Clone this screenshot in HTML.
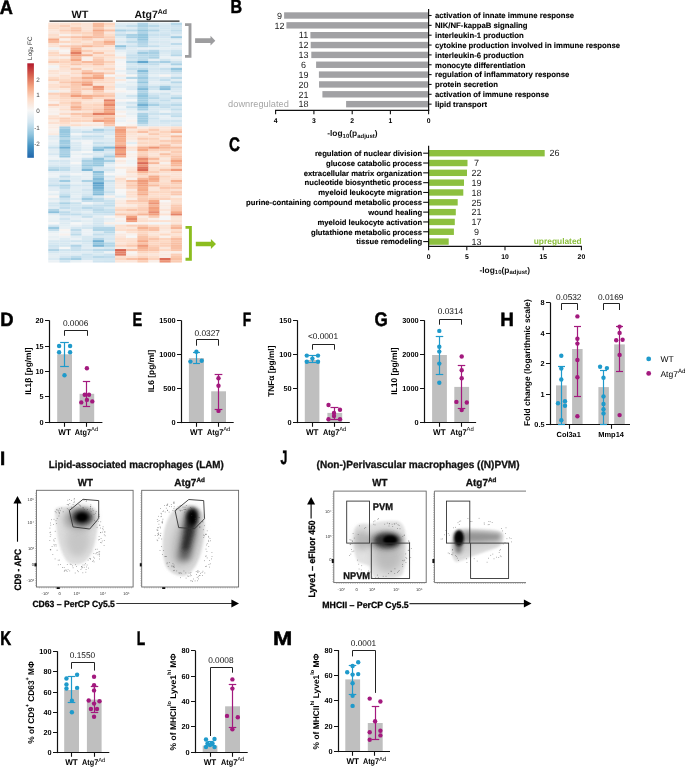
<!DOCTYPE html>
<html><head><meta charset="utf-8"><style>
html,body{margin:0;padding:0;background:#fff;width:685px;height:767px;overflow:hidden}
svg{display:block;will-change:transform}
text{font-family:"Liberation Sans", sans-serif;text-rendering:geometricPrecision}
</style></head><body>
<svg width="685" height="767" viewBox="0 0 685 767">
<text transform="translate(-0.15,13.60) scale(0.934,1)" font-size="19.48" font-weight="bold" fill="#000" stroke="#000" stroke-width="0.5">A</text>
<defs><filter id="hb" x="-2%" y="-2%" width="104%" height="104%"><feGaussianBlur stdDeviation="0.45"/></filter><linearGradient id="cbar" x1="0" y1="0" x2="0" y2="1"><stop offset="0.000" stop-color="#b2182b"/><stop offset="0.125" stop-color="#d6604d"/><stop offset="0.250" stop-color="#f4a582"/><stop offset="0.375" stop-color="#fddbc7"/><stop offset="0.500" stop-color="#f7f7f7"/><stop offset="0.625" stop-color="#d1e5f0"/><stop offset="0.750" stop-color="#92c5de"/><stop offset="0.875" stop-color="#4393c3"/><stop offset="1.000" stop-color="#2166ac"/></linearGradient></defs>
<g filter="url(#hb)">
<rect x="48.25" y="22.65" width="11.23" height="2.36" fill="#fbe3d5" />
<rect x="59.38" y="22.65" width="11.23" height="2.36" fill="#fce1d1" />
<rect x="70.52" y="22.65" width="11.23" height="2.36" fill="#fddbc7" />
<rect x="81.65" y="22.65" width="11.23" height="2.36" fill="#fbe3d5" />
<rect x="92.78" y="22.65" width="11.23" height="2.36" fill="#f8bb9e" />
<rect x="103.92" y="22.65" width="11.23" height="2.36" fill="#fcd5bf" />
<rect x="115.05" y="22.65" width="11.23" height="2.36" fill="#dfecf3" />
<rect x="126.18" y="22.65" width="11.23" height="2.36" fill="#ddebf2" />
<rect x="137.32" y="22.65" width="11.23" height="2.36" fill="#b0d4e7" />
<rect x="148.45" y="22.65" width="11.23" height="2.36" fill="#d6e8f1" />
<rect x="159.58" y="22.65" width="11.23" height="2.36" fill="#dbeaf2" />
<rect x="170.72" y="22.65" width="11.23" height="2.36" fill="#b5d7e8" />
<rect x="48.25" y="24.91" width="11.23" height="2.36" fill="#fdddca" />
<rect x="59.38" y="24.91" width="11.23" height="2.36" fill="#fbcfb8" />
<rect x="70.52" y="24.91" width="11.23" height="2.36" fill="#fce0cf" />
<rect x="81.65" y="24.91" width="11.23" height="2.36" fill="#fbe3d6" />
<rect x="92.78" y="24.91" width="11.23" height="2.36" fill="#f7ba9c" />
<rect x="103.92" y="24.91" width="11.23" height="2.36" fill="#fcdecc" />
<rect x="115.05" y="24.91" width="11.23" height="2.36" fill="#d6e7f1" />
<rect x="126.18" y="24.91" width="11.23" height="2.36" fill="#c4deec" />
<rect x="137.32" y="24.91" width="11.23" height="2.36" fill="#a7d0e4" />
<rect x="148.45" y="24.91" width="11.23" height="2.36" fill="#bad9e9" />
<rect x="159.58" y="24.91" width="11.23" height="2.36" fill="#d4e6f0" />
<rect x="170.72" y="24.91" width="11.23" height="2.36" fill="#cce2ef" />
<rect x="48.25" y="27.16" width="11.23" height="2.36" fill="#fddcc8" />
<rect x="59.38" y="27.16" width="11.23" height="2.36" fill="#fdddca" />
<rect x="70.52" y="27.16" width="11.23" height="2.36" fill="#fac9af" />
<rect x="81.65" y="27.16" width="11.23" height="2.36" fill="#fbe3d5" />
<rect x="92.78" y="27.16" width="11.23" height="2.36" fill="#fac8ae" />
<rect x="103.92" y="27.16" width="11.23" height="2.36" fill="#fbe6d9" />
<rect x="115.05" y="27.16" width="11.23" height="2.36" fill="#ddebf2" />
<rect x="126.18" y="27.16" width="11.23" height="2.36" fill="#dceaf2" />
<rect x="137.32" y="27.16" width="11.23" height="2.36" fill="#b5d7e8" />
<rect x="148.45" y="27.16" width="11.23" height="2.36" fill="#d0e5f0" />
<rect x="159.58" y="27.16" width="11.23" height="2.36" fill="#d1e5f0" />
<rect x="170.72" y="27.16" width="11.23" height="2.36" fill="#cfe4ef" />
<rect x="48.25" y="29.42" width="11.23" height="2.36" fill="#fbe5d8" />
<rect x="59.38" y="29.42" width="11.23" height="2.36" fill="#fbcfb8" />
<rect x="70.52" y="29.42" width="11.23" height="2.36" fill="#f9c0a5" />
<rect x="81.65" y="29.42" width="11.23" height="2.36" fill="#fcdfcf" />
<rect x="92.78" y="29.42" width="11.23" height="2.36" fill="#f4a785" />
<rect x="103.92" y="29.42" width="11.23" height="2.36" fill="#f9c2a7" />
<rect x="115.05" y="29.42" width="11.23" height="2.36" fill="#abd2e5" />
<rect x="126.18" y="29.42" width="11.23" height="2.36" fill="#bbdaea" />
<rect x="137.32" y="29.42" width="11.23" height="2.36" fill="#97c8df" />
<rect x="148.45" y="29.42" width="11.23" height="2.36" fill="#b2d5e7" />
<rect x="159.58" y="29.42" width="11.23" height="2.36" fill="#d3e6f0" />
<rect x="170.72" y="29.42" width="11.23" height="2.36" fill="#bfdceb" />
<rect x="48.25" y="31.68" width="11.23" height="2.36" fill="#fae7dc" />
<rect x="59.38" y="31.68" width="11.23" height="2.36" fill="#fce0d0" />
<rect x="70.52" y="31.68" width="11.23" height="2.36" fill="#fcd5bf" />
<rect x="81.65" y="31.68" width="11.23" height="2.36" fill="#fcd4be" />
<rect x="92.78" y="31.68" width="11.23" height="2.36" fill="#f8bfa4" />
<rect x="103.92" y="31.68" width="11.23" height="2.36" fill="#fbe6db" />
<rect x="115.05" y="31.68" width="11.23" height="2.36" fill="#d6e7f1" />
<rect x="126.18" y="31.68" width="11.23" height="2.36" fill="#e2edf3" />
<rect x="137.32" y="31.68" width="11.23" height="2.36" fill="#b0d4e7" />
<rect x="148.45" y="31.68" width="11.23" height="2.36" fill="#d6e8f1" />
<rect x="159.58" y="31.68" width="11.23" height="2.36" fill="#d4e7f1" />
<rect x="170.72" y="31.68" width="11.23" height="2.36" fill="#d1e5f0" />
<rect x="48.25" y="33.93" width="11.23" height="2.36" fill="#fcdecd" />
<rect x="59.38" y="33.93" width="11.23" height="2.36" fill="#f8f1ec" />
<rect x="70.52" y="33.93" width="11.23" height="2.36" fill="#fbe6da" />
<rect x="81.65" y="33.93" width="11.23" height="2.36" fill="#fddcc8" />
<rect x="92.78" y="33.93" width="11.23" height="2.36" fill="#f9c3a9" />
<rect x="103.92" y="33.93" width="11.23" height="2.36" fill="#fcdecb" />
<rect x="115.05" y="33.93" width="11.23" height="2.36" fill="#c3deec" />
<rect x="126.18" y="33.93" width="11.23" height="2.36" fill="#a9d1e5" />
<rect x="137.32" y="33.93" width="11.23" height="2.36" fill="#95c7df" />
<rect x="148.45" y="33.93" width="11.23" height="2.36" fill="#c9e1ee" />
<rect x="159.58" y="33.93" width="11.23" height="2.36" fill="#cde3ef" />
<rect x="170.72" y="33.93" width="11.23" height="2.36" fill="#dfecf3" />
<rect x="48.25" y="36.19" width="11.23" height="2.36" fill="#fcdecc" />
<rect x="59.38" y="36.19" width="11.23" height="2.36" fill="#fbd0b9" />
<rect x="70.52" y="36.19" width="11.23" height="2.36" fill="#f9c1a6" />
<rect x="81.65" y="36.19" width="11.23" height="2.36" fill="#f7b697" />
<rect x="92.78" y="36.19" width="11.23" height="2.36" fill="#f8bea3" />
<rect x="103.92" y="36.19" width="11.23" height="2.36" fill="#fbcfb8" />
<rect x="115.05" y="36.19" width="11.23" height="2.36" fill="#d6e8f1" />
<rect x="126.18" y="36.19" width="11.23" height="2.36" fill="#a6cfe4" />
<rect x="137.32" y="36.19" width="11.23" height="2.36" fill="#91c5de" />
<rect x="148.45" y="36.19" width="11.23" height="2.36" fill="#d2e6f0" />
<rect x="159.58" y="36.19" width="11.23" height="2.36" fill="#d4e6f1" />
<rect x="170.72" y="36.19" width="11.23" height="2.36" fill="#9fcbe2" />
<rect x="48.25" y="38.45" width="11.23" height="2.36" fill="#f5a987" />
<rect x="59.38" y="38.45" width="11.23" height="2.36" fill="#f9f0ea" />
<rect x="70.52" y="38.45" width="11.23" height="2.36" fill="#fddcc9" />
<rect x="81.65" y="38.45" width="11.23" height="2.36" fill="#fbd1ba" />
<rect x="92.78" y="38.45" width="11.23" height="2.36" fill="#fbe5d8" />
<rect x="103.92" y="38.45" width="11.23" height="2.36" fill="#fbd1bb" />
<rect x="115.05" y="38.45" width="11.23" height="2.36" fill="#e4eef3" />
<rect x="126.18" y="38.45" width="11.23" height="2.36" fill="#d3e6f0" />
<rect x="137.32" y="38.45" width="11.23" height="2.36" fill="#96c7df" />
<rect x="148.45" y="38.45" width="11.23" height="2.36" fill="#dceaf2" />
<rect x="159.58" y="38.45" width="11.23" height="2.36" fill="#ddebf2" />
<rect x="170.72" y="38.45" width="11.23" height="2.36" fill="#e1edf3" />
<rect x="48.25" y="40.70" width="11.23" height="2.36" fill="#f8bda0" />
<rect x="59.38" y="40.70" width="11.23" height="2.36" fill="#fcd7c2" />
<rect x="70.52" y="40.70" width="11.23" height="2.36" fill="#fddbc6" />
<rect x="81.65" y="40.70" width="11.23" height="2.36" fill="#fbe5d8" />
<rect x="92.78" y="40.70" width="11.23" height="2.36" fill="#fbccb4" />
<rect x="103.92" y="40.70" width="11.23" height="2.36" fill="#f5ac8b" />
<rect x="115.05" y="40.70" width="11.23" height="2.36" fill="#d9e9f1" />
<rect x="126.18" y="40.70" width="11.23" height="2.36" fill="#bfdceb" />
<rect x="137.32" y="40.70" width="11.23" height="2.36" fill="#aed3e6" />
<rect x="148.45" y="40.70" width="11.23" height="2.36" fill="#d4e6f0" />
<rect x="159.58" y="40.70" width="11.23" height="2.36" fill="#d9e9f1" />
<rect x="170.72" y="40.70" width="11.23" height="2.36" fill="#e4eef4" />
<rect x="48.25" y="42.96" width="11.23" height="2.36" fill="#fce1d2" />
<rect x="59.38" y="42.96" width="11.23" height="2.36" fill="#f9ede7" />
<rect x="70.52" y="42.96" width="11.23" height="2.36" fill="#fbe3d5" />
<rect x="81.65" y="42.96" width="11.23" height="2.36" fill="#fddbc7" />
<rect x="92.78" y="42.96" width="11.23" height="2.36" fill="#fbceb6" />
<rect x="103.92" y="42.96" width="11.23" height="2.36" fill="#f7b99c" />
<rect x="115.05" y="42.96" width="11.23" height="2.36" fill="#e4eef4" />
<rect x="126.18" y="42.96" width="11.23" height="2.36" fill="#dae9f2" />
<rect x="137.32" y="42.96" width="11.23" height="2.36" fill="#b8d8e9" />
<rect x="148.45" y="42.96" width="11.23" height="2.36" fill="#deebf2" />
<rect x="159.58" y="42.96" width="11.23" height="2.36" fill="#ddeaf2" />
<rect x="170.72" y="42.96" width="11.23" height="2.36" fill="#bedbeb" />
<rect x="48.25" y="45.22" width="11.23" height="2.36" fill="#fbe2d4" />
<rect x="59.38" y="45.22" width="11.23" height="2.36" fill="#fbceb7" />
<rect x="70.52" y="45.22" width="11.23" height="2.36" fill="#f9c5ab" />
<rect x="81.65" y="45.22" width="11.23" height="2.36" fill="#f7b596" />
<rect x="92.78" y="45.22" width="11.23" height="2.36" fill="#fac9b0" />
<rect x="103.92" y="45.22" width="11.23" height="2.36" fill="#fcdfcf" />
<rect x="115.05" y="45.22" width="11.23" height="2.36" fill="#8fc3dd" />
<rect x="126.18" y="45.22" width="11.23" height="2.36" fill="#c8e1ee" />
<rect x="137.32" y="45.22" width="11.23" height="2.36" fill="#b2d5e7" />
<rect x="148.45" y="45.22" width="11.23" height="2.36" fill="#c3deec" />
<rect x="159.58" y="45.22" width="11.23" height="2.36" fill="#d7e8f1" />
<rect x="170.72" y="45.22" width="11.23" height="2.36" fill="#e0ecf3" />
<rect x="48.25" y="47.47" width="11.23" height="2.36" fill="#eff3f6" />
<rect x="59.38" y="47.47" width="11.23" height="2.36" fill="#faeae1" />
<rect x="70.52" y="47.47" width="11.23" height="2.36" fill="#f6b293" />
<rect x="81.65" y="47.47" width="11.23" height="2.36" fill="#fae7db" />
<rect x="92.78" y="47.47" width="11.23" height="2.36" fill="#fae9df" />
<rect x="103.92" y="47.47" width="11.23" height="2.36" fill="#fae8de" />
<rect x="115.05" y="47.47" width="11.23" height="2.36" fill="#c3deec" />
<rect x="126.18" y="47.47" width="11.23" height="2.36" fill="#deebf2" />
<rect x="137.32" y="47.47" width="11.23" height="2.36" fill="#e6eff4" />
<rect x="148.45" y="47.47" width="11.23" height="2.36" fill="#e8f0f4" />
<rect x="159.58" y="47.47" width="11.23" height="2.36" fill="#e4eef4" />
<rect x="170.72" y="47.47" width="11.23" height="2.36" fill="#e3edf3" />
<rect x="48.25" y="49.73" width="11.23" height="2.36" fill="#fae7dc" />
<rect x="59.38" y="49.73" width="11.23" height="2.36" fill="#f8f5f3" />
<rect x="70.52" y="49.73" width="11.23" height="2.36" fill="#f4a784" />
<rect x="81.65" y="49.73" width="11.23" height="2.36" fill="#fbcdb5" />
<rect x="92.78" y="49.73" width="11.23" height="2.36" fill="#fce2d3" />
<rect x="103.92" y="49.73" width="11.23" height="2.36" fill="#fce1d1" />
<rect x="115.05" y="49.73" width="11.23" height="2.36" fill="#e5eef4" />
<rect x="126.18" y="49.73" width="11.23" height="2.36" fill="#dbeaf2" />
<rect x="137.32" y="49.73" width="11.23" height="2.36" fill="#c6dfed" />
<rect x="148.45" y="49.73" width="11.23" height="2.36" fill="#b4d6e8" />
<rect x="159.58" y="49.73" width="11.23" height="2.36" fill="#d5e7f1" />
<rect x="170.72" y="49.73" width="11.23" height="2.36" fill="#cce3ef" />
<rect x="48.25" y="51.98" width="11.23" height="2.36" fill="#fcd8c3" />
<rect x="59.38" y="51.98" width="11.23" height="2.36" fill="#f9efea" />
<rect x="70.52" y="51.98" width="11.23" height="2.36" fill="#e27d63" />
<rect x="81.65" y="51.98" width="11.23" height="2.36" fill="#fbe2d4" />
<rect x="92.78" y="51.98" width="11.23" height="2.36" fill="#f9c3a8" />
<rect x="103.92" y="51.98" width="11.23" height="2.36" fill="#fae8dd" />
<rect x="115.05" y="51.98" width="11.23" height="2.36" fill="#eef3f5" />
<rect x="126.18" y="51.98" width="11.23" height="2.36" fill="#d8e8f1" />
<rect x="137.32" y="51.98" width="11.23" height="2.36" fill="#9ecbe1" />
<rect x="148.45" y="51.98" width="11.23" height="2.36" fill="#a8d0e4" />
<rect x="159.58" y="51.98" width="11.23" height="2.36" fill="#dbeaf2" />
<rect x="170.72" y="51.98" width="11.23" height="2.36" fill="#cae2ee" />
<rect x="48.25" y="54.24" width="11.23" height="2.36" fill="#fdd9c4" />
<rect x="59.38" y="54.24" width="11.23" height="2.36" fill="#fbd1ba" />
<rect x="70.52" y="54.24" width="11.23" height="2.36" fill="#f2a17f" />
<rect x="81.65" y="54.24" width="11.23" height="2.36" fill="#f6b191" />
<rect x="92.78" y="54.24" width="11.23" height="2.36" fill="#fce1d1" />
<rect x="103.92" y="54.24" width="11.23" height="2.36" fill="#fcd6c1" />
<rect x="115.05" y="54.24" width="11.23" height="2.36" fill="#eef3f5" />
<rect x="126.18" y="54.24" width="11.23" height="2.36" fill="#c5dfed" />
<rect x="137.32" y="54.24" width="11.23" height="2.36" fill="#b6d7e8" />
<rect x="148.45" y="54.24" width="11.23" height="2.36" fill="#b1d5e7" />
<rect x="159.58" y="54.24" width="11.23" height="2.36" fill="#deebf2" />
<rect x="170.72" y="54.24" width="11.23" height="2.36" fill="#b6d7e8" />
<rect x="48.25" y="56.50" width="11.23" height="2.36" fill="#fae9df" />
<rect x="59.38" y="56.50" width="11.23" height="2.36" fill="#f9eee7" />
<rect x="70.52" y="56.50" width="11.23" height="2.36" fill="#f8bda0" />
<rect x="81.65" y="56.50" width="11.23" height="2.36" fill="#f9efe8" />
<rect x="92.78" y="56.50" width="11.23" height="2.36" fill="#fbd1ba" />
<rect x="103.92" y="56.50" width="11.23" height="2.36" fill="#fce2d2" />
<rect x="115.05" y="56.50" width="11.23" height="2.36" fill="#fae8dd" />
<rect x="126.18" y="56.50" width="11.23" height="2.36" fill="#c4deec" />
<rect x="137.32" y="56.50" width="11.23" height="2.36" fill="#bbdaea" />
<rect x="148.45" y="56.50" width="11.23" height="2.36" fill="#abd2e5" />
<rect x="159.58" y="56.50" width="11.23" height="2.36" fill="#eaf1f5" />
<rect x="170.72" y="56.50" width="11.23" height="2.36" fill="#edf2f5" />
<rect x="48.25" y="58.75" width="11.23" height="2.36" fill="#fcdecc" />
<rect x="59.38" y="58.75" width="11.23" height="2.36" fill="#fddbc6" />
<rect x="70.52" y="58.75" width="11.23" height="2.36" fill="#f5a987" />
<rect x="81.65" y="58.75" width="11.23" height="2.36" fill="#f9efe9" />
<rect x="92.78" y="58.75" width="11.23" height="2.36" fill="#fac8af" />
<rect x="103.92" y="58.75" width="11.23" height="2.36" fill="#fbe5d8" />
<rect x="115.05" y="58.75" width="11.23" height="2.36" fill="#f1f4f6" />
<rect x="126.18" y="58.75" width="11.23" height="2.36" fill="#d3e6f0" />
<rect x="137.32" y="58.75" width="11.23" height="2.36" fill="#bbdaea" />
<rect x="148.45" y="58.75" width="11.23" height="2.36" fill="#e7eff4" />
<rect x="159.58" y="58.75" width="11.23" height="2.36" fill="#d2e6f0" />
<rect x="170.72" y="58.75" width="11.23" height="2.36" fill="#e3eef3" />
<rect x="48.25" y="61.01" width="11.23" height="2.36" fill="#fac9b0" />
<rect x="59.38" y="61.01" width="11.23" height="2.36" fill="#fcd3bd" />
<rect x="70.52" y="61.01" width="11.23" height="2.36" fill="#fbcfb8" />
<rect x="81.65" y="61.01" width="11.23" height="2.36" fill="#f8ba9d" />
<rect x="92.78" y="61.01" width="11.23" height="2.36" fill="#f9c2a7" />
<rect x="103.92" y="61.01" width="11.23" height="2.36" fill="#fbd1ba" />
<rect x="115.05" y="61.01" width="11.23" height="2.36" fill="#f5f6f7" />
<rect x="126.18" y="61.01" width="11.23" height="2.36" fill="#aad1e5" />
<rect x="137.32" y="61.01" width="11.23" height="2.36" fill="#63a7ce" />
<rect x="148.45" y="61.01" width="11.23" height="2.36" fill="#b6d7e8" />
<rect x="159.58" y="61.01" width="11.23" height="2.36" fill="#a7cfe4" />
<rect x="170.72" y="61.01" width="11.23" height="2.36" fill="#cce2ee" />
<rect x="48.25" y="63.27" width="11.23" height="2.36" fill="#fae9de" />
<rect x="59.38" y="63.27" width="11.23" height="2.36" fill="#fddcc9" />
<rect x="70.52" y="63.27" width="11.23" height="2.36" fill="#f9c4a9" />
<rect x="81.65" y="63.27" width="11.23" height="2.36" fill="#fcd5c0" />
<rect x="92.78" y="63.27" width="11.23" height="2.36" fill="#f8bca0" />
<rect x="103.92" y="63.27" width="11.23" height="2.36" fill="#fcdecc" />
<rect x="115.05" y="63.27" width="11.23" height="2.36" fill="#f7f5f4" />
<rect x="126.18" y="63.27" width="11.23" height="2.36" fill="#d5e7f1" />
<rect x="137.32" y="63.27" width="11.23" height="2.36" fill="#c1ddeb" />
<rect x="148.45" y="63.27" width="11.23" height="2.36" fill="#c0dceb" />
<rect x="159.58" y="63.27" width="11.23" height="2.36" fill="#deebf2" />
<rect x="170.72" y="63.27" width="11.23" height="2.36" fill="#aad1e5" />
<rect x="48.25" y="65.52" width="11.23" height="2.36" fill="#f1f4f6" />
<rect x="59.38" y="65.52" width="11.23" height="2.36" fill="#fddbc7" />
<rect x="70.52" y="65.52" width="11.23" height="2.36" fill="#fae7dc" />
<rect x="81.65" y="65.52" width="11.23" height="2.36" fill="#fce1d1" />
<rect x="92.78" y="65.52" width="11.23" height="2.36" fill="#fcdfce" />
<rect x="103.92" y="65.52" width="11.23" height="2.36" fill="#fbe5d9" />
<rect x="115.05" y="65.52" width="11.23" height="2.36" fill="#f2f5f6" />
<rect x="126.18" y="65.52" width="11.23" height="2.36" fill="#d2e6f0" />
<rect x="137.32" y="65.52" width="11.23" height="2.36" fill="#d4e6f1" />
<rect x="148.45" y="65.52" width="11.23" height="2.36" fill="#d9e9f1" />
<rect x="159.58" y="65.52" width="11.23" height="2.36" fill="#e5eef4" />
<rect x="170.72" y="65.52" width="11.23" height="2.36" fill="#e3eef3" />
<rect x="48.25" y="67.78" width="11.23" height="2.36" fill="#f8f1ec" />
<rect x="59.38" y="67.78" width="11.23" height="2.36" fill="#fbe3d5" />
<rect x="70.52" y="67.78" width="11.23" height="2.36" fill="#f9c6ac" />
<rect x="81.65" y="67.78" width="11.23" height="2.36" fill="#fae9de" />
<rect x="92.78" y="67.78" width="11.23" height="2.36" fill="#fdddcb" />
<rect x="103.92" y="67.78" width="11.23" height="2.36" fill="#fcd6c0" />
<rect x="115.05" y="67.78" width="11.23" height="2.36" fill="#f8f4f2" />
<rect x="126.18" y="67.78" width="11.23" height="2.36" fill="#c4deec" />
<rect x="137.32" y="67.78" width="11.23" height="2.36" fill="#b9d9e9" />
<rect x="148.45" y="67.78" width="11.23" height="2.36" fill="#d4e6f0" />
<rect x="159.58" y="67.78" width="11.23" height="2.36" fill="#c8e0ed" />
<rect x="170.72" y="67.78" width="11.23" height="2.36" fill="#93c5de" />
<rect x="48.25" y="70.04" width="11.23" height="2.36" fill="#fce2d3" />
<rect x="59.38" y="70.04" width="11.23" height="2.36" fill="#fbe6d9" />
<rect x="70.52" y="70.04" width="11.23" height="2.36" fill="#fce2d3" />
<rect x="81.65" y="70.04" width="11.23" height="2.36" fill="#fac8af" />
<rect x="92.78" y="70.04" width="11.23" height="2.36" fill="#fae7dc" />
<rect x="103.92" y="70.04" width="11.23" height="2.36" fill="#fbe4d6" />
<rect x="115.05" y="70.04" width="11.23" height="2.36" fill="#e9f0f4" />
<rect x="126.18" y="70.04" width="11.23" height="2.36" fill="#d9e9f1" />
<rect x="137.32" y="70.04" width="11.23" height="2.36" fill="#83bcd9" />
<rect x="148.45" y="70.04" width="11.23" height="2.36" fill="#d9e9f1" />
<rect x="159.58" y="70.04" width="11.23" height="2.36" fill="#d5e7f1" />
<rect x="170.72" y="70.04" width="11.23" height="2.36" fill="#b5d7e8" />
<rect x="48.25" y="72.29" width="11.23" height="2.36" fill="#fbe4d6" />
<rect x="59.38" y="72.29" width="11.23" height="2.36" fill="#faebe3" />
<rect x="70.52" y="72.29" width="11.23" height="2.36" fill="#fdd9c5" />
<rect x="81.65" y="72.29" width="11.23" height="2.36" fill="#f5a987" />
<rect x="92.78" y="72.29" width="11.23" height="2.36" fill="#f7b496" />
<rect x="103.92" y="72.29" width="11.23" height="2.36" fill="#fbcfb8" />
<rect x="115.05" y="72.29" width="11.23" height="2.36" fill="#f3f5f6" />
<rect x="126.18" y="72.29" width="11.23" height="2.36" fill="#d2e5f0" />
<rect x="137.32" y="72.29" width="11.23" height="2.36" fill="#a5cfe3" />
<rect x="148.45" y="72.29" width="11.23" height="2.36" fill="#d9e9f1" />
<rect x="159.58" y="72.29" width="11.23" height="2.36" fill="#d8e8f1" />
<rect x="170.72" y="72.29" width="11.23" height="2.36" fill="#cfe4ef" />
<rect x="48.25" y="74.55" width="11.23" height="2.36" fill="#faeae1" />
<rect x="59.38" y="74.55" width="11.23" height="2.36" fill="#fcdfce" />
<rect x="70.52" y="74.55" width="11.23" height="2.36" fill="#fbe5d9" />
<rect x="81.65" y="74.55" width="11.23" height="2.36" fill="#fcd3bd" />
<rect x="92.78" y="74.55" width="11.23" height="2.36" fill="#f5ae8d" />
<rect x="103.92" y="74.55" width="11.23" height="2.36" fill="#f5f6f7" />
<rect x="115.05" y="74.55" width="11.23" height="2.36" fill="#f9ece5" />
<rect x="126.18" y="74.55" width="11.23" height="2.36" fill="#f7f5f3" />
<rect x="137.32" y="74.55" width="11.23" height="2.36" fill="#b2d5e7" />
<rect x="148.45" y="74.55" width="11.23" height="2.36" fill="#e7f0f4" />
<rect x="159.58" y="74.55" width="11.23" height="2.36" fill="#f8f4f2" />
<rect x="170.72" y="74.55" width="11.23" height="2.36" fill="#dfecf3" />
<rect x="48.25" y="76.81" width="11.23" height="2.36" fill="#fddbc7" />
<rect x="59.38" y="76.81" width="11.23" height="2.36" fill="#fce2d2" />
<rect x="70.52" y="76.81" width="11.23" height="2.36" fill="#fbcfb8" />
<rect x="81.65" y="76.81" width="11.23" height="2.36" fill="#f5ab89" />
<rect x="92.78" y="76.81" width="11.23" height="2.36" fill="#f3a280" />
<rect x="103.92" y="76.81" width="11.23" height="2.36" fill="#fddcc9" />
<rect x="115.05" y="76.81" width="11.23" height="2.36" fill="#eaf1f5" />
<rect x="126.18" y="76.81" width="11.23" height="2.36" fill="#b7d8e8" />
<rect x="137.32" y="76.81" width="11.23" height="2.36" fill="#9bcae1" />
<rect x="148.45" y="76.81" width="11.23" height="2.36" fill="#d6e7f1" />
<rect x="159.58" y="76.81" width="11.23" height="2.36" fill="#d4e6f0" />
<rect x="170.72" y="76.81" width="11.23" height="2.36" fill="#b9d9e9" />
<rect x="48.25" y="79.06" width="11.23" height="2.36" fill="#fbd0b8" />
<rect x="59.38" y="79.06" width="11.23" height="2.36" fill="#fcd8c3" />
<rect x="70.52" y="79.06" width="11.23" height="2.36" fill="#fcd3bd" />
<rect x="81.65" y="79.06" width="11.23" height="2.36" fill="#fac7ae" />
<rect x="92.78" y="79.06" width="11.23" height="2.36" fill="#fcd3bd" />
<rect x="103.92" y="79.06" width="11.23" height="2.36" fill="#fce0d0" />
<rect x="115.05" y="79.06" width="11.23" height="2.36" fill="#faeae0" />
<rect x="126.18" y="79.06" width="11.23" height="2.36" fill="#f1f4f6" />
<rect x="137.32" y="79.06" width="11.23" height="2.36" fill="#b2d5e7" />
<rect x="148.45" y="79.06" width="11.23" height="2.36" fill="#dceaf2" />
<rect x="159.58" y="79.06" width="11.23" height="2.36" fill="#c2deec" />
<rect x="170.72" y="79.06" width="11.23" height="2.36" fill="#e2edf3" />
<rect x="48.25" y="81.32" width="11.23" height="2.36" fill="#fae9e0" />
<rect x="59.38" y="81.32" width="11.23" height="2.36" fill="#fac8af" />
<rect x="70.52" y="81.32" width="11.23" height="2.36" fill="#f7b596" />
<rect x="81.65" y="81.32" width="11.23" height="2.36" fill="#f5a987" />
<rect x="92.78" y="81.32" width="11.23" height="2.36" fill="#fddac6" />
<rect x="103.92" y="81.32" width="11.23" height="2.36" fill="#fddbc7" />
<rect x="115.05" y="81.32" width="11.23" height="2.36" fill="#f0f4f6" />
<rect x="126.18" y="81.32" width="11.23" height="2.36" fill="#dfecf3" />
<rect x="137.32" y="81.32" width="11.23" height="2.36" fill="#93c6de" />
<rect x="148.45" y="81.32" width="11.23" height="2.36" fill="#e5eef4" />
<rect x="159.58" y="81.32" width="11.23" height="2.36" fill="#dfecf3" />
<rect x="170.72" y="81.32" width="11.23" height="2.36" fill="#b6d7e8" />
<rect x="48.25" y="83.58" width="11.23" height="2.36" fill="#fce0cf" />
<rect x="59.38" y="83.58" width="11.23" height="2.36" fill="#fdddcb" />
<rect x="70.52" y="83.58" width="11.23" height="2.36" fill="#fac6ad" />
<rect x="81.65" y="83.58" width="11.23" height="2.36" fill="#ed9576" />
<rect x="92.78" y="83.58" width="11.23" height="2.36" fill="#fbe6d9" />
<rect x="103.92" y="83.58" width="11.23" height="2.36" fill="#fbe5d8" />
<rect x="115.05" y="83.58" width="11.23" height="2.36" fill="#e3eef3" />
<rect x="126.18" y="83.58" width="11.23" height="2.36" fill="#e8f0f4" />
<rect x="137.32" y="83.58" width="11.23" height="2.36" fill="#b8d8e9" />
<rect x="148.45" y="83.58" width="11.23" height="2.36" fill="#e0ecf3" />
<rect x="159.58" y="83.58" width="11.23" height="2.36" fill="#d9e9f1" />
<rect x="170.72" y="83.58" width="11.23" height="2.36" fill="#d9e9f1" />
<rect x="48.25" y="85.83" width="11.23" height="2.36" fill="#fce0d0" />
<rect x="59.38" y="85.83" width="11.23" height="2.36" fill="#fbd1bb" />
<rect x="70.52" y="85.83" width="11.23" height="2.36" fill="#faccb3" />
<rect x="81.65" y="85.83" width="11.23" height="2.36" fill="#fddac6" />
<rect x="92.78" y="85.83" width="11.23" height="2.36" fill="#ed9475" />
<rect x="103.92" y="85.83" width="11.23" height="2.36" fill="#fddcc9" />
<rect x="115.05" y="85.83" width="11.23" height="2.36" fill="#e4eef4" />
<rect x="126.18" y="85.83" width="11.23" height="2.36" fill="#dceaf2" />
<rect x="137.32" y="85.83" width="11.23" height="2.36" fill="#a3cde3" />
<rect x="148.45" y="85.83" width="11.23" height="2.36" fill="#c8e0ed" />
<rect x="159.58" y="85.83" width="11.23" height="2.36" fill="#9bc9e1" />
<rect x="170.72" y="85.83" width="11.23" height="2.36" fill="#cae1ee" />
<rect x="48.25" y="88.09" width="11.23" height="2.36" fill="#fbe6d9" />
<rect x="59.38" y="88.09" width="11.23" height="2.36" fill="#fbe7db" />
<rect x="70.52" y="88.09" width="11.23" height="2.36" fill="#facbb3" />
<rect x="81.65" y="88.09" width="11.23" height="2.36" fill="#fac8af" />
<rect x="92.78" y="88.09" width="11.23" height="2.36" fill="#f19f7e" />
<rect x="103.92" y="88.09" width="11.23" height="2.36" fill="#fce0cf" />
<rect x="115.05" y="88.09" width="11.23" height="2.36" fill="#f4f6f6" />
<rect x="126.18" y="88.09" width="11.23" height="2.36" fill="#dae9f2" />
<rect x="137.32" y="88.09" width="11.23" height="2.36" fill="#81bad8" />
<rect x="148.45" y="88.09" width="11.23" height="2.36" fill="#cfe4ef" />
<rect x="159.58" y="88.09" width="11.23" height="2.36" fill="#89bfdb" />
<rect x="170.72" y="88.09" width="11.23" height="2.36" fill="#d7e8f1" />
<rect x="48.25" y="90.35" width="11.23" height="2.36" fill="#eaf1f5" />
<rect x="59.38" y="90.35" width="11.23" height="2.36" fill="#f9ece4" />
<rect x="70.52" y="90.35" width="11.23" height="2.36" fill="#fac7ae" />
<rect x="81.65" y="90.35" width="11.23" height="2.36" fill="#fbe4d6" />
<rect x="92.78" y="90.35" width="11.23" height="2.36" fill="#facab1" />
<rect x="103.92" y="90.35" width="11.23" height="2.36" fill="#faebe3" />
<rect x="115.05" y="90.35" width="11.23" height="2.36" fill="#f8f2ee" />
<rect x="126.18" y="90.35" width="11.23" height="2.36" fill="#f3f5f6" />
<rect x="137.32" y="90.35" width="11.23" height="2.36" fill="#afd3e6" />
<rect x="148.45" y="90.35" width="11.23" height="2.36" fill="#e8f0f4" />
<rect x="159.58" y="90.35" width="11.23" height="2.36" fill="#e7eff4" />
<rect x="170.72" y="90.35" width="11.23" height="2.36" fill="#d8e8f1" />
<rect x="48.25" y="92.60" width="11.23" height="2.36" fill="#fbd0b8" />
<rect x="59.38" y="92.60" width="11.23" height="2.36" fill="#facbb2" />
<rect x="70.52" y="92.60" width="11.23" height="2.36" fill="#f8bea2" />
<rect x="81.65" y="92.60" width="11.23" height="2.36" fill="#fce0cf" />
<rect x="92.78" y="92.60" width="11.23" height="2.36" fill="#fbd0b8" />
<rect x="103.92" y="92.60" width="11.23" height="2.36" fill="#fbd2bb" />
<rect x="115.05" y="92.60" width="11.23" height="2.36" fill="#e9f0f4" />
<rect x="126.18" y="92.60" width="11.23" height="2.36" fill="#edf2f5" />
<rect x="137.32" y="92.60" width="11.23" height="2.36" fill="#a1cde2" />
<rect x="148.45" y="92.60" width="11.23" height="2.36" fill="#d5e7f1" />
<rect x="159.58" y="92.60" width="11.23" height="2.36" fill="#cfe4ef" />
<rect x="170.72" y="92.60" width="11.23" height="2.36" fill="#e7eff4" />
<rect x="48.25" y="94.86" width="11.23" height="2.36" fill="#fce0d0" />
<rect x="59.38" y="94.86" width="11.23" height="2.36" fill="#fbd1bb" />
<rect x="70.52" y="94.86" width="11.23" height="2.36" fill="#f19d7c" />
<rect x="81.65" y="94.86" width="11.23" height="2.36" fill="#f5ad8c" />
<rect x="92.78" y="94.86" width="11.23" height="2.36" fill="#f7b99c" />
<rect x="103.92" y="94.86" width="11.23" height="2.36" fill="#fac7ad" />
<rect x="115.05" y="94.86" width="11.23" height="2.36" fill="#e7f0f4" />
<rect x="126.18" y="94.86" width="11.23" height="2.36" fill="#cfe4ef" />
<rect x="137.32" y="94.86" width="11.23" height="2.36" fill="#91c5de" />
<rect x="148.45" y="94.86" width="11.23" height="2.36" fill="#c7e0ed" />
<rect x="159.58" y="94.86" width="11.23" height="2.36" fill="#d9e9f2" />
<rect x="170.72" y="94.86" width="11.23" height="2.36" fill="#cee4ef" />
<rect x="48.25" y="97.12" width="11.23" height="2.36" fill="#fcdfcd" />
<rect x="59.38" y="97.12" width="11.23" height="2.36" fill="#fcd8c3" />
<rect x="70.52" y="97.12" width="11.23" height="2.36" fill="#fbd0b9" />
<rect x="81.65" y="97.12" width="11.23" height="2.36" fill="#f7b495" />
<rect x="92.78" y="97.12" width="11.23" height="2.36" fill="#fcd7c2" />
<rect x="103.92" y="97.12" width="11.23" height="2.36" fill="#fdd8c4" />
<rect x="115.05" y="97.12" width="11.23" height="2.36" fill="#e5eef4" />
<rect x="126.18" y="97.12" width="11.23" height="2.36" fill="#dfecf3" />
<rect x="137.32" y="97.12" width="11.23" height="2.36" fill="#9ecbe1" />
<rect x="148.45" y="97.12" width="11.23" height="2.36" fill="#b5d7e8" />
<rect x="159.58" y="97.12" width="11.23" height="2.36" fill="#d2e5f0" />
<rect x="170.72" y="97.12" width="11.23" height="2.36" fill="#acd2e5" />
<rect x="48.25" y="99.37" width="11.23" height="2.36" fill="#fbe5d8" />
<rect x="59.38" y="99.37" width="11.23" height="2.36" fill="#fdddca" />
<rect x="70.52" y="99.37" width="11.23" height="2.36" fill="#fddcc8" />
<rect x="81.65" y="99.37" width="11.23" height="2.36" fill="#fce0d0" />
<rect x="92.78" y="99.37" width="11.23" height="2.36" fill="#fbe6da" />
<rect x="103.92" y="99.37" width="11.23" height="2.36" fill="#e48066" />
<rect x="115.05" y="99.37" width="11.23" height="2.36" fill="#f8f4f2" />
<rect x="126.18" y="99.37" width="11.23" height="2.36" fill="#f7f7f7" />
<rect x="137.32" y="99.37" width="11.23" height="2.36" fill="#a1cde2" />
<rect x="148.45" y="99.37" width="11.23" height="2.36" fill="#d3e6f0" />
<rect x="159.58" y="99.37" width="11.23" height="2.36" fill="#c3deec" />
<rect x="170.72" y="99.37" width="11.23" height="2.36" fill="#deebf2" />
<rect x="48.25" y="101.63" width="11.23" height="2.36" fill="#f9efea" />
<rect x="59.38" y="101.63" width="11.23" height="2.36" fill="#fcd7c2" />
<rect x="70.52" y="101.63" width="11.23" height="2.36" fill="#f9c0a5" />
<rect x="81.65" y="101.63" width="11.23" height="2.36" fill="#fbe3d5" />
<rect x="92.78" y="101.63" width="11.23" height="2.36" fill="#fce1d0" />
<rect x="103.92" y="101.63" width="11.23" height="2.36" fill="#f3a280" />
<rect x="115.05" y="101.63" width="11.23" height="2.36" fill="#e3edf3" />
<rect x="126.18" y="101.63" width="11.23" height="2.36" fill="#cfe4ef" />
<rect x="137.32" y="101.63" width="11.23" height="2.36" fill="#9dcbe1" />
<rect x="148.45" y="101.63" width="11.23" height="2.36" fill="#c8e1ee" />
<rect x="159.58" y="101.63" width="11.23" height="2.36" fill="#d6e8f1" />
<rect x="170.72" y="101.63" width="11.23" height="2.36" fill="#d1e5f0" />
<rect x="48.25" y="103.88" width="11.23" height="2.36" fill="#fbcdb6" />
<rect x="59.38" y="103.88" width="11.23" height="2.36" fill="#fce0cf" />
<rect x="70.52" y="103.88" width="11.23" height="2.36" fill="#facbb3" />
<rect x="81.65" y="103.88" width="11.23" height="2.36" fill="#fddac6" />
<rect x="92.78" y="103.88" width="11.23" height="2.36" fill="#fcd4be" />
<rect x="103.92" y="103.88" width="11.23" height="2.36" fill="#e7876b" />
<rect x="115.05" y="103.88" width="11.23" height="2.36" fill="#e5eff4" />
<rect x="126.18" y="103.88" width="11.23" height="2.36" fill="#e0ecf3" />
<rect x="137.32" y="103.88" width="11.23" height="2.36" fill="#73b1d3" />
<rect x="148.45" y="103.88" width="11.23" height="2.36" fill="#a7d0e4" />
<rect x="159.58" y="103.88" width="11.23" height="2.36" fill="#c7e0ed" />
<rect x="170.72" y="103.88" width="11.23" height="2.36" fill="#b9d9e9" />
<rect x="48.25" y="106.14" width="11.23" height="2.36" fill="#fae8dd" />
<rect x="59.38" y="106.14" width="11.23" height="2.36" fill="#fbe5d9" />
<rect x="70.52" y="106.14" width="11.23" height="2.36" fill="#f5ae8d" />
<rect x="81.65" y="106.14" width="11.23" height="2.36" fill="#fcd8c3" />
<rect x="92.78" y="106.14" width="11.23" height="2.36" fill="#fdd8c4" />
<rect x="103.92" y="106.14" width="11.23" height="2.36" fill="#f5aa89" />
<rect x="115.05" y="106.14" width="11.23" height="2.36" fill="#f1f4f6" />
<rect x="126.18" y="106.14" width="11.23" height="2.36" fill="#c7e0ed" />
<rect x="137.32" y="106.14" width="11.23" height="2.36" fill="#9bcae1" />
<rect x="148.45" y="106.14" width="11.23" height="2.36" fill="#d3e6f0" />
<rect x="159.58" y="106.14" width="11.23" height="2.36" fill="#c4deec" />
<rect x="170.72" y="106.14" width="11.23" height="2.36" fill="#d5e7f1" />
<rect x="48.25" y="108.40" width="11.23" height="2.36" fill="#f9f0ea" />
<rect x="59.38" y="108.40" width="11.23" height="2.36" fill="#fcdfcd" />
<rect x="70.52" y="108.40" width="11.23" height="2.36" fill="#f7b89b" />
<rect x="81.65" y="108.40" width="11.23" height="2.36" fill="#fbd1bb" />
<rect x="92.78" y="108.40" width="11.23" height="2.36" fill="#fac9b0" />
<rect x="103.92" y="108.40" width="11.23" height="2.36" fill="#ef9979" />
<rect x="115.05" y="108.40" width="11.23" height="2.36" fill="#e6eff4" />
<rect x="126.18" y="108.40" width="11.23" height="2.36" fill="#e3eef3" />
<rect x="137.32" y="108.40" width="11.23" height="2.36" fill="#a5cfe4" />
<rect x="148.45" y="108.40" width="11.23" height="2.36" fill="#d7e8f1" />
<rect x="159.58" y="108.40" width="11.23" height="2.36" fill="#d9e9f1" />
<rect x="170.72" y="108.40" width="11.23" height="2.36" fill="#c1ddeb" />
<rect x="48.25" y="110.65" width="11.23" height="2.36" fill="#f8f0eb" />
<rect x="59.38" y="110.65" width="11.23" height="2.36" fill="#faebe3" />
<rect x="70.52" y="110.65" width="11.23" height="2.36" fill="#fae8dd" />
<rect x="81.65" y="110.65" width="11.23" height="2.36" fill="#fbe3d5" />
<rect x="92.78" y="110.65" width="11.23" height="2.36" fill="#facbb3" />
<rect x="103.92" y="110.65" width="11.23" height="2.36" fill="#f5aa88" />
<rect x="115.05" y="110.65" width="11.23" height="2.36" fill="#f8f0eb" />
<rect x="126.18" y="110.65" width="11.23" height="2.36" fill="#ecf2f5" />
<rect x="137.32" y="110.65" width="11.23" height="2.36" fill="#dceaf2" />
<rect x="148.45" y="110.65" width="11.23" height="2.36" fill="#d7e8f1" />
<rect x="159.58" y="110.65" width="11.23" height="2.36" fill="#edf2f5" />
<rect x="170.72" y="110.65" width="11.23" height="2.36" fill="#dceaf2" />
<rect x="48.25" y="112.91" width="11.23" height="2.36" fill="#f8f2ef" />
<rect x="59.38" y="112.91" width="11.23" height="2.36" fill="#fcddcb" />
<rect x="70.52" y="112.91" width="11.23" height="2.36" fill="#f9c4aa" />
<rect x="81.65" y="112.91" width="11.23" height="2.36" fill="#f9c5aa" />
<rect x="92.78" y="112.91" width="11.23" height="2.36" fill="#e27d63" />
<rect x="103.92" y="112.91" width="11.23" height="2.36" fill="#e68569" />
<rect x="115.05" y="112.91" width="11.23" height="2.36" fill="#f6f6f7" />
<rect x="126.18" y="112.91" width="11.23" height="2.36" fill="#e6eff4" />
<rect x="137.32" y="112.91" width="11.23" height="2.36" fill="#abd2e5" />
<rect x="148.45" y="112.91" width="11.23" height="2.36" fill="#cbe2ee" />
<rect x="159.58" y="112.91" width="11.23" height="2.36" fill="#cae1ee" />
<rect x="170.72" y="112.91" width="11.23" height="2.36" fill="#cbe2ee" />
<rect x="48.25" y="115.17" width="11.23" height="2.36" fill="#fbe2d3" />
<rect x="59.38" y="115.17" width="11.23" height="2.36" fill="#f9ece4" />
<rect x="70.52" y="115.17" width="11.23" height="2.36" fill="#fddbc8" />
<rect x="81.65" y="115.17" width="11.23" height="2.36" fill="#f9c5ab" />
<rect x="92.78" y="115.17" width="11.23" height="2.36" fill="#f9c4aa" />
<rect x="103.92" y="115.17" width="11.23" height="2.36" fill="#fac7ad" />
<rect x="115.05" y="115.17" width="11.23" height="2.36" fill="#f9ede5" />
<rect x="126.18" y="115.17" width="11.23" height="2.36" fill="#eef3f5" />
<rect x="137.32" y="115.17" width="11.23" height="2.36" fill="#9dcbe1" />
<rect x="148.45" y="115.17" width="11.23" height="2.36" fill="#dbeaf2" />
<rect x="159.58" y="115.17" width="11.23" height="2.36" fill="#e5eff4" />
<rect x="170.72" y="115.17" width="11.23" height="2.36" fill="#bfdceb" />
<rect x="48.25" y="117.42" width="11.23" height="2.36" fill="#fddcc9" />
<rect x="59.38" y="117.42" width="11.23" height="2.36" fill="#fbcfb7" />
<rect x="70.52" y="117.42" width="11.23" height="2.36" fill="#fddbc8" />
<rect x="81.65" y="117.42" width="11.23" height="2.36" fill="#fdddca" />
<rect x="92.78" y="117.42" width="11.23" height="2.36" fill="#f9c4aa" />
<rect x="103.92" y="117.42" width="11.23" height="2.36" fill="#f6ae8e" />
<rect x="115.05" y="117.42" width="11.23" height="2.36" fill="#eff3f5" />
<rect x="126.18" y="117.42" width="11.23" height="2.36" fill="#f3f5f6" />
<rect x="137.32" y="117.42" width="11.23" height="2.36" fill="#9fcce2" />
<rect x="148.45" y="117.42" width="11.23" height="2.36" fill="#cde3ef" />
<rect x="159.58" y="117.42" width="11.23" height="2.36" fill="#e4eef4" />
<rect x="170.72" y="117.42" width="11.23" height="2.36" fill="#e4eef4" />
<rect x="48.25" y="119.68" width="11.23" height="2.36" fill="#faebe2" />
<rect x="59.38" y="119.68" width="11.23" height="2.36" fill="#fcd4be" />
<rect x="70.52" y="119.68" width="11.23" height="2.36" fill="#fcd5bf" />
<rect x="81.65" y="119.68" width="11.23" height="2.36" fill="#fcd5c0" />
<rect x="92.78" y="119.68" width="11.23" height="2.36" fill="#f09c7b" />
<rect x="103.92" y="119.68" width="11.23" height="2.36" fill="#f5aa89" />
<rect x="115.05" y="119.68" width="11.23" height="2.36" fill="#ebf1f5" />
<rect x="126.18" y="119.68" width="11.23" height="2.36" fill="#f8f2ee" />
<rect x="137.32" y="119.68" width="11.23" height="2.36" fill="#9ecbe1" />
<rect x="148.45" y="119.68" width="11.23" height="2.36" fill="#d9e9f1" />
<rect x="159.58" y="119.68" width="11.23" height="2.36" fill="#cfe4ef" />
<rect x="170.72" y="119.68" width="11.23" height="2.36" fill="#cfe4ef" />
<rect x="48.25" y="121.94" width="11.23" height="2.36" fill="#fce1d2" />
<rect x="59.38" y="121.94" width="11.23" height="2.36" fill="#fdddca" />
<rect x="70.52" y="121.94" width="11.23" height="2.36" fill="#faebe2" />
<rect x="81.65" y="121.94" width="11.23" height="2.36" fill="#f8f0eb" />
<rect x="92.78" y="121.94" width="11.23" height="2.36" fill="#f9eee7" />
<rect x="103.92" y="121.94" width="11.23" height="2.36" fill="#f8bca0" />
<rect x="115.05" y="121.94" width="11.23" height="2.36" fill="#f7f6f5" />
<rect x="126.18" y="121.94" width="11.23" height="2.36" fill="#f2f5f6" />
<rect x="137.32" y="121.94" width="11.23" height="2.36" fill="#aed3e6" />
<rect x="148.45" y="121.94" width="11.23" height="2.36" fill="#dceaf2" />
<rect x="159.58" y="121.94" width="11.23" height="2.36" fill="#d8e8f1" />
<rect x="170.72" y="121.94" width="11.23" height="2.36" fill="#deebf2" />
<rect x="48.25" y="124.19" width="11.23" height="2.36" fill="#f9eee8" />
<rect x="59.38" y="124.19" width="11.23" height="2.36" fill="#fbe3d5" />
<rect x="70.52" y="124.19" width="11.23" height="2.36" fill="#fddcc8" />
<rect x="81.65" y="124.19" width="11.23" height="2.36" fill="#fbe4d7" />
<rect x="92.78" y="124.19" width="11.23" height="2.36" fill="#fbe6db" />
<rect x="103.92" y="124.19" width="11.23" height="2.36" fill="#fac8af" />
<rect x="115.05" y="124.19" width="11.23" height="2.36" fill="#f6f7f7" />
<rect x="126.18" y="124.19" width="11.23" height="2.36" fill="#f9efea" />
<rect x="137.32" y="124.19" width="11.23" height="2.36" fill="#c8e1ed" />
<rect x="148.45" y="124.19" width="11.23" height="2.36" fill="#dae9f2" />
<rect x="159.58" y="124.19" width="11.23" height="2.36" fill="#ddeaf2" />
<rect x="170.72" y="124.19" width="11.23" height="2.36" fill="#d4e6f0" />
<rect x="48.25" y="126.45" width="11.23" height="2.33" fill="#faebe3" />
<rect x="59.38" y="126.45" width="11.23" height="2.33" fill="#a8d0e4" />
<rect x="70.52" y="126.45" width="11.23" height="2.33" fill="#eaf1f5" />
<rect x="81.65" y="126.45" width="11.23" height="2.33" fill="#eaf1f5" />
<rect x="92.78" y="126.45" width="11.23" height="2.33" fill="#eef3f5" />
<rect x="103.92" y="126.45" width="11.23" height="2.33" fill="#d8e8f1" />
<rect x="115.05" y="126.45" width="11.23" height="2.33" fill="#f5ad8c" />
<rect x="126.18" y="126.45" width="11.23" height="2.33" fill="#f9c5ac" />
<rect x="137.32" y="126.45" width="11.23" height="2.33" fill="#faebe3" />
<rect x="148.45" y="126.45" width="11.23" height="2.33" fill="#fbe4d6" />
<rect x="159.58" y="126.45" width="11.23" height="2.33" fill="#fbe5d8" />
<rect x="170.72" y="126.45" width="11.23" height="2.33" fill="#fcdecd" />
<rect x="48.25" y="128.68" width="11.23" height="2.33" fill="#f8f2ee" />
<rect x="59.38" y="128.68" width="11.23" height="2.33" fill="#98c8e0" />
<rect x="70.52" y="128.68" width="11.23" height="2.33" fill="#dbeaf2" />
<rect x="81.65" y="128.68" width="11.23" height="2.33" fill="#e2edf3" />
<rect x="92.78" y="128.68" width="11.23" height="2.33" fill="#a9d1e5" />
<rect x="103.92" y="128.68" width="11.23" height="2.33" fill="#c9e1ee" />
<rect x="115.05" y="128.68" width="11.23" height="2.33" fill="#f09d7c" />
<rect x="126.18" y="128.68" width="11.23" height="2.33" fill="#fae7db" />
<rect x="137.32" y="128.68" width="11.23" height="2.33" fill="#fdddcb" />
<rect x="148.45" y="128.68" width="11.23" height="2.33" fill="#faccb4" />
<rect x="159.58" y="128.68" width="11.23" height="2.33" fill="#fbe4d6" />
<rect x="170.72" y="128.68" width="11.23" height="2.33" fill="#faccb4" />
<rect x="48.25" y="130.91" width="11.23" height="2.33" fill="#f9efea" />
<rect x="59.38" y="130.91" width="11.23" height="2.33" fill="#96c7df" />
<rect x="70.52" y="130.91" width="11.23" height="2.33" fill="#d6e8f1" />
<rect x="81.65" y="130.91" width="11.23" height="2.33" fill="#c3deec" />
<rect x="92.78" y="130.91" width="11.23" height="2.33" fill="#c6dfed" />
<rect x="103.92" y="130.91" width="11.23" height="2.33" fill="#d8e8f1" />
<rect x="115.05" y="130.91" width="11.23" height="2.33" fill="#f3a280" />
<rect x="126.18" y="130.91" width="11.23" height="2.33" fill="#fcddcb" />
<rect x="137.32" y="130.91" width="11.23" height="2.33" fill="#f9c0a5" />
<rect x="148.45" y="130.91" width="11.23" height="2.33" fill="#fdddcb" />
<rect x="159.58" y="130.91" width="11.23" height="2.33" fill="#fcd4be" />
<rect x="170.72" y="130.91" width="11.23" height="2.33" fill="#f7b597" />
<rect x="48.25" y="133.14" width="11.23" height="2.33" fill="#fae9df" />
<rect x="59.38" y="133.14" width="11.23" height="2.33" fill="#9bcae1" />
<rect x="70.52" y="133.14" width="11.23" height="2.33" fill="#f2f5f6" />
<rect x="81.65" y="133.14" width="11.23" height="2.33" fill="#e5eef4" />
<rect x="92.78" y="133.14" width="11.23" height="2.33" fill="#deebf2" />
<rect x="103.92" y="133.14" width="11.23" height="2.33" fill="#d6e7f1" />
<rect x="115.05" y="133.14" width="11.23" height="2.33" fill="#f5a987" />
<rect x="126.18" y="133.14" width="11.23" height="2.33" fill="#fbe4d6" />
<rect x="137.32" y="133.14" width="11.23" height="2.33" fill="#fae8de" />
<rect x="148.45" y="133.14" width="11.23" height="2.33" fill="#facab1" />
<rect x="159.58" y="133.14" width="11.23" height="2.33" fill="#fdddca" />
<rect x="170.72" y="133.14" width="11.23" height="2.33" fill="#f9ebe3" />
<rect x="48.25" y="135.37" width="11.23" height="2.33" fill="#ddeaf2" />
<rect x="59.38" y="135.37" width="11.23" height="2.33" fill="#95c7df" />
<rect x="70.52" y="135.37" width="11.23" height="2.33" fill="#dbeaf2" />
<rect x="81.65" y="135.37" width="11.23" height="2.33" fill="#c1ddeb" />
<rect x="92.78" y="135.37" width="11.23" height="2.33" fill="#c3deec" />
<rect x="103.92" y="135.37" width="11.23" height="2.33" fill="#e3eef3" />
<rect x="115.05" y="135.37" width="11.23" height="2.33" fill="#f3a381" />
<rect x="126.18" y="135.37" width="11.23" height="2.33" fill="#fbe5d8" />
<rect x="137.32" y="135.37" width="11.23" height="2.33" fill="#fcdecc" />
<rect x="148.45" y="135.37" width="11.23" height="2.33" fill="#fce0d0" />
<rect x="159.58" y="135.37" width="11.23" height="2.33" fill="#fdd9c4" />
<rect x="170.72" y="135.37" width="11.23" height="2.33" fill="#f7b89a" />
<rect x="48.25" y="137.60" width="11.23" height="2.33" fill="#e3eef3" />
<rect x="59.38" y="137.60" width="11.23" height="2.33" fill="#b9d9e9" />
<rect x="70.52" y="137.60" width="11.23" height="2.33" fill="#d4e7f1" />
<rect x="81.65" y="137.60" width="11.23" height="2.33" fill="#d3e6f0" />
<rect x="92.78" y="137.60" width="11.23" height="2.33" fill="#d3e6f0" />
<rect x="103.92" y="137.60" width="11.23" height="2.33" fill="#dceaf2" />
<rect x="115.05" y="137.60" width="11.23" height="2.33" fill="#f5ae8d" />
<rect x="126.18" y="137.60" width="11.23" height="2.33" fill="#fae8dd" />
<rect x="137.32" y="137.60" width="11.23" height="2.33" fill="#facbb2" />
<rect x="148.45" y="137.60" width="11.23" height="2.33" fill="#fbd2bb" />
<rect x="159.58" y="137.60" width="11.23" height="2.33" fill="#fae9df" />
<rect x="170.72" y="137.60" width="11.23" height="2.33" fill="#fdd8c4" />
<rect x="48.25" y="139.83" width="11.23" height="2.33" fill="#edf2f5" />
<rect x="59.38" y="139.83" width="11.23" height="2.33" fill="#9bcae1" />
<rect x="70.52" y="139.83" width="11.23" height="2.33" fill="#ebf1f5" />
<rect x="81.65" y="139.83" width="11.23" height="2.33" fill="#f1f4f6" />
<rect x="92.78" y="139.83" width="11.23" height="2.33" fill="#e0ecf3" />
<rect x="103.92" y="139.83" width="11.23" height="2.33" fill="#dfecf3" />
<rect x="115.05" y="139.83" width="11.23" height="2.33" fill="#f6ae8e" />
<rect x="126.18" y="139.83" width="11.23" height="2.33" fill="#f8f0eb" />
<rect x="137.32" y="139.83" width="11.23" height="2.33" fill="#fce0d0" />
<rect x="148.45" y="139.83" width="11.23" height="2.33" fill="#fdddca" />
<rect x="159.58" y="139.83" width="11.23" height="2.33" fill="#fbceb7" />
<rect x="170.72" y="139.83" width="11.23" height="2.33" fill="#fac9af" />
<rect x="48.25" y="142.06" width="11.23" height="2.33" fill="#e6eff4" />
<rect x="59.38" y="142.06" width="11.23" height="2.33" fill="#9fcce2" />
<rect x="70.52" y="142.06" width="11.23" height="2.33" fill="#dbeaf2" />
<rect x="81.65" y="142.06" width="11.23" height="2.33" fill="#f4f5f6" />
<rect x="92.78" y="142.06" width="11.23" height="2.33" fill="#c8e1ee" />
<rect x="103.92" y="142.06" width="11.23" height="2.33" fill="#d3e6f0" />
<rect x="115.05" y="142.06" width="11.23" height="2.33" fill="#f7b89b" />
<rect x="126.18" y="142.06" width="11.23" height="2.33" fill="#e3eef3" />
<rect x="137.32" y="142.06" width="11.23" height="2.33" fill="#fcd7c2" />
<rect x="148.45" y="142.06" width="11.23" height="2.33" fill="#fddac6" />
<rect x="159.58" y="142.06" width="11.23" height="2.33" fill="#fcdecc" />
<rect x="170.72" y="142.06" width="11.23" height="2.33" fill="#fbd0ba" />
<rect x="48.25" y="144.29" width="11.23" height="2.33" fill="#dfecf3" />
<rect x="59.38" y="144.29" width="11.23" height="2.33" fill="#a3cde3" />
<rect x="70.52" y="144.29" width="11.23" height="2.33" fill="#d9e9f1" />
<rect x="81.65" y="144.29" width="11.23" height="2.33" fill="#ebf1f5" />
<rect x="92.78" y="144.29" width="11.23" height="2.33" fill="#d2e6f0" />
<rect x="103.92" y="144.29" width="11.23" height="2.33" fill="#d7e8f1" />
<rect x="115.05" y="144.29" width="11.23" height="2.33" fill="#f5a886" />
<rect x="126.18" y="144.29" width="11.23" height="2.33" fill="#f8f3f0" />
<rect x="137.32" y="144.29" width="11.23" height="2.33" fill="#fcdecc" />
<rect x="148.45" y="144.29" width="11.23" height="2.33" fill="#fdd8c3" />
<rect x="159.58" y="144.29" width="11.23" height="2.33" fill="#f8bda1" />
<rect x="170.72" y="144.29" width="11.23" height="2.33" fill="#fce1d2" />
<rect x="48.25" y="146.52" width="11.23" height="2.33" fill="#c7e0ed" />
<rect x="59.38" y="146.52" width="11.23" height="2.33" fill="#73b1d3" />
<rect x="70.52" y="146.52" width="11.23" height="2.33" fill="#d8e8f1" />
<rect x="81.65" y="146.52" width="11.23" height="2.33" fill="#eaf1f5" />
<rect x="92.78" y="146.52" width="11.23" height="2.33" fill="#9ccae1" />
<rect x="103.92" y="146.52" width="11.23" height="2.33" fill="#82bbd9" />
<rect x="115.05" y="146.52" width="11.23" height="2.33" fill="#df765e" />
<rect x="126.18" y="146.52" width="11.23" height="2.33" fill="#fce0d0" />
<rect x="137.32" y="146.52" width="11.23" height="2.33" fill="#f6b191" />
<rect x="148.45" y="146.52" width="11.23" height="2.33" fill="#ed9575" />
<rect x="159.58" y="146.52" width="11.23" height="2.33" fill="#f7b799" />
<rect x="170.72" y="146.52" width="11.23" height="2.33" fill="#f8bda0" />
<rect x="48.25" y="148.75" width="11.23" height="2.33" fill="#e1ecf3" />
<rect x="59.38" y="148.75" width="11.23" height="2.33" fill="#a9d0e4" />
<rect x="70.52" y="148.75" width="11.23" height="2.33" fill="#d4e6f0" />
<rect x="81.65" y="148.75" width="11.23" height="2.33" fill="#e5eff4" />
<rect x="92.78" y="148.75" width="11.23" height="2.33" fill="#84bcd9" />
<rect x="103.92" y="148.75" width="11.23" height="2.33" fill="#cbe2ee" />
<rect x="115.05" y="148.75" width="11.23" height="2.33" fill="#f09d7c" />
<rect x="126.18" y="148.75" width="11.23" height="2.33" fill="#fae7dc" />
<rect x="137.32" y="148.75" width="11.23" height="2.33" fill="#f5a987" />
<rect x="148.45" y="148.75" width="11.23" height="2.33" fill="#fbd0b9" />
<rect x="159.58" y="148.75" width="11.23" height="2.33" fill="#fbceb6" />
<rect x="170.72" y="148.75" width="11.23" height="2.33" fill="#fcd8c3" />
<rect x="48.25" y="150.97" width="11.23" height="2.33" fill="#e3eef3" />
<rect x="59.38" y="150.97" width="11.23" height="2.33" fill="#add2e6" />
<rect x="70.52" y="150.97" width="11.23" height="2.33" fill="#eff3f5" />
<rect x="81.65" y="150.97" width="11.23" height="2.33" fill="#f7f7f6" />
<rect x="92.78" y="150.97" width="11.23" height="2.33" fill="#d5e7f1" />
<rect x="103.92" y="150.97" width="11.23" height="2.33" fill="#dceaf2" />
<rect x="115.05" y="150.97" width="11.23" height="2.33" fill="#f4a481" />
<rect x="126.18" y="150.97" width="11.23" height="2.33" fill="#f3f5f6" />
<rect x="137.32" y="150.97" width="11.23" height="2.33" fill="#fcd3bc" />
<rect x="148.45" y="150.97" width="11.23" height="2.33" fill="#fce0d0" />
<rect x="159.58" y="150.97" width="11.23" height="2.33" fill="#fbe5d8" />
<rect x="170.72" y="150.97" width="11.23" height="2.33" fill="#fbcdb5" />
<rect x="48.25" y="153.20" width="11.23" height="2.33" fill="#d6e7f1" />
<rect x="59.38" y="153.20" width="11.23" height="2.33" fill="#a4cee3" />
<rect x="70.52" y="153.20" width="11.23" height="2.33" fill="#e8f0f4" />
<rect x="81.65" y="153.20" width="11.23" height="2.33" fill="#dceaf2" />
<rect x="92.78" y="153.20" width="11.23" height="2.33" fill="#deebf2" />
<rect x="103.92" y="153.20" width="11.23" height="2.33" fill="#c9e1ee" />
<rect x="115.05" y="153.20" width="11.23" height="2.33" fill="#e88a6e" />
<rect x="126.18" y="153.20" width="11.23" height="2.33" fill="#f9f0ea" />
<rect x="137.32" y="153.20" width="11.23" height="2.33" fill="#fbd1ba" />
<rect x="148.45" y="153.20" width="11.23" height="2.33" fill="#fbe4d7" />
<rect x="159.58" y="153.20" width="11.23" height="2.33" fill="#f8c0a4" />
<rect x="170.72" y="153.20" width="11.23" height="2.33" fill="#fcd4bf" />
<rect x="48.25" y="155.43" width="11.23" height="2.33" fill="#eaf1f5" />
<rect x="59.38" y="155.43" width="11.23" height="2.33" fill="#9ccae1" />
<rect x="70.52" y="155.43" width="11.23" height="2.33" fill="#f1f4f6" />
<rect x="81.65" y="155.43" width="11.23" height="2.33" fill="#eff3f5" />
<rect x="92.78" y="155.43" width="11.23" height="2.33" fill="#d2e5f0" />
<rect x="103.92" y="155.43" width="11.23" height="2.33" fill="#a6cfe4" />
<rect x="115.05" y="155.43" width="11.23" height="2.33" fill="#f5ac8b" />
<rect x="126.18" y="155.43" width="11.23" height="2.33" fill="#f8f0eb" />
<rect x="137.32" y="155.43" width="11.23" height="2.33" fill="#f9c2a8" />
<rect x="148.45" y="155.43" width="11.23" height="2.33" fill="#fcdfce" />
<rect x="159.58" y="155.43" width="11.23" height="2.33" fill="#fdd9c4" />
<rect x="170.72" y="155.43" width="11.23" height="2.33" fill="#f9c5ab" />
<rect x="48.25" y="157.66" width="11.23" height="2.33" fill="#eef3f5" />
<rect x="59.38" y="157.66" width="11.23" height="2.33" fill="#e9f0f4" />
<rect x="70.52" y="157.66" width="11.23" height="2.33" fill="#ebf1f5" />
<rect x="81.65" y="157.66" width="11.23" height="2.33" fill="#cde3ef" />
<rect x="92.78" y="157.66" width="11.23" height="2.33" fill="#8dc2dc" />
<rect x="103.92" y="157.66" width="11.23" height="2.33" fill="#d0e5f0" />
<rect x="115.05" y="157.66" width="11.23" height="2.33" fill="#f7f5f3" />
<rect x="126.18" y="157.66" width="11.23" height="2.33" fill="#f7f5f3" />
<rect x="137.32" y="157.66" width="11.23" height="2.33" fill="#e8896c" />
<rect x="148.45" y="157.66" width="11.23" height="2.33" fill="#f7b99b" />
<rect x="159.58" y="157.66" width="11.23" height="2.33" fill="#fae8dd" />
<rect x="170.72" y="157.66" width="11.23" height="2.33" fill="#f9c2a6" />
<rect x="48.25" y="159.89" width="11.23" height="2.33" fill="#d4e7f1" />
<rect x="59.38" y="159.89" width="11.23" height="2.33" fill="#d6e7f1" />
<rect x="70.52" y="159.89" width="11.23" height="2.33" fill="#eaf1f5" />
<rect x="81.65" y="159.89" width="11.23" height="2.33" fill="#a8d0e4" />
<rect x="92.78" y="159.89" width="11.23" height="2.33" fill="#9ac9e0" />
<rect x="103.92" y="159.89" width="11.23" height="2.33" fill="#a7d0e4" />
<rect x="115.05" y="159.89" width="11.23" height="2.33" fill="#fae9e0" />
<rect x="126.18" y="159.89" width="11.23" height="2.33" fill="#eef3f5" />
<rect x="137.32" y="159.89" width="11.23" height="2.33" fill="#f2a17f" />
<rect x="148.45" y="159.89" width="11.23" height="2.33" fill="#fddcc9" />
<rect x="159.58" y="159.89" width="11.23" height="2.33" fill="#fce1d2" />
<rect x="170.72" y="159.89" width="11.23" height="2.33" fill="#f3a280" />
<rect x="48.25" y="162.12" width="11.23" height="2.33" fill="#dfebf3" />
<rect x="59.38" y="162.12" width="11.23" height="2.33" fill="#dae9f2" />
<rect x="70.52" y="162.12" width="11.23" height="2.33" fill="#f7f6f5" />
<rect x="81.65" y="162.12" width="11.23" height="2.33" fill="#b2d5e7" />
<rect x="92.78" y="162.12" width="11.23" height="2.33" fill="#9ccae1" />
<rect x="103.92" y="162.12" width="11.23" height="2.33" fill="#d9e9f1" />
<rect x="115.05" y="162.12" width="11.23" height="2.33" fill="#f9f0ea" />
<rect x="126.18" y="162.12" width="11.23" height="2.33" fill="#eef3f5" />
<rect x="137.32" y="162.12" width="11.23" height="2.33" fill="#da6954" />
<rect x="148.45" y="162.12" width="11.23" height="2.33" fill="#f7b799" />
<rect x="159.58" y="162.12" width="11.23" height="2.33" fill="#f8f0eb" />
<rect x="170.72" y="162.12" width="11.23" height="2.33" fill="#f7b596" />
<rect x="48.25" y="164.35" width="11.23" height="2.33" fill="#d7e8f1" />
<rect x="59.38" y="164.35" width="11.23" height="2.33" fill="#d9e9f1" />
<rect x="70.52" y="164.35" width="11.23" height="2.33" fill="#e2edf3" />
<rect x="81.65" y="164.35" width="11.23" height="2.33" fill="#9bcae1" />
<rect x="92.78" y="164.35" width="11.23" height="2.33" fill="#93c6de" />
<rect x="103.92" y="164.35" width="11.23" height="2.33" fill="#e9f1f5" />
<rect x="115.05" y="164.35" width="11.23" height="2.33" fill="#f5f6f7" />
<rect x="126.18" y="164.35" width="11.23" height="2.33" fill="#f3f5f6" />
<rect x="137.32" y="164.35" width="11.23" height="2.33" fill="#ed9576" />
<rect x="148.45" y="164.35" width="11.23" height="2.33" fill="#fae7dc" />
<rect x="159.58" y="164.35" width="11.23" height="2.33" fill="#fce1d0" />
<rect x="170.72" y="164.35" width="11.23" height="2.33" fill="#f7b799" />
<rect x="48.25" y="166.58" width="11.23" height="2.33" fill="#bedbea" />
<rect x="59.38" y="166.58" width="11.23" height="2.33" fill="#c1ddec" />
<rect x="70.52" y="166.58" width="11.23" height="2.33" fill="#e0ecf3" />
<rect x="81.65" y="166.58" width="11.23" height="2.33" fill="#add3e6" />
<rect x="92.78" y="166.58" width="11.23" height="2.33" fill="#d3e6f0" />
<rect x="103.92" y="166.58" width="11.23" height="2.33" fill="#deebf2" />
<rect x="115.05" y="166.58" width="11.23" height="2.33" fill="#faeae0" />
<rect x="126.18" y="166.58" width="11.23" height="2.33" fill="#fae8dd" />
<rect x="137.32" y="166.58" width="11.23" height="2.33" fill="#de735c" />
<rect x="148.45" y="166.58" width="11.23" height="2.33" fill="#fcdecc" />
<rect x="159.58" y="166.58" width="11.23" height="2.33" fill="#fce2d2" />
<rect x="170.72" y="166.58" width="11.23" height="2.33" fill="#fcd6c1" />
<rect x="48.25" y="168.81" width="11.23" height="2.33" fill="#abd2e5" />
<rect x="59.38" y="168.81" width="11.23" height="2.33" fill="#bedceb" />
<rect x="70.52" y="168.81" width="11.23" height="2.33" fill="#dfecf3" />
<rect x="81.65" y="168.81" width="11.23" height="2.33" fill="#7fb9d8" />
<rect x="92.78" y="168.81" width="11.23" height="2.33" fill="#d4e6f1" />
<rect x="103.92" y="168.81" width="11.23" height="2.33" fill="#d3e6f0" />
<rect x="115.05" y="168.81" width="11.23" height="2.33" fill="#f7f6f5" />
<rect x="126.18" y="168.81" width="11.23" height="2.33" fill="#fae7db" />
<rect x="137.32" y="168.81" width="11.23" height="2.33" fill="#da6954" />
<rect x="148.45" y="168.81" width="11.23" height="2.33" fill="#fcdfcd" />
<rect x="159.58" y="168.81" width="11.23" height="2.33" fill="#f9c5ab" />
<rect x="170.72" y="168.81" width="11.23" height="2.33" fill="#f09b7b" />
<rect x="48.25" y="171.04" width="11.23" height="2.33" fill="#e5eef4" />
<rect x="59.38" y="171.04" width="11.23" height="2.33" fill="#dfecf3" />
<rect x="70.52" y="171.04" width="11.23" height="2.33" fill="#e2edf3" />
<rect x="81.65" y="171.04" width="11.23" height="2.33" fill="#e3eef3" />
<rect x="92.78" y="171.04" width="11.23" height="2.33" fill="#87beda" />
<rect x="103.92" y="171.04" width="11.23" height="2.33" fill="#e6eff4" />
<rect x="115.05" y="171.04" width="11.23" height="2.33" fill="#f7f6f5" />
<rect x="126.18" y="171.04" width="11.23" height="2.33" fill="#fcdfce" />
<rect x="137.32" y="171.04" width="11.23" height="2.33" fill="#f7b495" />
<rect x="148.45" y="171.04" width="11.23" height="2.33" fill="#fbceb6" />
<rect x="159.58" y="171.04" width="11.23" height="2.33" fill="#fcdfcf" />
<rect x="170.72" y="171.04" width="11.23" height="2.33" fill="#fce1d1" />
<rect x="48.25" y="173.27" width="11.23" height="2.33" fill="#ecf2f5" />
<rect x="59.38" y="173.27" width="11.23" height="2.33" fill="#e5eef4" />
<rect x="70.52" y="173.27" width="11.23" height="2.33" fill="#f3f5f6" />
<rect x="81.65" y="173.27" width="11.23" height="2.33" fill="#e9f0f4" />
<rect x="92.78" y="173.27" width="11.23" height="2.33" fill="#a0cce2" />
<rect x="103.92" y="173.27" width="11.23" height="2.33" fill="#f6f7f7" />
<rect x="115.05" y="173.27" width="11.23" height="2.33" fill="#f3f5f6" />
<rect x="126.18" y="173.27" width="11.23" height="2.33" fill="#faeae0" />
<rect x="137.32" y="173.27" width="11.23" height="2.33" fill="#fbcfb7" />
<rect x="148.45" y="173.27" width="11.23" height="2.33" fill="#fcdecd" />
<rect x="159.58" y="173.27" width="11.23" height="2.33" fill="#fae7dc" />
<rect x="170.72" y="173.27" width="11.23" height="2.33" fill="#fbe3d5" />
<rect x="48.25" y="175.50" width="11.23" height="2.33" fill="#ecf2f5" />
<rect x="59.38" y="175.50" width="11.23" height="2.33" fill="#c4deec" />
<rect x="70.52" y="175.50" width="11.23" height="2.33" fill="#ddebf2" />
<rect x="81.65" y="175.50" width="11.23" height="2.33" fill="#e4eef3" />
<rect x="92.78" y="175.50" width="11.23" height="2.33" fill="#9dcbe1" />
<rect x="103.92" y="175.50" width="11.23" height="2.33" fill="#d9e9f1" />
<rect x="115.05" y="175.50" width="11.23" height="2.33" fill="#f9eee7" />
<rect x="126.18" y="175.50" width="11.23" height="2.33" fill="#fbe4d7" />
<rect x="137.32" y="175.50" width="11.23" height="2.33" fill="#fddbc8" />
<rect x="148.45" y="175.50" width="11.23" height="2.33" fill="#f5ac8b" />
<rect x="159.58" y="175.50" width="11.23" height="2.33" fill="#fcd5bf" />
<rect x="170.72" y="175.50" width="11.23" height="2.33" fill="#fce1d2" />
<rect x="48.25" y="177.73" width="11.23" height="2.33" fill="#d7e8f1" />
<rect x="59.38" y="177.73" width="11.23" height="2.33" fill="#d9e9f1" />
<rect x="70.52" y="177.73" width="11.23" height="2.33" fill="#dfecf3" />
<rect x="81.65" y="177.73" width="11.23" height="2.33" fill="#e7eff4" />
<rect x="92.78" y="177.73" width="11.23" height="2.33" fill="#82bbd9" />
<rect x="103.92" y="177.73" width="11.23" height="2.33" fill="#e7eff4" />
<rect x="115.05" y="177.73" width="11.23" height="2.33" fill="#fcdecc" />
<rect x="126.18" y="177.73" width="11.23" height="2.33" fill="#f8f2ef" />
<rect x="137.32" y="177.73" width="11.23" height="2.33" fill="#f7b799" />
<rect x="148.45" y="177.73" width="11.23" height="2.33" fill="#f5a987" />
<rect x="159.58" y="177.73" width="11.23" height="2.33" fill="#fcdfce" />
<rect x="170.72" y="177.73" width="11.23" height="2.33" fill="#fdddcb" />
<rect x="48.25" y="179.96" width="11.23" height="2.33" fill="#d4e6f1" />
<rect x="59.38" y="179.96" width="11.23" height="2.33" fill="#9ecbe2" />
<rect x="70.52" y="179.96" width="11.23" height="2.33" fill="#e1ecf3" />
<rect x="81.65" y="179.96" width="11.23" height="2.33" fill="#abd2e5" />
<rect x="92.78" y="179.96" width="11.23" height="2.33" fill="#90c4dd" />
<rect x="103.92" y="179.96" width="11.23" height="2.33" fill="#c7e0ed" />
<rect x="115.05" y="179.96" width="11.23" height="2.33" fill="#fbe5d8" />
<rect x="126.18" y="179.96" width="11.23" height="2.33" fill="#f8bc9f" />
<rect x="137.32" y="179.96" width="11.23" height="2.33" fill="#ef9a79" />
<rect x="148.45" y="179.96" width="11.23" height="2.33" fill="#f6b394" />
<rect x="159.58" y="179.96" width="11.23" height="2.33" fill="#fbe2d3" />
<rect x="170.72" y="179.96" width="11.23" height="2.33" fill="#f6b191" />
<rect x="48.25" y="182.19" width="11.23" height="2.33" fill="#d5e7f1" />
<rect x="59.38" y="182.19" width="11.23" height="2.33" fill="#d8e8f1" />
<rect x="70.52" y="182.19" width="11.23" height="2.33" fill="#e8f0f4" />
<rect x="81.65" y="182.19" width="11.23" height="2.33" fill="#dfebf2" />
<rect x="92.78" y="182.19" width="11.23" height="2.33" fill="#5aa1cb" />
<rect x="103.92" y="182.19" width="11.23" height="2.33" fill="#d9e9f1" />
<rect x="115.05" y="182.19" width="11.23" height="2.33" fill="#fae7dc" />
<rect x="126.18" y="182.19" width="11.23" height="2.33" fill="#fcd3bd" />
<rect x="137.32" y="182.19" width="11.23" height="2.33" fill="#f19e7d" />
<rect x="148.45" y="182.19" width="11.23" height="2.33" fill="#fcd3bd" />
<rect x="159.58" y="182.19" width="11.23" height="2.33" fill="#fddbc8" />
<rect x="170.72" y="182.19" width="11.23" height="2.33" fill="#facab2" />
<rect x="48.25" y="184.42" width="11.23" height="2.33" fill="#bfdceb" />
<rect x="59.38" y="184.42" width="11.23" height="2.33" fill="#b1d5e7" />
<rect x="70.52" y="184.42" width="11.23" height="2.33" fill="#d5e7f1" />
<rect x="81.65" y="184.42" width="11.23" height="2.33" fill="#d3e6f0" />
<rect x="92.78" y="184.42" width="11.23" height="2.33" fill="#66a9cf" />
<rect x="103.92" y="184.42" width="11.23" height="2.33" fill="#dae9f2" />
<rect x="115.05" y="184.42" width="11.23" height="2.33" fill="#faeae1" />
<rect x="126.18" y="184.42" width="11.23" height="2.33" fill="#fac7ad" />
<rect x="137.32" y="184.42" width="11.23" height="2.33" fill="#f2a17f" />
<rect x="148.45" y="184.42" width="11.23" height="2.33" fill="#f8bc9f" />
<rect x="159.58" y="184.42" width="11.23" height="2.33" fill="#fcd5c0" />
<rect x="170.72" y="184.42" width="11.23" height="2.33" fill="#fcd7c2" />
<rect x="48.25" y="186.65" width="11.23" height="2.33" fill="#dfebf3" />
<rect x="59.38" y="186.65" width="11.23" height="2.33" fill="#bfdceb" />
<rect x="70.52" y="186.65" width="11.23" height="2.33" fill="#e2edf3" />
<rect x="81.65" y="186.65" width="11.23" height="2.33" fill="#e0ecf3" />
<rect x="92.78" y="186.65" width="11.23" height="2.33" fill="#71b0d3" />
<rect x="103.92" y="186.65" width="11.23" height="2.33" fill="#d8e8f1" />
<rect x="115.05" y="186.65" width="11.23" height="2.33" fill="#fae8dd" />
<rect x="126.18" y="186.65" width="11.23" height="2.33" fill="#fcd2bc" />
<rect x="137.32" y="186.65" width="11.23" height="2.33" fill="#f6af8e" />
<rect x="148.45" y="186.65" width="11.23" height="2.33" fill="#fbe5d8" />
<rect x="159.58" y="186.65" width="11.23" height="2.33" fill="#fac7ae" />
<rect x="170.72" y="186.65" width="11.23" height="2.33" fill="#fac9b0" />
<rect x="48.25" y="188.88" width="11.23" height="2.33" fill="#e1ecf3" />
<rect x="59.38" y="188.88" width="11.23" height="2.33" fill="#d7e8f1" />
<rect x="70.52" y="188.88" width="11.23" height="2.33" fill="#e3eef3" />
<rect x="81.65" y="188.88" width="11.23" height="2.33" fill="#d2e5f0" />
<rect x="92.78" y="188.88" width="11.23" height="2.33" fill="#87beda" />
<rect x="103.92" y="188.88" width="11.23" height="2.33" fill="#dbeaf2" />
<rect x="115.05" y="188.88" width="11.23" height="2.33" fill="#f7f7f7" />
<rect x="126.18" y="188.88" width="11.23" height="2.33" fill="#faeae1" />
<rect x="137.32" y="188.88" width="11.23" height="2.33" fill="#f5ab8a" />
<rect x="148.45" y="188.88" width="11.23" height="2.33" fill="#fbe5d8" />
<rect x="159.58" y="188.88" width="11.23" height="2.33" fill="#fddbc8" />
<rect x="170.72" y="188.88" width="11.23" height="2.33" fill="#fbe2d4" />
<rect x="48.25" y="191.11" width="11.23" height="2.33" fill="#f0f4f6" />
<rect x="59.38" y="191.11" width="11.23" height="2.33" fill="#d4e6f1" />
<rect x="70.52" y="191.11" width="11.23" height="2.33" fill="#ddebf2" />
<rect x="81.65" y="191.11" width="11.23" height="2.33" fill="#dbeaf2" />
<rect x="92.78" y="191.11" width="11.23" height="2.33" fill="#95c6df" />
<rect x="103.92" y="191.11" width="11.23" height="2.33" fill="#c9e1ee" />
<rect x="115.05" y="191.11" width="11.23" height="2.33" fill="#f7f5f4" />
<rect x="126.18" y="191.11" width="11.23" height="2.33" fill="#fcdecb" />
<rect x="137.32" y="191.11" width="11.23" height="2.33" fill="#f7b99b" />
<rect x="148.45" y="191.11" width="11.23" height="2.33" fill="#fcd5bf" />
<rect x="159.58" y="191.11" width="11.23" height="2.33" fill="#fcd7c2" />
<rect x="170.72" y="191.11" width="11.23" height="2.33" fill="#facab2" />
<rect x="48.25" y="193.34" width="11.23" height="2.33" fill="#e3eef3" />
<rect x="59.38" y="193.34" width="11.23" height="2.33" fill="#c6e0ed" />
<rect x="70.52" y="193.34" width="11.23" height="2.33" fill="#e1edf3" />
<rect x="81.65" y="193.34" width="11.23" height="2.33" fill="#d3e6f0" />
<rect x="92.78" y="193.34" width="11.23" height="2.33" fill="#83bbd9" />
<rect x="103.92" y="193.34" width="11.23" height="2.33" fill="#d9e9f1" />
<rect x="115.05" y="193.34" width="11.23" height="2.33" fill="#f2f5f6" />
<rect x="126.18" y="193.34" width="11.23" height="2.33" fill="#fcdecd" />
<rect x="137.32" y="193.34" width="11.23" height="2.33" fill="#f5ac8b" />
<rect x="148.45" y="193.34" width="11.23" height="2.33" fill="#fdddcb" />
<rect x="159.58" y="193.34" width="11.23" height="2.33" fill="#fddcc9" />
<rect x="170.72" y="193.34" width="11.23" height="2.33" fill="#fac8af" />
<rect x="48.25" y="195.56" width="11.23" height="2.33" fill="#f8f4f2" />
<rect x="59.38" y="195.56" width="11.23" height="2.33" fill="#aad1e5" />
<rect x="70.52" y="195.56" width="11.23" height="2.33" fill="#e7eff4" />
<rect x="81.65" y="195.56" width="11.23" height="2.33" fill="#c7e0ed" />
<rect x="92.78" y="195.56" width="11.23" height="2.33" fill="#dceaf2" />
<rect x="103.92" y="195.56" width="11.23" height="2.33" fill="#f8f1ed" />
<rect x="115.05" y="195.56" width="11.23" height="2.33" fill="#e1edf3" />
<rect x="126.18" y="195.56" width="11.23" height="2.33" fill="#fce1d1" />
<rect x="137.32" y="195.56" width="11.23" height="2.33" fill="#fbceb6" />
<rect x="148.45" y="195.56" width="11.23" height="2.33" fill="#fcdecc" />
<rect x="159.58" y="195.56" width="11.23" height="2.33" fill="#fdddcb" />
<rect x="170.72" y="195.56" width="11.23" height="2.33" fill="#f9ede6" />
<rect x="48.25" y="197.79" width="11.23" height="2.33" fill="#e1edf3" />
<rect x="59.38" y="197.79" width="11.23" height="2.33" fill="#cde3ef" />
<rect x="70.52" y="197.79" width="11.23" height="2.33" fill="#dbeaf2" />
<rect x="81.65" y="197.79" width="11.23" height="2.33" fill="#9ecbe2" />
<rect x="92.78" y="197.79" width="11.23" height="2.33" fill="#bcdbea" />
<rect x="103.92" y="197.79" width="11.23" height="2.33" fill="#ddebf2" />
<rect x="115.05" y="197.79" width="11.23" height="2.33" fill="#f8f2ee" />
<rect x="126.18" y="197.79" width="11.23" height="2.33" fill="#f9eee7" />
<rect x="137.32" y="197.79" width="11.23" height="2.33" fill="#facbb3" />
<rect x="148.45" y="197.79" width="11.23" height="2.33" fill="#fbceb6" />
<rect x="159.58" y="197.79" width="11.23" height="2.33" fill="#fbd1bb" />
<rect x="170.72" y="197.79" width="11.23" height="2.33" fill="#fdddca" />
<rect x="48.25" y="200.02" width="11.23" height="2.33" fill="#ebf1f5" />
<rect x="59.38" y="200.02" width="11.23" height="2.33" fill="#d6e8f1" />
<rect x="70.52" y="200.02" width="11.23" height="2.33" fill="#ebf1f5" />
<rect x="81.65" y="200.02" width="11.23" height="2.33" fill="#c2ddec" />
<rect x="92.78" y="200.02" width="11.23" height="2.33" fill="#c0dceb" />
<rect x="103.92" y="200.02" width="11.23" height="2.33" fill="#cae2ee" />
<rect x="115.05" y="200.02" width="11.23" height="2.33" fill="#f9ece4" />
<rect x="126.18" y="200.02" width="11.23" height="2.33" fill="#fbcfb8" />
<rect x="137.32" y="200.02" width="11.23" height="2.33" fill="#fac6ac" />
<rect x="148.45" y="200.02" width="11.23" height="2.33" fill="#f5a987" />
<rect x="159.58" y="200.02" width="11.23" height="2.33" fill="#f7f6f5" />
<rect x="170.72" y="200.02" width="11.23" height="2.33" fill="#fce0d0" />
<rect x="48.25" y="202.25" width="11.23" height="2.33" fill="#d3e6f0" />
<rect x="59.38" y="202.25" width="11.23" height="2.33" fill="#abd2e5" />
<rect x="70.52" y="202.25" width="11.23" height="2.33" fill="#c8e1ed" />
<rect x="81.65" y="202.25" width="11.23" height="2.33" fill="#f1f4f6" />
<rect x="92.78" y="202.25" width="11.23" height="2.33" fill="#deebf2" />
<rect x="103.92" y="202.25" width="11.23" height="2.33" fill="#c7e0ed" />
<rect x="115.05" y="202.25" width="11.23" height="2.33" fill="#fae8dd" />
<rect x="126.18" y="202.25" width="11.23" height="2.33" fill="#fdd9c5" />
<rect x="137.32" y="202.25" width="11.23" height="2.33" fill="#fcd6c0" />
<rect x="148.45" y="202.25" width="11.23" height="2.33" fill="#ed9475" />
<rect x="159.58" y="202.25" width="11.23" height="2.33" fill="#f9ece5" />
<rect x="170.72" y="202.25" width="11.23" height="2.33" fill="#fcdecc" />
<rect x="48.25" y="204.48" width="11.23" height="2.33" fill="#d3e6f0" />
<rect x="59.38" y="204.48" width="11.23" height="2.33" fill="#cae2ee" />
<rect x="70.52" y="204.48" width="11.23" height="2.33" fill="#d3e6f0" />
<rect x="81.65" y="204.48" width="11.23" height="2.33" fill="#cfe4ef" />
<rect x="92.78" y="204.48" width="11.23" height="2.33" fill="#c5dfed" />
<rect x="103.92" y="204.48" width="11.23" height="2.33" fill="#c1ddeb" />
<rect x="115.05" y="204.48" width="11.23" height="2.33" fill="#f9eee8" />
<rect x="126.18" y="204.48" width="11.23" height="2.33" fill="#faebe2" />
<rect x="137.32" y="204.48" width="11.23" height="2.33" fill="#fdd9c5" />
<rect x="148.45" y="204.48" width="11.23" height="2.33" fill="#f6b394" />
<rect x="159.58" y="204.48" width="11.23" height="2.33" fill="#faeae0" />
<rect x="170.72" y="204.48" width="11.23" height="2.33" fill="#facbb3" />
<rect x="48.25" y="206.71" width="11.23" height="2.33" fill="#e1ecf3" />
<rect x="59.38" y="206.71" width="11.23" height="2.33" fill="#c2ddec" />
<rect x="70.52" y="206.71" width="11.23" height="2.33" fill="#d1e5f0" />
<rect x="81.65" y="206.71" width="11.23" height="2.33" fill="#b8d8e9" />
<rect x="92.78" y="206.71" width="11.23" height="2.33" fill="#c6dfed" />
<rect x="103.92" y="206.71" width="11.23" height="2.33" fill="#dae9f2" />
<rect x="115.05" y="206.71" width="11.23" height="2.33" fill="#fce0cf" />
<rect x="126.18" y="206.71" width="11.23" height="2.33" fill="#fcdfcd" />
<rect x="137.32" y="206.71" width="11.23" height="2.33" fill="#fbd0ba" />
<rect x="148.45" y="206.71" width="11.23" height="2.33" fill="#f2a07e" />
<rect x="159.58" y="206.71" width="11.23" height="2.33" fill="#f9ede7" />
<rect x="170.72" y="206.71" width="11.23" height="2.33" fill="#fac9b0" />
<rect x="48.25" y="208.94" width="11.23" height="2.33" fill="#b0d4e6" />
<rect x="59.38" y="208.94" width="11.23" height="2.33" fill="#deebf2" />
<rect x="70.52" y="208.94" width="11.23" height="2.33" fill="#d3e6f0" />
<rect x="81.65" y="208.94" width="11.23" height="2.33" fill="#d5e7f1" />
<rect x="92.78" y="208.94" width="11.23" height="2.33" fill="#bad9e9" />
<rect x="103.92" y="208.94" width="11.23" height="2.33" fill="#c8e1ee" />
<rect x="115.05" y="208.94" width="11.23" height="2.33" fill="#fcd4be" />
<rect x="126.18" y="208.94" width="11.23" height="2.33" fill="#f9c5ab" />
<rect x="137.32" y="208.94" width="11.23" height="2.33" fill="#fbcdb5" />
<rect x="148.45" y="208.94" width="11.23" height="2.33" fill="#f4a684" />
<rect x="159.58" y="208.94" width="11.23" height="2.33" fill="#fbe4d7" />
<rect x="170.72" y="208.94" width="11.23" height="2.33" fill="#fac7ae" />
<rect x="48.25" y="211.17" width="11.23" height="2.33" fill="#8cc1dc" />
<rect x="59.38" y="211.17" width="11.23" height="2.33" fill="#bcdaea" />
<rect x="70.52" y="211.17" width="11.23" height="2.33" fill="#d9e9f1" />
<rect x="81.65" y="211.17" width="11.23" height="2.33" fill="#e3eef3" />
<rect x="92.78" y="211.17" width="11.23" height="2.33" fill="#c2deec" />
<rect x="103.92" y="211.17" width="11.23" height="2.33" fill="#c0dceb" />
<rect x="115.05" y="211.17" width="11.23" height="2.33" fill="#fbe3d5" />
<rect x="126.18" y="211.17" width="11.23" height="2.33" fill="#fcdfce" />
<rect x="137.32" y="211.17" width="11.23" height="2.33" fill="#fcd4be" />
<rect x="148.45" y="211.17" width="11.23" height="2.33" fill="#e98c6f" />
<rect x="159.58" y="211.17" width="11.23" height="2.33" fill="#f9efe9" />
<rect x="170.72" y="211.17" width="11.23" height="2.33" fill="#f4a886" />
<rect x="48.25" y="213.40" width="11.23" height="2.33" fill="#e0ecf3" />
<rect x="59.38" y="213.40" width="11.23" height="2.33" fill="#c2ddec" />
<rect x="70.52" y="213.40" width="11.23" height="2.33" fill="#bfdceb" />
<rect x="81.65" y="213.40" width="11.23" height="2.33" fill="#d1e5f0" />
<rect x="92.78" y="213.40" width="11.23" height="2.33" fill="#d1e5f0" />
<rect x="103.92" y="213.40" width="11.23" height="2.33" fill="#cee3ef" />
<rect x="115.05" y="213.40" width="11.23" height="2.33" fill="#fac8ae" />
<rect x="126.18" y="213.40" width="11.23" height="2.33" fill="#fbcdb6" />
<rect x="137.32" y="213.40" width="11.23" height="2.33" fill="#f7b596" />
<rect x="148.45" y="213.40" width="11.23" height="2.33" fill="#f2a07e" />
<rect x="159.58" y="213.40" width="11.23" height="2.33" fill="#fce1d2" />
<rect x="170.72" y="213.40" width="11.23" height="2.33" fill="#e58368" />
<rect x="48.25" y="215.63" width="11.23" height="2.33" fill="#eef3f5" />
<rect x="59.38" y="215.63" width="11.23" height="2.33" fill="#e2edf3" />
<rect x="70.52" y="215.63" width="11.23" height="2.33" fill="#e2edf3" />
<rect x="81.65" y="215.63" width="11.23" height="2.33" fill="#c7e0ed" />
<rect x="92.78" y="215.63" width="11.23" height="2.33" fill="#e4eef3" />
<rect x="103.92" y="215.63" width="11.23" height="2.33" fill="#f7f5f4" />
<rect x="115.05" y="215.63" width="11.23" height="2.33" fill="#faeae1" />
<rect x="126.18" y="215.63" width="11.23" height="2.33" fill="#f2a07e" />
<rect x="137.32" y="215.63" width="11.23" height="2.33" fill="#f9ece3" />
<rect x="148.45" y="215.63" width="11.23" height="2.33" fill="#faccb4" />
<rect x="159.58" y="215.63" width="11.23" height="2.33" fill="#f6f6f7" />
<rect x="170.72" y="215.63" width="11.23" height="2.33" fill="#fbe3d4" />
<rect x="48.25" y="217.86" width="11.23" height="2.33" fill="#ebf2f5" />
<rect x="59.38" y="217.86" width="11.23" height="2.33" fill="#d1e5f0" />
<rect x="70.52" y="217.86" width="11.23" height="2.33" fill="#e6eff4" />
<rect x="81.65" y="217.86" width="11.23" height="2.33" fill="#ebf1f5" />
<rect x="92.78" y="217.86" width="11.23" height="2.33" fill="#d9e9f1" />
<rect x="103.92" y="217.86" width="11.23" height="2.33" fill="#e4eef4" />
<rect x="115.05" y="217.86" width="11.23" height="2.33" fill="#f8f4f2" />
<rect x="126.18" y="217.86" width="11.23" height="2.33" fill="#e7866a" />
<rect x="137.32" y="217.86" width="11.23" height="2.33" fill="#fbe3d4" />
<rect x="148.45" y="217.86" width="11.23" height="2.33" fill="#f9efe9" />
<rect x="159.58" y="217.86" width="11.23" height="2.33" fill="#f5f6f7" />
<rect x="170.72" y="217.86" width="11.23" height="2.33" fill="#fae7db" />
<rect x="48.25" y="220.09" width="11.23" height="2.33" fill="#e7f0f4" />
<rect x="59.38" y="220.09" width="11.23" height="2.33" fill="#dfecf3" />
<rect x="70.52" y="220.09" width="11.23" height="2.33" fill="#d8e8f1" />
<rect x="81.65" y="220.09" width="11.23" height="2.33" fill="#e3eef3" />
<rect x="92.78" y="220.09" width="11.23" height="2.33" fill="#d6e7f1" />
<rect x="103.92" y="220.09" width="11.23" height="2.33" fill="#e8f0f4" />
<rect x="115.05" y="220.09" width="11.23" height="2.33" fill="#f9eee8" />
<rect x="126.18" y="220.09" width="11.23" height="2.33" fill="#f19e7d" />
<rect x="137.32" y="220.09" width="11.23" height="2.33" fill="#fcdecc" />
<rect x="148.45" y="220.09" width="11.23" height="2.33" fill="#fce0d0" />
<rect x="159.58" y="220.09" width="11.23" height="2.33" fill="#fce1d1" />
<rect x="170.72" y="220.09" width="11.23" height="2.33" fill="#fce1d1" />
<rect x="48.25" y="222.32" width="11.23" height="2.33" fill="#f6f6f7" />
<rect x="59.38" y="222.32" width="11.23" height="2.33" fill="#ddebf2" />
<rect x="70.52" y="222.32" width="11.23" height="2.33" fill="#f6f7f7" />
<rect x="81.65" y="222.32" width="11.23" height="2.33" fill="#e9f0f4" />
<rect x="92.78" y="222.32" width="11.23" height="2.33" fill="#d3e6f0" />
<rect x="103.92" y="222.32" width="11.23" height="2.33" fill="#f9efe8" />
<rect x="115.05" y="222.32" width="11.23" height="2.33" fill="#eff3f6" />
<rect x="126.18" y="222.32" width="11.23" height="2.33" fill="#f7f7f7" />
<rect x="137.32" y="222.32" width="11.23" height="2.33" fill="#f9f0eb" />
<rect x="148.45" y="222.32" width="11.23" height="2.33" fill="#f2f5f6" />
<rect x="159.58" y="222.32" width="11.23" height="2.33" fill="#eff3f5" />
<rect x="170.72" y="222.32" width="11.23" height="2.33" fill="#fbe5d8" />
<rect x="48.25" y="224.55" width="11.23" height="2.33" fill="#d4e7f1" />
<rect x="59.38" y="224.55" width="11.23" height="2.33" fill="#e3eef3" />
<rect x="70.52" y="224.55" width="11.23" height="2.33" fill="#e9f0f4" />
<rect x="81.65" y="224.55" width="11.23" height="2.33" fill="#dae9f2" />
<rect x="92.78" y="224.55" width="11.23" height="2.33" fill="#d1e5f0" />
<rect x="103.92" y="224.55" width="11.23" height="2.33" fill="#e1edf3" />
<rect x="115.05" y="224.55" width="11.23" height="2.33" fill="#fce0cf" />
<rect x="126.18" y="224.55" width="11.23" height="2.33" fill="#fbcfb8" />
<rect x="137.32" y="224.55" width="11.23" height="2.33" fill="#facbb2" />
<rect x="148.45" y="224.55" width="11.23" height="2.33" fill="#fdddca" />
<rect x="159.58" y="224.55" width="11.23" height="2.33" fill="#fbe3d5" />
<rect x="170.72" y="224.55" width="11.23" height="2.33" fill="#f9c5ab" />
<rect x="48.25" y="226.78" width="11.23" height="2.33" fill="#9ccae1" />
<rect x="59.38" y="226.78" width="11.23" height="2.33" fill="#e8f0f4" />
<rect x="70.52" y="226.78" width="11.23" height="2.33" fill="#d5e7f1" />
<rect x="81.65" y="226.78" width="11.23" height="2.33" fill="#d3e6f0" />
<rect x="92.78" y="226.78" width="11.23" height="2.33" fill="#b5d7e8" />
<rect x="103.92" y="226.78" width="11.23" height="2.33" fill="#b4d6e8" />
<rect x="115.05" y="226.78" width="11.23" height="2.33" fill="#fbe3d5" />
<rect x="126.18" y="226.78" width="11.23" height="2.33" fill="#fbe5d8" />
<rect x="137.32" y="226.78" width="11.23" height="2.33" fill="#f6b292" />
<rect x="148.45" y="226.78" width="11.23" height="2.33" fill="#f9c2a7" />
<rect x="159.58" y="226.78" width="11.23" height="2.33" fill="#fbe2d4" />
<rect x="170.72" y="226.78" width="11.23" height="2.33" fill="#f7b597" />
<rect x="48.25" y="229.01" width="11.23" height="2.33" fill="#c3deec" />
<rect x="59.38" y="229.01" width="11.23" height="2.33" fill="#f8f4f1" />
<rect x="70.52" y="229.01" width="11.23" height="2.33" fill="#bedbea" />
<rect x="81.65" y="229.01" width="11.23" height="2.33" fill="#edf2f5" />
<rect x="92.78" y="229.01" width="11.23" height="2.33" fill="#afd4e6" />
<rect x="103.92" y="229.01" width="11.23" height="2.33" fill="#b1d5e7" />
<rect x="115.05" y="229.01" width="11.23" height="2.33" fill="#fcdfce" />
<rect x="126.18" y="229.01" width="11.23" height="2.33" fill="#fdd9c5" />
<rect x="137.32" y="229.01" width="11.23" height="2.33" fill="#fac8ae" />
<rect x="148.45" y="229.01" width="11.23" height="2.33" fill="#f9c0a5" />
<rect x="159.58" y="229.01" width="11.23" height="2.33" fill="#fae8dd" />
<rect x="170.72" y="229.01" width="11.23" height="2.33" fill="#fcdfce" />
<rect x="48.25" y="231.24" width="11.23" height="2.33" fill="#e8f0f4" />
<rect x="59.38" y="231.24" width="11.23" height="2.33" fill="#f2f5f6" />
<rect x="70.52" y="231.24" width="11.23" height="2.33" fill="#d2e5f0" />
<rect x="81.65" y="231.24" width="11.23" height="2.33" fill="#ebf1f5" />
<rect x="92.78" y="231.24" width="11.23" height="2.33" fill="#dbeaf2" />
<rect x="103.92" y="231.24" width="11.23" height="2.33" fill="#b9d9e9" />
<rect x="115.05" y="231.24" width="11.23" height="2.33" fill="#f8f2ef" />
<rect x="126.18" y="231.24" width="11.23" height="2.33" fill="#fce1d1" />
<rect x="137.32" y="231.24" width="11.23" height="2.33" fill="#fcd7c2" />
<rect x="148.45" y="231.24" width="11.23" height="2.33" fill="#fce1d2" />
<rect x="159.58" y="231.24" width="11.23" height="2.33" fill="#faebe3" />
<rect x="170.72" y="231.24" width="11.23" height="2.33" fill="#fbd1ba" />
<rect x="48.25" y="233.47" width="11.23" height="2.33" fill="#eff3f6" />
<rect x="59.38" y="233.47" width="11.23" height="2.33" fill="#f8f1ed" />
<rect x="70.52" y="233.47" width="11.23" height="2.33" fill="#bddbea" />
<rect x="81.65" y="233.47" width="11.23" height="2.33" fill="#ebf1f5" />
<rect x="92.78" y="233.47" width="11.23" height="2.33" fill="#c3deec" />
<rect x="103.92" y="233.47" width="11.23" height="2.33" fill="#cde3ef" />
<rect x="115.05" y="233.47" width="11.23" height="2.33" fill="#fae9df" />
<rect x="126.18" y="233.47" width="11.23" height="2.33" fill="#f8f1ec" />
<rect x="137.32" y="233.47" width="11.23" height="2.33" fill="#fbd0b9" />
<rect x="148.45" y="233.47" width="11.23" height="2.33" fill="#fbe5d8" />
<rect x="159.58" y="233.47" width="11.23" height="2.33" fill="#fdd9c4" />
<rect x="170.72" y="233.47" width="11.23" height="2.33" fill="#fbe3d5" />
<rect x="48.25" y="235.70" width="11.23" height="2.33" fill="#e8f0f4" />
<rect x="59.38" y="235.70" width="11.23" height="2.33" fill="#ecf2f5" />
<rect x="70.52" y="235.70" width="11.23" height="2.33" fill="#e1edf3" />
<rect x="81.65" y="235.70" width="11.23" height="2.33" fill="#d8e9f1" />
<rect x="92.78" y="235.70" width="11.23" height="2.33" fill="#d9e9f1" />
<rect x="103.92" y="235.70" width="11.23" height="2.33" fill="#dae9f2" />
<rect x="115.05" y="235.70" width="11.23" height="2.33" fill="#fbe6db" />
<rect x="126.18" y="235.70" width="11.23" height="2.33" fill="#f6f7f7" />
<rect x="137.32" y="235.70" width="11.23" height="2.33" fill="#f9c4a9" />
<rect x="148.45" y="235.70" width="11.23" height="2.33" fill="#fddbc7" />
<rect x="159.58" y="235.70" width="11.23" height="2.33" fill="#f9f0eb" />
<rect x="170.72" y="235.70" width="11.23" height="2.33" fill="#fddac6" />
<rect x="48.25" y="237.93" width="11.23" height="2.33" fill="#ecf2f5" />
<rect x="59.38" y="237.93" width="11.23" height="2.33" fill="#dfecf3" />
<rect x="70.52" y="237.93" width="11.23" height="2.33" fill="#eaf1f5" />
<rect x="81.65" y="237.93" width="11.23" height="2.33" fill="#d8e8f1" />
<rect x="92.78" y="237.93" width="11.23" height="2.33" fill="#b4d6e8" />
<rect x="103.92" y="237.93" width="11.23" height="2.33" fill="#d4e6f1" />
<rect x="115.05" y="237.93" width="11.23" height="2.33" fill="#fcdfce" />
<rect x="126.18" y="237.93" width="11.23" height="2.33" fill="#fce1d1" />
<rect x="137.32" y="237.93" width="11.23" height="2.33" fill="#f9c1a6" />
<rect x="148.45" y="237.93" width="11.23" height="2.33" fill="#f9c4aa" />
<rect x="159.58" y="237.93" width="11.23" height="2.33" fill="#fcd3bd" />
<rect x="170.72" y="237.93" width="11.23" height="2.33" fill="#f8bda1" />
<rect x="48.25" y="240.15" width="11.23" height="2.33" fill="#d7e8f1" />
<rect x="59.38" y="240.15" width="11.23" height="2.33" fill="#d6e7f1" />
<rect x="70.52" y="240.15" width="11.23" height="2.33" fill="#cfe4ef" />
<rect x="81.65" y="240.15" width="11.23" height="2.33" fill="#cee4ef" />
<rect x="92.78" y="240.15" width="11.23" height="2.33" fill="#6fafd2" />
<rect x="103.92" y="240.15" width="11.23" height="2.33" fill="#d9e9f1" />
<rect x="115.05" y="240.15" width="11.23" height="2.33" fill="#fce0cf" />
<rect x="126.18" y="240.15" width="11.23" height="2.33" fill="#fcdecc" />
<rect x="137.32" y="240.15" width="11.23" height="2.33" fill="#f5a988" />
<rect x="148.45" y="240.15" width="11.23" height="2.33" fill="#fcd3bd" />
<rect x="159.58" y="240.15" width="11.23" height="2.33" fill="#fddac5" />
<rect x="170.72" y="240.15" width="11.23" height="2.33" fill="#f9c5ab" />
<rect x="48.25" y="242.38" width="11.23" height="2.33" fill="#d5e7f1" />
<rect x="59.38" y="242.38" width="11.23" height="2.33" fill="#d7e8f1" />
<rect x="70.52" y="242.38" width="11.23" height="2.33" fill="#e5eff4" />
<rect x="81.65" y="242.38" width="11.23" height="2.33" fill="#d7e8f1" />
<rect x="92.78" y="242.38" width="11.23" height="2.33" fill="#97c8df" />
<rect x="103.92" y="242.38" width="11.23" height="2.33" fill="#b5d7e8" />
<rect x="115.05" y="242.38" width="11.23" height="2.33" fill="#fbe4d7" />
<rect x="126.18" y="242.38" width="11.23" height="2.33" fill="#fddbc7" />
<rect x="137.32" y="242.38" width="11.23" height="2.33" fill="#f9c1a6" />
<rect x="148.45" y="242.38" width="11.23" height="2.33" fill="#fcd7c3" />
<rect x="159.58" y="242.38" width="11.23" height="2.33" fill="#fbd1ba" />
<rect x="170.72" y="242.38" width="11.23" height="2.33" fill="#f8bfa3" />
<rect x="48.25" y="244.61" width="11.23" height="2.33" fill="#cce3ef" />
<rect x="59.38" y="244.61" width="11.23" height="2.33" fill="#d3e6f0" />
<rect x="70.52" y="244.61" width="11.23" height="2.33" fill="#b0d4e6" />
<rect x="81.65" y="244.61" width="11.23" height="2.33" fill="#dbeaf2" />
<rect x="92.78" y="244.61" width="11.23" height="2.33" fill="#7ab6d6" />
<rect x="103.92" y="244.61" width="11.23" height="2.33" fill="#b3d6e7" />
<rect x="115.05" y="244.61" width="11.23" height="2.33" fill="#fcd5c0" />
<rect x="126.18" y="244.61" width="11.23" height="2.33" fill="#fac9b0" />
<rect x="137.32" y="244.61" width="11.23" height="2.33" fill="#ef9979" />
<rect x="148.45" y="244.61" width="11.23" height="2.33" fill="#fbd0b9" />
<rect x="159.58" y="244.61" width="11.23" height="2.33" fill="#fbd0b9" />
<rect x="170.72" y="244.61" width="11.23" height="2.33" fill="#f8bda0" />
<rect x="48.25" y="246.84" width="11.23" height="2.33" fill="#d4e6f1" />
<rect x="59.38" y="246.84" width="11.23" height="2.33" fill="#f6f7f7" />
<rect x="70.52" y="246.84" width="11.23" height="2.33" fill="#cae1ee" />
<rect x="81.65" y="246.84" width="11.23" height="2.33" fill="#e2edf3" />
<rect x="92.78" y="246.84" width="11.23" height="2.33" fill="#deebf2" />
<rect x="103.92" y="246.84" width="11.23" height="2.33" fill="#d7e8f1" />
<rect x="115.05" y="246.84" width="11.23" height="2.33" fill="#faebe2" />
<rect x="126.18" y="246.84" width="11.23" height="2.33" fill="#fbe6da" />
<rect x="137.32" y="246.84" width="11.23" height="2.33" fill="#f6b293" />
<rect x="148.45" y="246.84" width="11.23" height="2.33" fill="#fac8ae" />
<rect x="159.58" y="246.84" width="11.23" height="2.33" fill="#fbe6da" />
<rect x="170.72" y="246.84" width="11.23" height="2.33" fill="#f9c0a5" />
<rect x="48.25" y="249.07" width="11.23" height="2.33" fill="#aed3e6" />
<rect x="59.38" y="249.07" width="11.23" height="2.33" fill="#cee4ef" />
<rect x="70.52" y="249.07" width="11.23" height="2.33" fill="#c7e0ed" />
<rect x="81.65" y="249.07" width="11.23" height="2.33" fill="#cfe4ef" />
<rect x="92.78" y="249.07" width="11.23" height="2.33" fill="#bbdaea" />
<rect x="103.92" y="249.07" width="11.23" height="2.33" fill="#b8d8e9" />
<rect x="115.05" y="249.07" width="11.23" height="2.33" fill="#d86551" />
<rect x="126.18" y="249.07" width="11.23" height="2.33" fill="#f9c1a6" />
<rect x="137.32" y="249.07" width="11.23" height="2.33" fill="#f8bb9e" />
<rect x="148.45" y="249.07" width="11.23" height="2.33" fill="#f9c3a8" />
<rect x="159.58" y="249.07" width="11.23" height="2.33" fill="#fdd9c4" />
<rect x="170.72" y="249.07" width="11.23" height="2.33" fill="#fac7ad" />
<rect x="48.25" y="251.30" width="11.23" height="2.33" fill="#d5e7f1" />
<rect x="59.38" y="251.30" width="11.23" height="2.33" fill="#dbeaf2" />
<rect x="70.52" y="251.30" width="11.23" height="2.33" fill="#dceaf2" />
<rect x="81.65" y="251.30" width="11.23" height="2.33" fill="#e0ecf3" />
<rect x="92.78" y="251.30" width="11.23" height="2.33" fill="#d2e6f0" />
<rect x="103.92" y="251.30" width="11.23" height="2.33" fill="#edf2f5" />
<rect x="115.05" y="251.30" width="11.23" height="2.33" fill="#e58267" />
<rect x="126.18" y="251.30" width="11.23" height="2.33" fill="#f8f4f1" />
<rect x="137.32" y="251.30" width="11.23" height="2.33" fill="#fcd5bf" />
<rect x="148.45" y="251.30" width="11.23" height="2.33" fill="#fddbc8" />
<rect x="159.58" y="251.30" width="11.23" height="2.33" fill="#f9ede6" />
<rect x="170.72" y="251.30" width="11.23" height="2.33" fill="#f9eee8" />
<rect x="48.25" y="253.53" width="11.23" height="2.33" fill="#e2edf3" />
<rect x="59.38" y="253.53" width="11.23" height="2.33" fill="#deebf2" />
<rect x="70.52" y="253.53" width="11.23" height="2.33" fill="#dfecf3" />
<rect x="81.65" y="253.53" width="11.23" height="2.33" fill="#cae2ee" />
<rect x="92.78" y="253.53" width="11.23" height="2.33" fill="#d8e9f1" />
<rect x="103.92" y="253.53" width="11.23" height="2.33" fill="#cce2ef" />
<rect x="115.05" y="253.53" width="11.23" height="2.33" fill="#e27c62" />
<rect x="126.18" y="253.53" width="11.23" height="2.33" fill="#f9efe8" />
<rect x="137.32" y="253.53" width="11.23" height="2.33" fill="#fce1d1" />
<rect x="148.45" y="253.53" width="11.23" height="2.33" fill="#fbe5d9" />
<rect x="159.58" y="253.53" width="11.23" height="2.33" fill="#fae9df" />
<rect x="170.72" y="253.53" width="11.23" height="2.33" fill="#fbceb7" />
<rect x="48.25" y="255.76" width="11.23" height="2.33" fill="#e4eef3" />
<rect x="59.38" y="255.76" width="11.23" height="2.33" fill="#d2e5f0" />
<rect x="70.52" y="255.76" width="11.23" height="2.33" fill="#bfdceb" />
<rect x="81.65" y="255.76" width="11.23" height="2.33" fill="#d1e5f0" />
<rect x="92.78" y="255.76" width="11.23" height="2.33" fill="#bbdaea" />
<rect x="103.92" y="255.76" width="11.23" height="2.33" fill="#c2ddec" />
<rect x="115.05" y="255.76" width="11.23" height="2.33" fill="#fcdecd" />
<rect x="126.18" y="255.76" width="11.23" height="2.33" fill="#fce2d3" />
<rect x="137.32" y="255.76" width="11.23" height="2.33" fill="#fcd5c0" />
<rect x="148.45" y="255.76" width="11.23" height="2.33" fill="#fcdecc" />
<rect x="159.58" y="255.76" width="11.23" height="2.33" fill="#f9ece5" />
<rect x="170.72" y="255.76" width="11.23" height="2.33" fill="#fac8ae" />
<rect x="48.25" y="257.99" width="11.23" height="2.33" fill="#dbeaf2" />
<rect x="59.38" y="257.99" width="11.23" height="2.33" fill="#b5d7e8" />
<rect x="70.52" y="257.99" width="11.23" height="2.33" fill="#a4cee3" />
<rect x="81.65" y="257.99" width="11.23" height="2.33" fill="#d5e7f1" />
<rect x="92.78" y="257.99" width="11.23" height="2.33" fill="#d3e6f0" />
<rect x="103.92" y="257.99" width="11.23" height="2.33" fill="#d2e5f0" />
<rect x="115.05" y="257.99" width="11.23" height="2.33" fill="#fcd6c0" />
<rect x="126.18" y="257.99" width="11.23" height="2.33" fill="#f9c1a6" />
<rect x="137.32" y="257.99" width="11.23" height="2.33" fill="#f7b495" />
<rect x="148.45" y="257.99" width="11.23" height="2.33" fill="#fcd2bc" />
<rect x="159.58" y="257.99" width="11.23" height="2.33" fill="#db6c56" />
<rect x="170.72" y="257.99" width="11.23" height="2.33" fill="#f8c0a4" />
<rect x="48.25" y="260.22" width="11.23" height="2.33" fill="#ebf1f5" />
<rect x="59.38" y="260.22" width="11.23" height="2.33" fill="#d1e5f0" />
<rect x="70.52" y="260.22" width="11.23" height="2.33" fill="#e8f0f4" />
<rect x="81.65" y="260.22" width="11.23" height="2.33" fill="#eff3f6" />
<rect x="92.78" y="260.22" width="11.23" height="2.33" fill="#d0e4f0" />
<rect x="103.92" y="260.22" width="11.23" height="2.33" fill="#cde3ef" />
<rect x="115.05" y="260.22" width="11.23" height="2.33" fill="#fbe5d9" />
<rect x="126.18" y="260.22" width="11.23" height="2.33" fill="#fbe6db" />
<rect x="137.32" y="260.22" width="11.23" height="2.33" fill="#fbceb6" />
<rect x="148.45" y="260.22" width="11.23" height="2.33" fill="#f9eee7" />
<rect x="159.58" y="260.22" width="11.23" height="2.33" fill="#ec9374" />
<rect x="170.72" y="260.22" width="11.23" height="2.33" fill="#facbb2" />
</g>
<line x1="49.50" y1="21.10" x2="112.70" y2="21.10" stroke="#222" stroke-width="1.3" />
<line x1="116.00" y1="21.10" x2="179.50" y2="21.10" stroke="#222" stroke-width="1.3" />
<text x="80.00" y="18.30" font-size="10.7" font-weight="bold" text-anchor="middle" fill="#111" textLength="16.9" lengthAdjust="spacingAndGlyphs">WT</text>
<text x="134.4" y="17.8" font-size="10.7" font-weight="bold" fill="#111"><tspan textLength="23.4" lengthAdjust="spacingAndGlyphs">Atg7</tspan><tspan font-size="7" dy="-4.2">Ad</tspan></text>
<rect x="27.30" y="63.30" width="6.60" height="94.50" fill="url(#cbar)" />
<text x="39.80" y="81.50" font-size="6.3" text-anchor="end" fill="#444" >2</text>
<text x="39.80" y="97.10" font-size="6.3" text-anchor="end" fill="#444" >1</text>
<text x="39.80" y="113.00" font-size="6.3" text-anchor="end" fill="#444" >0</text>
<text x="39.80" y="130.00" font-size="6.3" text-anchor="end" fill="#444" >-1</text>
<text x="39.80" y="145.60" font-size="6.3" text-anchor="end" fill="#444" >-2</text>
<text transform="translate(31.9,59.9) rotate(-90)" font-size="6.4" fill="#222">Log<tspan font-size="4.5" dy="1.3">2</tspan><tspan dy="-1.3"> FC</tspan></text>
<path d="M185 24.6 H190 V56.4 H185" fill="none" stroke="#9d9d9f" stroke-width="2.9"/>
<path d="M195.1 38.3 H210.5 V35.8 L215.3 40.7 L210.5 45.6 V43 H195.1 Z" fill="#9d9d9f"/>
<path d="M185.5 227.4 H190.4 V259.3 H185.5" fill="none" stroke="#8cbd1f" stroke-width="2.9"/>
<path d="M195.8 241.7 H210.9 V239 L216 244 L210.9 249 V246.3 H195.8 Z" fill="#8cbd1f"/>
<text transform="translate(230.42,13.40) scale(0.837,1)" font-size="19.19" font-weight="bold" fill="#000" stroke="#000" stroke-width="0.5">B</text>
<rect x="284.10" y="12.30" width="144.50" height="6.40" fill="#a1a1a4" />
<line x1="428.60" y1="15.50" x2="431.60" y2="15.50" stroke="#111" stroke-width="1.1" />
<text x="435.00" y="18.25" font-size="7.75" font-weight="bold" text-anchor="start" fill="#000" stroke="#000" stroke-width="0.12">activation of innate immune response</text>
<text x="279.50" y="18.70" font-size="9" text-anchor="middle" fill="#222" >9</text>
<rect x="286.40" y="22.15" width="142.20" height="6.40" fill="#a1a1a4" />
<line x1="428.60" y1="25.35" x2="431.60" y2="25.35" stroke="#111" stroke-width="1.1" />
<text x="435.00" y="28.10" font-size="7.75" font-weight="bold" text-anchor="start" fill="#000" stroke="#000" stroke-width="0.12">NIK/NF-kappaB signaling</text>
<text x="279.50" y="28.55" font-size="9" text-anchor="middle" fill="#222" >12</text>
<rect x="310.40" y="32.00" width="118.20" height="6.40" fill="#a1a1a4" />
<line x1="428.60" y1="35.20" x2="431.60" y2="35.20" stroke="#111" stroke-width="1.1" />
<text x="435.00" y="37.95" font-size="7.75" font-weight="bold" text-anchor="start" fill="#000" stroke="#000" stroke-width="0.12">interleukin-1 production</text>
<text x="303.50" y="38.40" font-size="9" text-anchor="middle" fill="#222" >11</text>
<rect x="310.70" y="41.85" width="117.90" height="6.40" fill="#a1a1a4" />
<line x1="428.60" y1="45.05" x2="431.60" y2="45.05" stroke="#111" stroke-width="1.1" />
<text x="435.00" y="47.80" font-size="7.75" font-weight="bold" text-anchor="start" fill="#000" stroke="#000" stroke-width="0.12">cytokine production involved in immune response</text>
<text x="303.50" y="48.25" font-size="9" text-anchor="middle" fill="#222" >12</text>
<rect x="311.30" y="51.70" width="117.30" height="6.40" fill="#a1a1a4" />
<line x1="428.60" y1="54.90" x2="431.60" y2="54.90" stroke="#111" stroke-width="1.1" />
<text x="435.00" y="57.65" font-size="7.75" font-weight="bold" text-anchor="start" fill="#000" stroke="#000" stroke-width="0.12">interleukin-6 production</text>
<text x="303.50" y="58.10" font-size="9" text-anchor="middle" fill="#222" >13</text>
<rect x="316.10" y="61.55" width="112.50" height="6.40" fill="#a1a1a4" />
<line x1="428.60" y1="64.75" x2="431.60" y2="64.75" stroke="#111" stroke-width="1.1" />
<text x="435.00" y="67.50" font-size="7.75" font-weight="bold" text-anchor="start" fill="#000" stroke="#000" stroke-width="0.12">monocyte differentiation</text>
<text x="303.50" y="67.95" font-size="9" text-anchor="middle" fill="#222" >6</text>
<rect x="318.90" y="71.40" width="109.70" height="6.40" fill="#a1a1a4" />
<line x1="428.60" y1="74.60" x2="431.60" y2="74.60" stroke="#111" stroke-width="1.1" />
<text x="435.00" y="77.35" font-size="7.75" font-weight="bold" text-anchor="start" fill="#000" stroke="#000" stroke-width="0.12">regulation of inflammatory response</text>
<text x="303.50" y="77.80" font-size="9" text-anchor="middle" fill="#222" >19</text>
<rect x="319.05" y="81.25" width="109.55" height="6.40" fill="#a1a1a4" />
<line x1="428.60" y1="84.45" x2="431.60" y2="84.45" stroke="#111" stroke-width="1.1" />
<text x="435.00" y="87.20" font-size="7.75" font-weight="bold" text-anchor="start" fill="#000" stroke="#000" stroke-width="0.12">protein secretion</text>
<text x="303.50" y="87.65" font-size="9" text-anchor="middle" fill="#222" >20</text>
<rect x="322.40" y="91.10" width="106.20" height="6.40" fill="#a1a1a4" />
<line x1="428.60" y1="94.30" x2="431.60" y2="94.30" stroke="#111" stroke-width="1.1" />
<text x="435.00" y="97.05" font-size="7.75" font-weight="bold" text-anchor="start" fill="#000" stroke="#000" stroke-width="0.12">activation of immune response</text>
<text x="303.50" y="97.50" font-size="9" text-anchor="middle" fill="#222" >21</text>
<rect x="346.10" y="100.95" width="82.50" height="6.40" fill="#a1a1a4" />
<line x1="428.60" y1="104.15" x2="431.60" y2="104.15" stroke="#111" stroke-width="1.1" />
<text x="435.00" y="106.90" font-size="7.75" font-weight="bold" text-anchor="start" fill="#000" stroke="#000" stroke-width="0.12">lipid transport</text>
<text x="303.50" y="107.35" font-size="9" text-anchor="middle" fill="#222" >18</text>
<line x1="428.60" y1="8.90" x2="428.60" y2="110.90" stroke="#111" stroke-width="1.2" />
<line x1="275.00" y1="110.40" x2="429.20" y2="110.40" stroke="#111" stroke-width="1.2" />
<line x1="275.60" y1="110.40" x2="275.60" y2="114.30" stroke="#111" stroke-width="1.1" />
<text x="275.60" y="123.10" font-size="6.8" font-weight="bold" text-anchor="middle" fill="#000" >4</text>
<line x1="313.90" y1="110.40" x2="313.90" y2="114.30" stroke="#111" stroke-width="1.1" />
<text x="313.90" y="123.10" font-size="6.8" font-weight="bold" text-anchor="middle" fill="#000" >3</text>
<line x1="352.20" y1="110.40" x2="352.20" y2="114.30" stroke="#111" stroke-width="1.1" />
<text x="352.20" y="123.10" font-size="6.8" font-weight="bold" text-anchor="middle" fill="#000" >2</text>
<line x1="390.40" y1="110.40" x2="390.40" y2="114.30" stroke="#111" stroke-width="1.1" />
<text x="390.40" y="123.10" font-size="6.8" font-weight="bold" text-anchor="middle" fill="#000" >1</text>
<line x1="428.60" y1="110.40" x2="428.60" y2="114.30" stroke="#111" stroke-width="1.1" />
<text x="428.60" y="123.10" font-size="6.8" font-weight="bold" text-anchor="middle" fill="#000" >0</text>
<text x="288.80" y="107.30" font-size="9.25" text-anchor="end" fill="#a6a6a6" >downregulated</text>
<text x="327.2" y="136" font-size="8.4" font-weight="bold" fill="#111">-log<tspan font-size="6" dy="1.6">10</tspan><tspan dy="-1.6">(p</tspan><tspan font-size="6" dy="1.6">adjust</tspan><tspan dy="-1.6">)</tspan></text>
<text transform="translate(228.88,150.80) scale(0.771,1)" font-size="19.63" font-weight="bold" fill="#000" stroke="#000" stroke-width="0.5">C</text>
<rect x="428.60" y="150.00" width="116.10" height="6.40" fill="#8dc03f" />
<line x1="423.20" y1="153.20" x2="428.60" y2="153.20" stroke="#111" stroke-width="1.1" />
<text x="422.10" y="155.95" font-size="7.7" font-weight="bold" text-anchor="end" fill="#000" stroke="#000" stroke-width="0.12">regulation of nuclear division</text>
<text x="549.50" y="156.40" font-size="9" text-anchor="start" fill="#222" >26</text>
<rect x="428.60" y="159.82" width="38.90" height="6.40" fill="#8dc03f" />
<line x1="423.20" y1="163.02" x2="428.60" y2="163.02" stroke="#111" stroke-width="1.1" />
<text x="422.10" y="165.77" font-size="7.7" font-weight="bold" text-anchor="end" fill="#000" stroke="#000" stroke-width="0.12">glucose catabolic process</text>
<text x="476.50" y="166.22" font-size="9" text-anchor="middle" fill="#222" >7</text>
<rect x="428.60" y="169.64" width="38.40" height="6.40" fill="#8dc03f" />
<line x1="423.20" y1="172.84" x2="428.60" y2="172.84" stroke="#111" stroke-width="1.1" />
<text x="422.10" y="175.59" font-size="7.7" font-weight="bold" text-anchor="end" fill="#000" stroke="#000" stroke-width="0.12">extracellular matrix organization</text>
<text x="476.50" y="176.04" font-size="9" text-anchor="middle" fill="#222" >22</text>
<rect x="428.60" y="179.46" width="35.40" height="6.40" fill="#8dc03f" />
<line x1="423.20" y1="182.66" x2="428.60" y2="182.66" stroke="#111" stroke-width="1.1" />
<text x="422.10" y="185.41" font-size="7.7" font-weight="bold" text-anchor="end" fill="#000" stroke="#000" stroke-width="0.12">nucleotide biosynthetic process</text>
<text x="476.50" y="185.86" font-size="9" text-anchor="middle" fill="#222" >19</text>
<rect x="428.60" y="189.28" width="34.70" height="6.40" fill="#8dc03f" />
<line x1="423.20" y1="192.48" x2="428.60" y2="192.48" stroke="#111" stroke-width="1.1" />
<text x="422.10" y="195.23" font-size="7.7" font-weight="bold" text-anchor="end" fill="#000" stroke="#000" stroke-width="0.12">myeloid leukocyte migration</text>
<text x="476.50" y="195.68" font-size="9" text-anchor="middle" fill="#222" >18</text>
<rect x="428.60" y="199.10" width="29.10" height="6.40" fill="#8dc03f" />
<line x1="423.20" y1="202.30" x2="428.60" y2="202.30" stroke="#111" stroke-width="1.1" />
<text x="422.10" y="205.05" font-size="7.7" font-weight="bold" text-anchor="end" fill="#000" stroke="#000" stroke-width="0.12">purine-containing compound metabolic process</text>
<text x="476.50" y="205.50" font-size="9" text-anchor="middle" fill="#222" >25</text>
<rect x="428.60" y="208.92" width="27.20" height="6.40" fill="#8dc03f" />
<line x1="423.20" y1="212.12" x2="428.60" y2="212.12" stroke="#111" stroke-width="1.1" />
<text x="422.10" y="214.87" font-size="7.7" font-weight="bold" text-anchor="end" fill="#000" stroke="#000" stroke-width="0.12">wound healing</text>
<text x="476.50" y="215.32" font-size="9" text-anchor="middle" fill="#222" >21</text>
<rect x="428.60" y="218.74" width="26.20" height="6.40" fill="#8dc03f" />
<line x1="423.20" y1="221.94" x2="428.60" y2="221.94" stroke="#111" stroke-width="1.1" />
<text x="422.10" y="224.69" font-size="7.7" font-weight="bold" text-anchor="end" fill="#000" stroke="#000" stroke-width="0.12">myeloid leukocyte activation</text>
<text x="476.50" y="225.14" font-size="9" text-anchor="middle" fill="#222" >17</text>
<rect x="428.60" y="228.56" width="25.30" height="6.40" fill="#8dc03f" />
<line x1="423.20" y1="231.76" x2="428.60" y2="231.76" stroke="#111" stroke-width="1.1" />
<text x="422.10" y="234.51" font-size="7.7" font-weight="bold" text-anchor="end" fill="#000" stroke="#000" stroke-width="0.12">glutathione metabolic process</text>
<text x="476.50" y="234.96" font-size="9" text-anchor="middle" fill="#222" >9</text>
<rect x="428.60" y="238.38" width="20.10" height="6.40" fill="#8dc03f" />
<line x1="423.20" y1="241.58" x2="428.60" y2="241.58" stroke="#111" stroke-width="1.1" />
<text x="422.10" y="244.33" font-size="7.7" font-weight="bold" text-anchor="end" fill="#000" stroke="#000" stroke-width="0.12">tissue remodeling</text>
<text x="476.50" y="244.78" font-size="9" text-anchor="middle" fill="#222" >13</text>
<line x1="428.60" y1="145.80" x2="428.60" y2="246.90" stroke="#111" stroke-width="1.2" />
<line x1="428.00" y1="246.40" x2="581.90" y2="246.40" stroke="#111" stroke-width="1.2" />
<line x1="428.60" y1="246.40" x2="428.60" y2="250.30" stroke="#111" stroke-width="1.1" />
<text x="428.60" y="259.30" font-size="6.8" font-weight="bold" text-anchor="middle" fill="#000" >0</text>
<line x1="466.80" y1="246.40" x2="466.80" y2="250.30" stroke="#111" stroke-width="1.1" />
<text x="466.80" y="259.30" font-size="6.8" font-weight="bold" text-anchor="middle" fill="#000" >5</text>
<line x1="505.00" y1="246.40" x2="505.00" y2="250.30" stroke="#111" stroke-width="1.1" />
<text x="505.00" y="259.30" font-size="6.8" font-weight="bold" text-anchor="middle" fill="#000" >10</text>
<line x1="543.20" y1="246.40" x2="543.20" y2="250.30" stroke="#111" stroke-width="1.1" />
<text x="543.20" y="259.30" font-size="6.8" font-weight="bold" text-anchor="middle" fill="#000" >15</text>
<line x1="581.40" y1="246.40" x2="581.40" y2="250.30" stroke="#111" stroke-width="1.1" />
<text x="581.40" y="259.30" font-size="6.8" font-weight="bold" text-anchor="middle" fill="#000" >20</text>
<text x="581.70" y="243.80" font-size="8.4" font-weight="bold" text-anchor="end" fill="#8dc03f" >upregulated</text>
<text x="479.5" y="272.5" font-size="8.4" font-weight="bold" fill="#111">-log<tspan font-size="6" dy="1.6">10</tspan><tspan dy="-1.6">(p</tspan><tspan font-size="6" dy="1.6">adjust</tspan><tspan dy="-1.6">)</tspan></text>
<text transform="translate(0.16,325.50) scale(0.954,1)" font-size="19.33" font-weight="bold" fill="#000" stroke="#000" stroke-width="0.5">D</text>
<rect x="57.20" y="354.30" width="14.80" height="67.90" fill="#bfbfbf" />
<rect x="79.60" y="393.80" width="14.60" height="28.40" fill="#bfbfbf" />
<line x1="49.50" y1="320.40" x2="49.50" y2="423.10" stroke="#111" stroke-width="1.2" />
<line x1="48.90" y1="422.50" x2="102.40" y2="422.50" stroke="#111" stroke-width="1.2" />
<line x1="45.00" y1="320.50" x2="49.50" y2="320.50" stroke="#111" stroke-width="1.0" />
<text x="43.50" y="322.95" font-size="7.3" font-weight="bold" text-anchor="end" fill="#000" >20</text>
<line x1="45.00" y1="346.50" x2="49.50" y2="346.50" stroke="#111" stroke-width="1.0" />
<text x="43.50" y="348.95" font-size="7.3" font-weight="bold" text-anchor="end" fill="#000" >15</text>
<line x1="45.00" y1="371.50" x2="49.50" y2="371.50" stroke="#111" stroke-width="1.0" />
<text x="43.50" y="373.95" font-size="7.3" font-weight="bold" text-anchor="end" fill="#000" >10</text>
<line x1="45.00" y1="396.50" x2="49.50" y2="396.50" stroke="#111" stroke-width="1.0" />
<text x="43.50" y="398.95" font-size="7.3" font-weight="bold" text-anchor="end" fill="#000" >5</text>
<line x1="45.00" y1="422.50" x2="49.50" y2="422.50" stroke="#111" stroke-width="1.0" />
<text x="43.50" y="424.95" font-size="7.3" font-weight="bold" text-anchor="end" fill="#000" >0</text>
<line x1="64.50" y1="422.50" x2="64.50" y2="426.80" stroke="#111" stroke-width="1.1" />
<line x1="86.50" y1="422.50" x2="86.50" y2="426.80" stroke="#111" stroke-width="1.1" />
<line x1="64.50" y1="342.50" x2="64.50" y2="366.50" stroke="#1f9acb" stroke-width="1.2" />
<line x1="60.15" y1="342.50" x2="68.85" y2="342.50" stroke="#1f9acb" stroke-width="1.2" />
<line x1="60.15" y1="366.50" x2="68.85" y2="366.50" stroke="#1f9acb" stroke-width="1.2" />
<line x1="86.50" y1="381.50" x2="86.50" y2="406.50" stroke="#a3197e" stroke-width="1.2" />
<line x1="82.85" y1="381.50" x2="90.15" y2="381.50" stroke="#a3197e" stroke-width="1.2" />
<line x1="82.85" y1="406.50" x2="90.15" y2="406.50" stroke="#a3197e" stroke-width="1.2" />
<circle cx="59.10" cy="346.00" r="2.2" fill="#1f9acb"/>
<circle cx="70.10" cy="346.00" r="2.2" fill="#1f9acb"/>
<circle cx="59.10" cy="352.30" r="2.2" fill="#1f9acb"/>
<circle cx="70.10" cy="352.30" r="2.2" fill="#1f9acb"/>
<circle cx="64.50" cy="375.20" r="2.2" fill="#1f9acb"/>
<circle cx="86.90" cy="368.20" r="2.2" fill="#a3197e"/>
<circle cx="84.70" cy="394.80" r="2.2" fill="#a3197e"/>
<circle cx="89.00" cy="394.80" r="2.2" fill="#a3197e"/>
<circle cx="86.90" cy="399.90" r="2.2" fill="#a3197e"/>
<circle cx="81.30" cy="402.40" r="2.2" fill="#a3197e"/>
<circle cx="92.30" cy="401.40" r="2.2" fill="#a3197e"/>
<path d="M64.50 335.80 V330.50 H87.50 V335.80" fill="none" stroke="#222" stroke-width="1"/>
<text x="75.60" y="325.60" font-size="8.3" text-anchor="middle" fill="#111" >0.0006</text>
<text transform="translate(27.80,371.10) rotate(-90)" x="0" y="0" font-size="8.4" font-weight="bold" text-anchor="middle" dominant-baseline="central" textLength="47.5" lengthAdjust="spacingAndGlyphs">IL1β [pg/ml]</text>
<text x="64.60" y="434.70" font-size="8.2" font-weight="bold" text-anchor="middle" fill="#000" textLength="12.6" lengthAdjust="spacingAndGlyphs">WT</text>
<text x="74.80" y="434.70" font-size="8.2" font-weight="bold" text-anchor="start" fill="#000"><tspan textLength="16.2" lengthAdjust="spacingAndGlyphs">Atg7</tspan><tspan font-size="5.90" font-weight="normal" dy="-3.44">Ad</tspan></text>
<text transform="translate(132.42,325.50) scale(0.756,1)" font-size="19.33" font-weight="bold" fill="#000" stroke="#000" stroke-width="0.5">E</text>
<rect x="188.90" y="358.10" width="15.00" height="64.30" fill="#bfbfbf" />
<rect x="211.20" y="391.30" width="14.80" height="31.10" fill="#bfbfbf" />
<line x1="181.50" y1="320.50" x2="181.50" y2="423.10" stroke="#111" stroke-width="1.2" />
<line x1="180.90" y1="422.50" x2="233.70" y2="422.50" stroke="#111" stroke-width="1.2" />
<line x1="177.00" y1="320.50" x2="181.50" y2="320.50" stroke="#111" stroke-width="1.0" />
<text x="175.50" y="322.95" font-size="7.3" font-weight="bold" text-anchor="end" fill="#000" >1500</text>
<line x1="177.00" y1="354.50" x2="181.50" y2="354.50" stroke="#111" stroke-width="1.0" />
<text x="175.50" y="356.95" font-size="7.3" font-weight="bold" text-anchor="end" fill="#000" >1000</text>
<line x1="177.00" y1="388.50" x2="181.50" y2="388.50" stroke="#111" stroke-width="1.0" />
<text x="175.50" y="390.95" font-size="7.3" font-weight="bold" text-anchor="end" fill="#000" >500</text>
<line x1="177.00" y1="422.50" x2="181.50" y2="422.50" stroke="#111" stroke-width="1.0" />
<text x="175.50" y="424.95" font-size="7.3" font-weight="bold" text-anchor="end" fill="#000" >0</text>
<line x1="196.50" y1="422.50" x2="196.50" y2="426.80" stroke="#111" stroke-width="1.1" />
<line x1="218.50" y1="422.50" x2="218.50" y2="426.80" stroke="#111" stroke-width="1.1" />
<line x1="196.50" y1="352.50" x2="196.50" y2="363.50" stroke="#1f9acb" stroke-width="1.2" />
<line x1="193.05" y1="352.50" x2="199.95" y2="352.50" stroke="#1f9acb" stroke-width="1.2" />
<line x1="193.05" y1="363.50" x2="199.95" y2="363.50" stroke="#1f9acb" stroke-width="1.2" />
<line x1="218.50" y1="374.50" x2="218.50" y2="409.50" stroke="#a3197e" stroke-width="1.2" />
<line x1="214.65" y1="374.50" x2="222.35" y2="374.50" stroke="#a3197e" stroke-width="1.2" />
<line x1="214.65" y1="409.50" x2="222.35" y2="409.50" stroke="#a3197e" stroke-width="1.2" />
<circle cx="196.40" cy="351.70" r="2.2" fill="#1f9acb"/>
<circle cx="190.40" cy="361.60" r="2.2" fill="#1f9acb"/>
<circle cx="201.70" cy="360.80" r="2.2" fill="#1f9acb"/>
<circle cx="218.50" cy="378.20" r="2.2" fill="#a3197e"/>
<circle cx="218.50" cy="385.80" r="2.2" fill="#a3197e"/>
<circle cx="218.50" cy="410.90" r="2.2" fill="#a3197e"/>
<path d="M196.50 345.70 V339.50 H218.50 V345.70" fill="none" stroke="#222" stroke-width="1"/>
<text x="207.20" y="335.50" font-size="8.3" text-anchor="middle" fill="#111" >0.0327</text>
<text transform="translate(151.30,371.00) rotate(-90)" x="0" y="0" font-size="8.4" font-weight="bold" text-anchor="middle" dominant-baseline="central" textLength="42.5" lengthAdjust="spacingAndGlyphs">IL6 [pg/ml]</text>
<text x="196.30" y="434.70" font-size="8.2" font-weight="bold" text-anchor="middle" fill="#000" textLength="12.6" lengthAdjust="spacingAndGlyphs">WT</text>
<text x="207.00" y="434.70" font-size="8.2" font-weight="bold" text-anchor="start" fill="#000"><tspan textLength="16.2" lengthAdjust="spacingAndGlyphs">Atg7</tspan><tspan font-size="5.90" font-weight="normal" dy="-3.44">Ad</tspan></text>
<text transform="translate(242.87,325.50) scale(0.714,1)" font-size="19.33" font-weight="bold" fill="#000" stroke="#000" stroke-width="0.5">F</text>
<rect x="304.80" y="360.00" width="14.60" height="62.20" fill="#bfbfbf" />
<rect x="327.40" y="412.90" width="14.80" height="9.30" fill="#bfbfbf" />
<line x1="297.50" y1="320.30" x2="297.50" y2="423.10" stroke="#111" stroke-width="1.2" />
<line x1="296.90" y1="422.50" x2="349.80" y2="422.50" stroke="#111" stroke-width="1.2" />
<line x1="293.00" y1="320.50" x2="297.50" y2="320.50" stroke="#111" stroke-width="1.0" />
<text x="291.50" y="322.95" font-size="7.3" font-weight="bold" text-anchor="end" fill="#000" >150</text>
<line x1="293.00" y1="354.50" x2="297.50" y2="354.50" stroke="#111" stroke-width="1.0" />
<text x="291.50" y="356.95" font-size="7.3" font-weight="bold" text-anchor="end" fill="#000" >100</text>
<line x1="293.00" y1="388.50" x2="297.50" y2="388.50" stroke="#111" stroke-width="1.0" />
<text x="291.50" y="390.95" font-size="7.3" font-weight="bold" text-anchor="end" fill="#000" >50</text>
<line x1="293.00" y1="422.50" x2="297.50" y2="422.50" stroke="#111" stroke-width="1.0" />
<text x="291.50" y="424.95" font-size="7.3" font-weight="bold" text-anchor="end" fill="#000" >0</text>
<line x1="312.50" y1="422.50" x2="312.50" y2="426.80" stroke="#111" stroke-width="1.1" />
<line x1="334.50" y1="422.50" x2="334.50" y2="426.80" stroke="#111" stroke-width="1.1" />
<line x1="312.50" y1="355.50" x2="312.50" y2="362.50" stroke="#1f9acb" stroke-width="1.2" />
<line x1="308.50" y1="355.50" x2="316.50" y2="355.50" stroke="#1f9acb" stroke-width="1.2" />
<line x1="308.50" y1="362.50" x2="316.50" y2="362.50" stroke="#1f9acb" stroke-width="1.2" />
<line x1="334.50" y1="407.50" x2="334.50" y2="419.50" stroke="#a3197e" stroke-width="1.2" />
<line x1="330.50" y1="407.50" x2="338.50" y2="407.50" stroke="#a3197e" stroke-width="1.2" />
<line x1="330.50" y1="419.50" x2="338.50" y2="419.50" stroke="#a3197e" stroke-width="1.2" />
<circle cx="306.80" cy="355.60" r="2.2" fill="#1f9acb"/>
<circle cx="318.00" cy="355.60" r="2.2" fill="#1f9acb"/>
<circle cx="306.80" cy="361.70" r="2.2" fill="#1f9acb"/>
<circle cx="318.00" cy="361.70" r="2.2" fill="#1f9acb"/>
<circle cx="312.40" cy="358.60" r="2.2" fill="#1f9acb"/>
<circle cx="328.50" cy="405.00" r="2.2" fill="#a3197e"/>
<circle cx="340.00" cy="409.70" r="2.2" fill="#a3197e"/>
<circle cx="334.00" cy="413.00" r="2.2" fill="#a3197e"/>
<circle cx="328.50" cy="419.20" r="2.2" fill="#a3197e"/>
<circle cx="340.00" cy="419.20" r="2.2" fill="#a3197e"/>
<circle cx="334.00" cy="416.00" r="2.2" fill="#a3197e"/>
<path d="M312.50 349.70 V344.50 H334.50 V349.70" fill="none" stroke="#222" stroke-width="1"/>
<text x="323.00" y="339.00" font-size="8.3" text-anchor="middle" fill="#111" >&lt;0.0001</text>
<text transform="translate(271.30,371.20) rotate(-90)" x="0" y="0" font-size="8.4" font-weight="bold" text-anchor="middle" dominant-baseline="central" textLength="51.3" lengthAdjust="spacingAndGlyphs">TNFα [pg/ml]</text>
<text x="312.20" y="434.70" font-size="8.2" font-weight="bold" text-anchor="middle" fill="#000" textLength="12.6" lengthAdjust="spacingAndGlyphs">WT</text>
<text x="323.00" y="434.70" font-size="8.2" font-weight="bold" text-anchor="start" fill="#000"><tspan textLength="16.2" lengthAdjust="spacingAndGlyphs">Atg7</tspan><tspan font-size="5.90" font-weight="normal" dy="-3.44">Ad</tspan></text>
<text transform="translate(374.50,325.70) scale(0.862,1)" font-size="19.77" font-weight="bold" fill="#000" stroke="#000" stroke-width="0.5">G</text>
<rect x="432.10" y="355.00" width="14.80" height="67.00" fill="#bfbfbf" />
<rect x="454.30" y="386.90" width="14.80" height="35.10" fill="#bfbfbf" />
<line x1="424.50" y1="320.30" x2="424.50" y2="423.10" stroke="#111" stroke-width="1.2" />
<line x1="423.90" y1="422.50" x2="476.10" y2="422.50" stroke="#111" stroke-width="1.2" />
<line x1="420.00" y1="320.50" x2="424.50" y2="320.50" stroke="#111" stroke-width="1.0" />
<text x="418.50" y="322.95" font-size="7.3" font-weight="bold" text-anchor="end" fill="#000" >3000</text>
<line x1="420.00" y1="354.50" x2="424.50" y2="354.50" stroke="#111" stroke-width="1.0" />
<text x="418.50" y="356.95" font-size="7.3" font-weight="bold" text-anchor="end" fill="#000" >2000</text>
<line x1="420.00" y1="388.50" x2="424.50" y2="388.50" stroke="#111" stroke-width="1.0" />
<text x="418.50" y="390.95" font-size="7.3" font-weight="bold" text-anchor="end" fill="#000" >1000</text>
<line x1="420.00" y1="422.50" x2="424.50" y2="422.50" stroke="#111" stroke-width="1.0" />
<text x="418.50" y="424.95" font-size="7.3" font-weight="bold" text-anchor="end" fill="#000" >0</text>
<line x1="439.50" y1="422.50" x2="439.50" y2="426.80" stroke="#111" stroke-width="1.1" />
<line x1="461.50" y1="422.50" x2="461.50" y2="426.80" stroke="#111" stroke-width="1.1" />
<line x1="439.50" y1="336.50" x2="439.50" y2="374.50" stroke="#1f9acb" stroke-width="1.2" />
<line x1="435.75" y1="336.50" x2="443.25" y2="336.50" stroke="#1f9acb" stroke-width="1.2" />
<line x1="435.75" y1="374.50" x2="443.25" y2="374.50" stroke="#1f9acb" stroke-width="1.2" />
<line x1="461.50" y1="365.50" x2="461.50" y2="408.50" stroke="#a3197e" stroke-width="1.2" />
<line x1="457.75" y1="365.50" x2="465.25" y2="365.50" stroke="#a3197e" stroke-width="1.2" />
<line x1="457.75" y1="408.50" x2="465.25" y2="408.50" stroke="#a3197e" stroke-width="1.2" />
<circle cx="439.30" cy="330.90" r="2.2" fill="#1f9acb"/>
<circle cx="439.30" cy="346.70" r="2.2" fill="#1f9acb"/>
<circle cx="439.30" cy="351.60" r="2.2" fill="#1f9acb"/>
<circle cx="439.30" cy="363.60" r="2.2" fill="#1f9acb"/>
<circle cx="439.30" cy="382.70" r="2.2" fill="#1f9acb"/>
<circle cx="461.70" cy="356.50" r="2.2" fill="#a3197e"/>
<circle cx="461.70" cy="370.20" r="2.2" fill="#a3197e"/>
<circle cx="461.70" cy="378.20" r="2.2" fill="#a3197e"/>
<circle cx="456.40" cy="401.90" r="2.2" fill="#a3197e"/>
<circle cx="466.80" cy="402.50" r="2.2" fill="#a3197e"/>
<circle cx="461.70" cy="410.10" r="2.2" fill="#a3197e"/>
<path d="M439.50 324.70 V319.50 H461.50 V324.70" fill="none" stroke="#222" stroke-width="1"/>
<text x="450.50" y="314.40" font-size="8.3" text-anchor="middle" fill="#111" >0.0314</text>
<text transform="translate(394.40,371.10) rotate(-90)" x="0" y="0" font-size="8.4" font-weight="bold" text-anchor="middle" dominant-baseline="central" textLength="47.5" lengthAdjust="spacingAndGlyphs">IL10 [pg/ml]</text>
<text x="439.30" y="434.70" font-size="8.2" font-weight="bold" text-anchor="middle" fill="#000" textLength="12.6" lengthAdjust="spacingAndGlyphs">WT</text>
<text x="450.30" y="434.70" font-size="8.2" font-weight="bold" text-anchor="start" fill="#000"><tspan textLength="16.2" lengthAdjust="spacingAndGlyphs">Atg7</tspan><tspan font-size="5.90" font-weight="normal" dy="-3.44">Ad</tspan></text>
<text transform="translate(500.34,325.50) scale(0.977,1)" font-size="19.33" font-weight="bold" fill="#000" stroke="#000" stroke-width="0.5">H</text>
<rect x="556.00" y="385.40" width="10.70" height="39.10" fill="#bfbfbf" />
<rect x="572.10" y="349.00" width="10.50" height="75.50" fill="#bfbfbf" />
<rect x="598.40" y="387.10" width="10.50" height="37.40" fill="#bfbfbf" />
<rect x="614.20" y="344.40" width="10.60" height="80.10" fill="#bfbfbf" />
<line x1="550.50" y1="302.70" x2="550.50" y2="425.10" stroke="#111" stroke-width="1.2" />
<line x1="549.90" y1="424.50" x2="630.00" y2="424.50" stroke="#111" stroke-width="1.2" />
<line x1="546.00" y1="302.50" x2="550.50" y2="302.50" stroke="#111" stroke-width="1.0" />
<text x="544.50" y="304.95" font-size="7.3" font-weight="bold" text-anchor="end" fill="#000" >8</text>
<line x1="546.00" y1="333.50" x2="550.50" y2="333.50" stroke="#111" stroke-width="1.0" />
<text x="544.50" y="335.95" font-size="7.3" font-weight="bold" text-anchor="end" fill="#000" >4</text>
<line x1="546.00" y1="363.50" x2="550.50" y2="363.50" stroke="#111" stroke-width="1.0" />
<text x="544.50" y="365.95" font-size="7.3" font-weight="bold" text-anchor="end" fill="#000" >2</text>
<line x1="546.00" y1="394.50" x2="550.50" y2="394.50" stroke="#111" stroke-width="1.0" />
<text x="544.50" y="396.95" font-size="7.3" font-weight="bold" text-anchor="end" fill="#000" >1</text>
<line x1="546.00" y1="424.50" x2="550.50" y2="424.50" stroke="#111" stroke-width="1.0" />
<text x="544.50" y="426.95" font-size="7.3" font-weight="bold" text-anchor="end" fill="#000" >0.5</text>
<line x1="569.50" y1="424.50" x2="569.50" y2="428.80" stroke="#111" stroke-width="1.1" />
<line x1="611.50" y1="424.50" x2="611.50" y2="428.80" stroke="#111" stroke-width="1.1" />
<line x1="561.50" y1="366.50" x2="561.50" y2="424.50" stroke="#1f9acb" stroke-width="1.2" />
<line x1="558.00" y1="366.50" x2="565.00" y2="366.50" stroke="#1f9acb" stroke-width="1.2" />
<line x1="558.00" y1="424.50" x2="565.00" y2="424.50" stroke="#1f9acb" stroke-width="1.2" />
<line x1="577.50" y1="326.50" x2="577.50" y2="396.50" stroke="#a3197e" stroke-width="1.2" />
<line x1="574.00" y1="326.50" x2="581.00" y2="326.50" stroke="#a3197e" stroke-width="1.2" />
<line x1="574.00" y1="396.50" x2="581.00" y2="396.50" stroke="#a3197e" stroke-width="1.2" />
<line x1="603.50" y1="370.50" x2="603.50" y2="424.50" stroke="#1f9acb" stroke-width="1.2" />
<line x1="600.00" y1="370.50" x2="607.00" y2="370.50" stroke="#1f9acb" stroke-width="1.2" />
<line x1="600.00" y1="424.50" x2="607.00" y2="424.50" stroke="#1f9acb" stroke-width="1.2" />
<line x1="619.50" y1="326.50" x2="619.50" y2="371.50" stroke="#a3197e" stroke-width="1.2" />
<line x1="616.00" y1="326.50" x2="623.00" y2="326.50" stroke="#a3197e" stroke-width="1.2" />
<line x1="616.00" y1="371.50" x2="623.00" y2="371.50" stroke="#a3197e" stroke-width="1.2" />
<circle cx="561.30" cy="355.80" r="2.2" fill="#1f9acb"/>
<circle cx="561.30" cy="368.50" r="2.2" fill="#1f9acb"/>
<circle cx="561.30" cy="379.50" r="2.2" fill="#1f9acb"/>
<circle cx="558.00" cy="403.20" r="2.2" fill="#1f9acb"/>
<circle cx="565.00" cy="401.20" r="2.2" fill="#1f9acb"/>
<circle cx="565.00" cy="405.80" r="2.2" fill="#1f9acb"/>
<circle cx="561.30" cy="420.20" r="2.2" fill="#1f9acb"/>
<circle cx="577.40" cy="316.40" r="2.2" fill="#a3197e"/>
<circle cx="577.40" cy="338.80" r="2.2" fill="#a3197e"/>
<circle cx="577.40" cy="343.60" r="2.2" fill="#a3197e"/>
<circle cx="577.40" cy="360.00" r="2.2" fill="#a3197e"/>
<circle cx="577.40" cy="377.30" r="2.2" fill="#a3197e"/>
<circle cx="577.40" cy="416.30" r="2.2" fill="#a3197e"/>
<circle cx="600.10" cy="366.80" r="2.2" fill="#1f9acb"/>
<circle cx="606.90" cy="368.10" r="2.2" fill="#1f9acb"/>
<circle cx="603.50" cy="377.80" r="2.2" fill="#1f9acb"/>
<circle cx="603.50" cy="396.40" r="2.2" fill="#1f9acb"/>
<circle cx="603.50" cy="404.00" r="2.2" fill="#1f9acb"/>
<circle cx="603.50" cy="409.20" r="2.2" fill="#1f9acb"/>
<circle cx="603.50" cy="413.40" r="2.2" fill="#1f9acb"/>
<circle cx="619.60" cy="326.60" r="2.2" fill="#a3197e"/>
<circle cx="619.60" cy="332.90" r="2.2" fill="#a3197e"/>
<circle cx="616.20" cy="340.20" r="2.2" fill="#a3197e"/>
<circle cx="622.60" cy="339.70" r="2.2" fill="#a3197e"/>
<circle cx="619.60" cy="354.90" r="2.2" fill="#a3197e"/>
<circle cx="619.60" cy="415.10" r="2.2" fill="#a3197e"/>
<path d="M561.50 310.00 V303.50 H577.50 V310.00" fill="none" stroke="#222" stroke-width="1"/>
<text x="568.80" y="300.20" font-size="8.3" text-anchor="middle" fill="#111" >0.0532</text>
<path d="M603.50 310.00 V303.50 H619.50 V310.00" fill="none" stroke="#222" stroke-width="1"/>
<text x="610.70" y="300.20" font-size="8.3" text-anchor="middle" fill="#111" >0.0169</text>
<text transform="translate(526.60,362.60) rotate(-90)" x="0" y="0" font-size="8.4" font-weight="bold" text-anchor="middle" dominant-baseline="central" textLength="127" lengthAdjust="spacingAndGlyphs">Fold change (logarithmic scale)</text>
<text x="568.70" y="437.00" font-size="7.4" font-weight="bold" text-anchor="middle" fill="#000" >Col3a1</text>
<text x="611.10" y="437.00" font-size="7.45" font-weight="bold" text-anchor="middle" fill="#000" >Mmp14</text>
<circle cx="648.70" cy="358.90" r="2.4" fill="#1f9acb"/>
<circle cx="648.70" cy="373.40" r="2.4" fill="#a3197e"/>
<text x="660.50" y="361.70" font-size="8.5" text-anchor="start" fill="#000" >WT</text>
<text x="660.40" y="377.00" font-size="8.5" text-anchor="start" fill="#000"><tspan>Atg7</tspan><tspan font-size="6.12" font-weight="normal" dy="-3.57">Ad</tspan></text>
<defs><filter id="b1" x="-50%" y="-50%" width="200%" height="200%"><feGaussianBlur stdDeviation="1.2"/></filter><filter id="b2" x="-50%" y="-50%" width="200%" height="200%"><feGaussianBlur stdDeviation="2.2"/></filter><filter id="b3" x="-50%" y="-50%" width="200%" height="200%"><feGaussianBlur stdDeviation="3.5"/></filter><filter id="b4" x="-50%" y="-50%" width="200%" height="200%"><feGaussianBlur stdDeviation="5"/></filter></defs>
<text transform="translate(-0.06,464.50) scale(0.977,1)" font-size="19.19" font-weight="bold" fill="#000" stroke="#000" stroke-width="0.5">I</text>
<text x="136.30" y="467.60" font-size="10.3" font-weight="bold" text-anchor="middle" fill="#111" textLength="175" lengthAdjust="spacingAndGlyphs" stroke="#111" stroke-width="0.3">Lipid-associated macrophages (LAM)</text>
<text x="85.40" y="485.50" font-size="10.2" font-weight="bold" text-anchor="middle" fill="#111" textLength="15.2" lengthAdjust="spacingAndGlyphs" stroke="#111" stroke-width="0.3">WT</text>
<text x="174.2" y="485.6" font-size="10.2" font-weight="bold" stroke="#111" stroke-width="0.3" fill="#111"><tspan textLength="22.2" lengthAdjust="spacingAndGlyphs">Atg7</tspan><tspan font-size="6.3" dy="-4">Ad</tspan></text>
<path d="M55 510 Q56 507 62 507 L90 507 Q97 508 97.5 515 L97.5 528 Q96 540 92 552 Q87 563 78 564.5 Q70 565 66 560 Q60 550 57.5 535 Q55 520 55 510 Z" fill="#e0e0e0" filter="url(#b1)"/>
<ellipse cx="77" cy="535" rx="14" ry="20" fill="#d2d2d2" filter="url(#b4)"/>
<ellipse cx="78" cy="542" rx="10" ry="14" fill="#c6c6c6" filter="url(#b3)"/>
<ellipse cx="72" cy="520" rx="9" ry="8" fill="#b8b8b8" filter="url(#b3)"/>
<ellipse cx="81" cy="518" rx="14" ry="11" fill="#9a9a9a" filter="url(#b3)"/>
<ellipse cx="82" cy="517.3" rx="10" ry="7.5" fill="#2a2a2a" filter="url(#b2)"/>
<ellipse cx="82" cy="517.3" rx="5.5" ry="4.2" fill="#000" filter="url(#b1)"/>
<rect x="51.7" y="546.0" width="0.8" height="0.8" fill="#444" opacity="0.6"/>
<rect x="97.9" y="520.9" width="0.8" height="0.8" fill="#444" opacity="0.6"/>
<rect x="50.4" y="534.3" width="0.8" height="0.8" fill="#444" opacity="0.6"/>
<rect x="86.0" y="566.6" width="0.8" height="0.8" fill="#444" opacity="0.6"/>
<rect x="57.4" y="509.6" width="0.8" height="0.8" fill="#444" opacity="0.6"/>
<rect x="95.5" y="553.4" width="0.8" height="0.8" fill="#444" opacity="0.6"/>
<rect x="99.0" y="555.7" width="0.8" height="0.8" fill="#444" opacity="0.6"/>
<rect x="68.5" y="509.2" width="0.8" height="0.8" fill="#444" opacity="0.6"/>
<rect x="104.4" y="531.8" width="0.8" height="0.8" fill="#444" opacity="0.6"/>
<rect x="61.3" y="507.6" width="0.8" height="0.8" fill="#444" opacity="0.6"/>
<rect x="87.7" y="559.7" width="0.8" height="0.8" fill="#444" opacity="0.6"/>
<rect x="54.8" y="530.9" width="0.8" height="0.8" fill="#444" opacity="0.6"/>
<rect x="84.4" y="564.5" width="0.8" height="0.8" fill="#444" opacity="0.6"/>
<rect x="100.2" y="542.2" width="0.8" height="0.8" fill="#444" opacity="0.6"/>
<rect x="50.3" y="549.4" width="0.8" height="0.8" fill="#444" opacity="0.6"/>
<rect x="50.2" y="531.8" width="0.8" height="0.8" fill="#444" opacity="0.6"/>
<rect x="49.8" y="536.0" width="0.8" height="0.8" fill="#444" opacity="0.6"/>
<rect x="53.6" y="544.2" width="0.8" height="0.8" fill="#444" opacity="0.6"/>
<rect x="104.8" y="535.4" width="0.8" height="0.8" fill="#444" opacity="0.6"/>
<rect x="90.3" y="506.1" width="0.8" height="0.8" fill="#444" opacity="0.6"/>
<rect x="66.9" y="564.0" width="0.8" height="0.8" fill="#444" opacity="0.6"/>
<rect x="70.7" y="564.0" width="0.8" height="0.8" fill="#444" opacity="0.6"/>
<rect x="78.5" y="503.9" width="0.8" height="0.8" fill="#444" opacity="0.6"/>
<rect x="89.7" y="509.6" width="0.8" height="0.8" fill="#444" opacity="0.6"/>
<rect x="102.7" y="526.4" width="0.8" height="0.8" fill="#444" opacity="0.6"/>
<rect x="98.7" y="536.1" width="0.8" height="0.8" fill="#444" opacity="0.6"/>
<rect x="96.9" y="518.4" width="0.8" height="0.8" fill="#444" opacity="0.6"/>
<rect x="100.0" y="532.0" width="0.8" height="0.8" fill="#444" opacity="0.6"/>
<rect x="99.3" y="551.3" width="0.8" height="0.8" fill="#444" opacity="0.6"/>
<rect x="80.1" y="505.6" width="0.8" height="0.8" fill="#444" opacity="0.6"/>
<rect x="96.2" y="552.4" width="0.8" height="0.8" fill="#444" opacity="0.6"/>
<rect x="102.3" y="528.0" width="0.8" height="0.8" fill="#444" opacity="0.6"/>
<rect x="93.0" y="556.7" width="0.8" height="0.8" fill="#444" opacity="0.6"/>
<rect x="93.4" y="553.1" width="0.8" height="0.8" fill="#444" opacity="0.6"/>
<rect x="82.5" y="507.3" width="0.8" height="0.8" fill="#444" opacity="0.6"/>
<rect x="53.1" y="524.1" width="0.8" height="0.8" fill="#444" opacity="0.6"/>
<rect x="85.7" y="569.2" width="0.8" height="0.8" fill="#444" opacity="0.6"/>
<rect x="93.7" y="561.5" width="0.8" height="0.8" fill="#444" opacity="0.6"/>
<rect x="94.1" y="557.7" width="0.8" height="0.8" fill="#444" opacity="0.6"/>
<rect x="81.4" y="566.1" width="0.8" height="0.8" fill="#444" opacity="0.6"/>
<rect x="102.8" y="529.4" width="0.8" height="0.8" fill="#444" opacity="0.6"/>
<rect x="66.7" y="571.1" width="0.8" height="0.8" fill="#444" opacity="0.6"/>
<rect x="81.9" y="567.2" width="0.8" height="0.8" fill="#444" opacity="0.6"/>
<rect x="91.9" y="508.5" width="0.8" height="0.8" fill="#444" opacity="0.6"/>
<rect x="99.2" y="558.6" width="0.8" height="0.8" fill="#444" opacity="0.6"/>
<rect x="81.3" y="566.0" width="0.8" height="0.8" fill="#444" opacity="0.6"/>
<rect x="79.4" y="504.8" width="0.8" height="0.8" fill="#444" opacity="0.6"/>
<rect x="69.8" y="563.7" width="0.8" height="0.8" fill="#444" opacity="0.6"/>
<rect x="97.6" y="554.3" width="0.8" height="0.8" fill="#444" opacity="0.6"/>
<rect x="77.1" y="570.3" width="0.8" height="0.8" fill="#444" opacity="0.6"/>
<rect x="59.0" y="559.7" width="0.8" height="0.8" fill="#444" opacity="0.6"/>
<rect x="100.0" y="527.6" width="0.8" height="0.8" fill="#444" opacity="0.6"/>
<rect x="51.2" y="519.3" width="0.8" height="0.8" fill="#444" opacity="0.6"/>
<rect x="85.1" y="563.1" width="0.8" height="0.8" fill="#444" opacity="0.6"/>
<rect x="99.0" y="516.1" width="0.8" height="0.8" fill="#444" opacity="0.6"/>
<rect x="76.1" y="566.1" width="0.8" height="0.8" fill="#444" opacity="0.6"/>
<rect x="74.1" y="498.3" width="0.8" height="0.8" fill="#444" opacity="0.6"/>
<rect x="85.4" y="571.8" width="0.8" height="0.8" fill="#444" opacity="0.6"/>
<rect x="95.0" y="512.8" width="0.8" height="0.8" fill="#444" opacity="0.6"/>
<rect x="56.7" y="549.8" width="0.8" height="0.8" fill="#444" opacity="0.6"/>
<rect x="103.7" y="545.2" width="0.8" height="0.8" fill="#444" opacity="0.6"/>
<rect x="77.9" y="571.3" width="0.8" height="0.8" fill="#444" opacity="0.6"/>
<rect x="74.8" y="572.6" width="0.8" height="0.8" fill="#444" opacity="0.6"/>
<rect x="56.8" y="518.2" width="0.8" height="0.8" fill="#444" opacity="0.6"/>
<rect x="88.0" y="567.7" width="0.8" height="0.8" fill="#444" opacity="0.6"/>
<rect x="96.8" y="548.8" width="0.8" height="0.8" fill="#444" opacity="0.6"/>
<rect x="50.2" y="522.6" width="0.8" height="0.8" fill="#444" opacity="0.6"/>
<rect x="58.5" y="515.6" width="0.8" height="0.8" fill="#444" opacity="0.6"/>
<rect x="95.7" y="521.0" width="0.8" height="0.8" fill="#444" opacity="0.6"/>
<rect x="99.1" y="539.2" width="0.8" height="0.8" fill="#444" opacity="0.6"/>
<rect x="55.7" y="545.6" width="0.8" height="0.8" fill="#444" opacity="0.6"/>
<rect x="86.7" y="564.6" width="0.8" height="0.8" fill="#444" opacity="0.6"/>
<rect x="56.1" y="523.1" width="0.8" height="0.8" fill="#444" opacity="0.6"/>
<rect x="57.9" y="564.4" width="0.8" height="0.8" fill="#444" opacity="0.6"/>
<rect x="102.0" y="531.7" width="0.8" height="0.8" fill="#444" opacity="0.6"/>
<rect x="66.8" y="504.2" width="0.8" height="0.8" fill="#444" opacity="0.6"/>
<rect x="89.6" y="558.0" width="0.8" height="0.8" fill="#444" opacity="0.6"/>
<rect x="103.9" y="540.2" width="0.8" height="0.8" fill="#444" opacity="0.6"/>
<rect x="67.4" y="499.8" width="0.8" height="0.8" fill="#444" opacity="0.6"/>
<rect x="101.8" y="540.6" width="0.8" height="0.8" fill="#444" opacity="0.6"/>
<rect x="49.4" y="540.0" width="0.8" height="0.8" fill="#444" opacity="0.6"/>
<rect x="63.9" y="570.9" width="0.8" height="0.8" fill="#444" opacity="0.6"/>
<rect x="98.5" y="551.4" width="0.8" height="0.8" fill="#444" opacity="0.6"/>
<rect x="73.7" y="498.7" width="0.8" height="0.8" fill="#444" opacity="0.6"/>
<rect x="73.9" y="500.8" width="0.8" height="0.8" fill="#444" opacity="0.6"/>
<rect x="83.6" y="499.8" width="0.8" height="0.8" fill="#444" opacity="0.6"/>
<rect x="60.2" y="564.2" width="0.8" height="0.8" fill="#444" opacity="0.6"/>
<rect x="98.6" y="514.4" width="0.8" height="0.8" fill="#444" opacity="0.6"/>
<rect x="52.4" y="554.0" width="0.8" height="0.8" fill="#444" opacity="0.6"/>
<rect x="92.7" y="510.3" width="0.8" height="0.8" fill="#444" opacity="0.6"/>
<rect x="59.0" y="513.3" width="0.8" height="0.8" fill="#444" opacity="0.6"/>
<rect x="53.6" y="518.9" width="0.8" height="0.8" fill="#444" opacity="0.6"/>
<rect x="98.8" y="552.8" width="0.8" height="0.8" fill="#444" opacity="0.6"/>
<rect x="103.9" y="534.4" width="0.8" height="0.8" fill="#444" opacity="0.6"/>
<rect x="72.7" y="504.2" width="0.8" height="0.8" fill="#444" opacity="0.6"/>
<rect x="73.6" y="502.0" width="0.8" height="0.8" fill="#444" opacity="0.6"/>
<rect x="50.3" y="549.4" width="0.8" height="0.8" fill="#444" opacity="0.6"/>
<rect x="99.2" y="554.0" width="0.8" height="0.8" fill="#444" opacity="0.6"/>
<rect x="101.3" y="542.4" width="0.8" height="0.8" fill="#444" opacity="0.6"/>
<rect x="53.3" y="539.6" width="0.8" height="0.8" fill="#444" opacity="0.6"/>
<rect x="68.0" y="504.5" width="0.8" height="0.8" fill="#444" opacity="0.6"/>
<rect x="54.8" y="511.2" width="0.8" height="0.8" fill="#444" opacity="0.6"/>
<rect x="75.2" y="564.3" width="0.8" height="0.8" fill="#444" opacity="0.6"/>
<rect x="67.7" y="569.3" width="0.8" height="0.8" fill="#444" opacity="0.6"/>
<rect x="82.6" y="564.6" width="0.8" height="0.8" fill="#444" opacity="0.6"/>
<rect x="97.7" y="516.5" width="0.8" height="0.8" fill="#444" opacity="0.6"/>
<rect x="49.9" y="549.3" width="0.8" height="0.8" fill="#444" opacity="0.6"/>
<rect x="63.8" y="567.0" width="0.8" height="0.8" fill="#444" opacity="0.6"/>
<rect x="83.8" y="566.9" width="0.8" height="0.8" fill="#444" opacity="0.6"/>
<rect x="85.7" y="500.8" width="0.8" height="0.8" fill="#444" opacity="0.6"/>
<rect x="93.6" y="514.1" width="0.8" height="0.8" fill="#444" opacity="0.6"/>
<rect x="55.6" y="520.3" width="0.8" height="0.8" fill="#444" opacity="0.6"/>
<rect x="92.3" y="561.1" width="0.8" height="0.8" fill="#444" opacity="0.6"/>
<rect x="90.4" y="504.5" width="0.8" height="0.8" fill="#444" opacity="0.6"/>
<rect x="69.1" y="499.2" width="0.8" height="0.8" fill="#444" opacity="0.6"/>
<rect x="72.2" y="565.5" width="0.8" height="0.8" fill="#444" opacity="0.6"/>
<rect x="53.9" y="545.5" width="0.8" height="0.8" fill="#444" opacity="0.6"/>
<rect x="81.4" y="567.6" width="0.8" height="0.8" fill="#444" opacity="0.6"/>
<rect x="58.5" y="512.4" width="0.8" height="0.8" fill="#444" opacity="0.6"/>
<rect x="65.0" y="569.7" width="0.8" height="0.8" fill="#444" opacity="0.6"/>
<rect x="100.4" y="532.3" width="0.8" height="0.8" fill="#444" opacity="0.6"/>
<rect x="95.1" y="548.9" width="0.8" height="0.8" fill="#444" opacity="0.6"/>
<rect x="91.0" y="515.5" width="0.8" height="0.8" fill="#444" opacity="0.6"/>
<rect x="69.4" y="503.1" width="0.8" height="0.8" fill="#444" opacity="0.6"/>
<rect x="66.1" y="569.8" width="0.8" height="0.8" fill="#444" opacity="0.6"/>
<rect x="98.0" y="539.5" width="0.8" height="0.8" fill="#444" opacity="0.6"/>
<rect x="55.5" y="544.0" width="0.8" height="0.8" fill="#444" opacity="0.6"/>
<rect x="87.0" y="509.2" width="0.8" height="0.8" fill="#444" opacity="0.6"/>
<rect x="89.6" y="558.2" width="0.8" height="0.8" fill="#444" opacity="0.6"/>
<rect x="59.1" y="512.3" width="0.8" height="0.8" fill="#444" opacity="0.6"/>
<rect x="58.1" y="510.6" width="0.8" height="0.8" fill="#444" opacity="0.6"/>
<rect x="86.0" y="500.5" width="0.8" height="0.8" fill="#444" opacity="0.6"/>
<rect x="66.9" y="508.3" width="0.8" height="0.8" fill="#444" opacity="0.6"/>
<rect x="53.8" y="540.7" width="0.8" height="0.8" fill="#444" opacity="0.6"/>
<rect x="100.7" y="538.2" width="0.8" height="0.8" fill="#444" opacity="0.6"/>
<rect x="71.0" y="506.8" width="0.8" height="0.8" fill="#444" opacity="0.6"/>
<rect x="72.7" y="567.4" width="0.8" height="0.8" fill="#444" opacity="0.6"/>
<rect x="67.8" y="504.3" width="0.8" height="0.8" fill="#444" opacity="0.6"/>
<rect x="55.7" y="512.4" width="0.8" height="0.8" fill="#444" opacity="0.6"/>
<rect x="54.7" y="558.5" width="0.8" height="0.8" fill="#444" opacity="0.6"/>
<rect x="94.1" y="519.9" width="0.8" height="0.8" fill="#444" opacity="0.6"/>
<rect x="100.3" y="521.4" width="0.8" height="0.8" fill="#444" opacity="0.6"/>
<rect x="92.9" y="559.9" width="0.8" height="0.8" fill="#444" opacity="0.6"/>
<rect x="56.2" y="509.4" width="0.8" height="0.8" fill="#444" opacity="0.6"/>
<rect x="57.8" y="559.8" width="0.8" height="0.8" fill="#444" opacity="0.6"/>
<rect x="95.8" y="511.0" width="0.8" height="0.8" fill="#444" opacity="0.6"/>
<rect x="99.2" y="524.7" width="0.8" height="0.8" fill="#444" opacity="0.6"/>
<rect x="62.8" y="511.4" width="0.8" height="0.8" fill="#444" opacity="0.6"/>
<rect x="71.2" y="500.0" width="0.8" height="0.8" fill="#444" opacity="0.6"/>
<rect x="59.2" y="508.4" width="0.8" height="0.8" fill="#444" opacity="0.6"/>
<rect x="82.4" y="572.4" width="0.8" height="0.8" fill="#444" opacity="0.6"/>
<rect x="104.4" y="531.3" width="0.8" height="0.8" fill="#444" opacity="0.6"/>
<rect x="49.5" y="527.7" width="0.8" height="0.8" fill="#444" opacity="0.6"/>
<rect x="64.0" y="569.9" width="0.8" height="0.8" fill="#444" opacity="0.6"/>
<rect x="90.7" y="511.0" width="0.8" height="0.8" fill="#444" opacity="0.6"/>
<rect x="97.3" y="552.2" width="0.8" height="0.8" fill="#444" opacity="0.6"/>
<rect x="50.3" y="524.8" width="0.8" height="0.8" fill="#444" opacity="0.6"/>
<rect x="54.7" y="538.2" width="0.8" height="0.8" fill="#444" opacity="0.6"/>
<rect x="83.8" y="509.2" width="0.8" height="0.8" fill="#444" opacity="0.6"/>
<rect x="82.9" y="507.5" width="0.8" height="0.8" fill="#444" opacity="0.6"/>
<rect x="62.2" y="567.2" width="0.8" height="0.8" fill="#444" opacity="0.6"/>
<rect x="90.1" y="558.9" width="0.8" height="0.8" fill="#444" opacity="0.6"/>
<rect x="49.5" y="532.3" width="0.8" height="0.8" fill="#444" opacity="0.6"/>
<rect x="90.2" y="506.3" width="0.8" height="0.8" fill="#444" opacity="0.6"/>
<rect x="99.5" y="524.9" width="0.8" height="0.8" fill="#444" opacity="0.6"/>
<rect x="96.7" y="526.9" width="0.8" height="0.8" fill="#444" opacity="0.6"/>
<rect x="80.5" y="569.0" width="0.8" height="0.8" fill="#444" opacity="0.6"/>
<rect x="69.3" y="570.5" width="0.8" height="0.8" fill="#444" opacity="0.6"/>
<rect x="59.8" y="510.3" width="0.8" height="0.8" fill="#444" opacity="0.6"/>
<rect x="90.1" y="507.8" width="0.8" height="0.8" fill="#444" opacity="0.6"/>
<rect x="36.40" y="490.30" width="96.70" height="96.70" fill="none" stroke="#666" stroke-width="0.9"/>
<line x1="35.00" y1="493.30" x2="36.40" y2="493.30" stroke="#888" stroke-width="0.5" />
<line x1="35.00" y1="495.60" x2="36.40" y2="495.60" stroke="#888" stroke-width="0.5" />
<line x1="35.00" y1="497.90" x2="36.40" y2="497.90" stroke="#888" stroke-width="0.5" />
<line x1="35.00" y1="500.20" x2="36.40" y2="500.20" stroke="#888" stroke-width="0.5" />
<line x1="35.00" y1="502.50" x2="36.40" y2="502.50" stroke="#888" stroke-width="0.5" />
<line x1="35.00" y1="504.80" x2="36.40" y2="504.80" stroke="#888" stroke-width="0.5" />
<line x1="35.00" y1="507.10" x2="36.40" y2="507.10" stroke="#888" stroke-width="0.5" />
<line x1="35.00" y1="509.40" x2="36.40" y2="509.40" stroke="#888" stroke-width="0.5" />
<line x1="35.00" y1="511.70" x2="36.40" y2="511.70" stroke="#888" stroke-width="0.5" />
<line x1="35.00" y1="514.00" x2="36.40" y2="514.00" stroke="#888" stroke-width="0.5" />
<line x1="35.00" y1="516.30" x2="36.40" y2="516.30" stroke="#888" stroke-width="0.5" />
<line x1="35.00" y1="518.60" x2="36.40" y2="518.60" stroke="#888" stroke-width="0.5" />
<line x1="35.00" y1="520.90" x2="36.40" y2="520.90" stroke="#888" stroke-width="0.5" />
<line x1="35.00" y1="523.20" x2="36.40" y2="523.20" stroke="#888" stroke-width="0.5" />
<line x1="35.00" y1="525.50" x2="36.40" y2="525.50" stroke="#888" stroke-width="0.5" />
<line x1="35.00" y1="527.80" x2="36.40" y2="527.80" stroke="#888" stroke-width="0.5" />
<line x1="35.00" y1="530.10" x2="36.40" y2="530.10" stroke="#888" stroke-width="0.5" />
<line x1="35.00" y1="532.40" x2="36.40" y2="532.40" stroke="#888" stroke-width="0.5" />
<line x1="35.00" y1="534.70" x2="36.40" y2="534.70" stroke="#888" stroke-width="0.5" />
<line x1="35.00" y1="537.00" x2="36.40" y2="537.00" stroke="#888" stroke-width="0.5" />
<line x1="35.00" y1="539.30" x2="36.40" y2="539.30" stroke="#888" stroke-width="0.5" />
<line x1="35.00" y1="541.60" x2="36.40" y2="541.60" stroke="#888" stroke-width="0.5" />
<line x1="35.00" y1="543.90" x2="36.40" y2="543.90" stroke="#888" stroke-width="0.5" />
<line x1="35.00" y1="546.20" x2="36.40" y2="546.20" stroke="#888" stroke-width="0.5" />
<line x1="35.00" y1="548.50" x2="36.40" y2="548.50" stroke="#888" stroke-width="0.5" />
<line x1="35.00" y1="550.80" x2="36.40" y2="550.80" stroke="#888" stroke-width="0.5" />
<line x1="35.00" y1="553.10" x2="36.40" y2="553.10" stroke="#888" stroke-width="0.5" />
<line x1="35.00" y1="555.40" x2="36.40" y2="555.40" stroke="#888" stroke-width="0.5" />
<line x1="35.00" y1="557.70" x2="36.40" y2="557.70" stroke="#888" stroke-width="0.5" />
<line x1="35.00" y1="560.00" x2="36.40" y2="560.00" stroke="#888" stroke-width="0.5" />
<line x1="35.00" y1="562.30" x2="36.40" y2="562.30" stroke="#888" stroke-width="0.5" />
<line x1="35.00" y1="564.60" x2="36.40" y2="564.60" stroke="#888" stroke-width="0.5" />
<line x1="35.00" y1="566.90" x2="36.40" y2="566.90" stroke="#888" stroke-width="0.5" />
<line x1="35.00" y1="569.20" x2="36.40" y2="569.20" stroke="#888" stroke-width="0.5" />
<line x1="35.00" y1="571.50" x2="36.40" y2="571.50" stroke="#888" stroke-width="0.5" />
<line x1="35.00" y1="573.80" x2="36.40" y2="573.80" stroke="#888" stroke-width="0.5" />
<line x1="35.00" y1="576.10" x2="36.40" y2="576.10" stroke="#888" stroke-width="0.5" />
<line x1="35.00" y1="578.40" x2="36.40" y2="578.40" stroke="#888" stroke-width="0.5" />
<line x1="35.00" y1="580.70" x2="36.40" y2="580.70" stroke="#888" stroke-width="0.5" />
<line x1="35.00" y1="583.00" x2="36.40" y2="583.00" stroke="#888" stroke-width="0.5" />
<line x1="35.00" y1="585.30" x2="36.40" y2="585.30" stroke="#888" stroke-width="0.5" />
<line x1="39.40" y1="587.00" x2="39.40" y2="588.40" stroke="#888" stroke-width="0.5" />
<line x1="41.70" y1="587.00" x2="41.70" y2="588.40" stroke="#888" stroke-width="0.5" />
<line x1="44.00" y1="587.00" x2="44.00" y2="588.40" stroke="#888" stroke-width="0.5" />
<line x1="46.30" y1="587.00" x2="46.30" y2="588.40" stroke="#888" stroke-width="0.5" />
<line x1="48.60" y1="587.00" x2="48.60" y2="588.40" stroke="#888" stroke-width="0.5" />
<line x1="50.90" y1="587.00" x2="50.90" y2="588.40" stroke="#888" stroke-width="0.5" />
<line x1="53.20" y1="587.00" x2="53.20" y2="588.40" stroke="#888" stroke-width="0.5" />
<line x1="55.50" y1="587.00" x2="55.50" y2="588.40" stroke="#888" stroke-width="0.5" />
<line x1="57.80" y1="587.00" x2="57.80" y2="588.40" stroke="#888" stroke-width="0.5" />
<line x1="60.10" y1="587.00" x2="60.10" y2="588.40" stroke="#888" stroke-width="0.5" />
<line x1="62.40" y1="587.00" x2="62.40" y2="588.40" stroke="#888" stroke-width="0.5" />
<line x1="64.70" y1="587.00" x2="64.70" y2="588.40" stroke="#888" stroke-width="0.5" />
<line x1="67.00" y1="587.00" x2="67.00" y2="588.40" stroke="#888" stroke-width="0.5" />
<line x1="69.30" y1="587.00" x2="69.30" y2="588.40" stroke="#888" stroke-width="0.5" />
<line x1="71.60" y1="587.00" x2="71.60" y2="588.40" stroke="#888" stroke-width="0.5" />
<line x1="73.90" y1="587.00" x2="73.90" y2="588.40" stroke="#888" stroke-width="0.5" />
<line x1="76.20" y1="587.00" x2="76.20" y2="588.40" stroke="#888" stroke-width="0.5" />
<line x1="78.50" y1="587.00" x2="78.50" y2="588.40" stroke="#888" stroke-width="0.5" />
<line x1="80.80" y1="587.00" x2="80.80" y2="588.40" stroke="#888" stroke-width="0.5" />
<line x1="83.10" y1="587.00" x2="83.10" y2="588.40" stroke="#888" stroke-width="0.5" />
<line x1="85.40" y1="587.00" x2="85.40" y2="588.40" stroke="#888" stroke-width="0.5" />
<line x1="87.70" y1="587.00" x2="87.70" y2="588.40" stroke="#888" stroke-width="0.5" />
<line x1="90.00" y1="587.00" x2="90.00" y2="588.40" stroke="#888" stroke-width="0.5" />
<line x1="92.30" y1="587.00" x2="92.30" y2="588.40" stroke="#888" stroke-width="0.5" />
<line x1="94.60" y1="587.00" x2="94.60" y2="588.40" stroke="#888" stroke-width="0.5" />
<line x1="96.90" y1="587.00" x2="96.90" y2="588.40" stroke="#888" stroke-width="0.5" />
<line x1="99.20" y1="587.00" x2="99.20" y2="588.40" stroke="#888" stroke-width="0.5" />
<line x1="101.50" y1="587.00" x2="101.50" y2="588.40" stroke="#888" stroke-width="0.5" />
<line x1="103.80" y1="587.00" x2="103.80" y2="588.40" stroke="#888" stroke-width="0.5" />
<line x1="106.10" y1="587.00" x2="106.10" y2="588.40" stroke="#888" stroke-width="0.5" />
<line x1="108.40" y1="587.00" x2="108.40" y2="588.40" stroke="#888" stroke-width="0.5" />
<line x1="110.70" y1="587.00" x2="110.70" y2="588.40" stroke="#888" stroke-width="0.5" />
<line x1="113.00" y1="587.00" x2="113.00" y2="588.40" stroke="#888" stroke-width="0.5" />
<line x1="115.30" y1="587.00" x2="115.30" y2="588.40" stroke="#888" stroke-width="0.5" />
<line x1="117.60" y1="587.00" x2="117.60" y2="588.40" stroke="#888" stroke-width="0.5" />
<line x1="119.90" y1="587.00" x2="119.90" y2="588.40" stroke="#888" stroke-width="0.5" />
<line x1="122.20" y1="587.00" x2="122.20" y2="588.40" stroke="#888" stroke-width="0.5" />
<line x1="124.50" y1="587.00" x2="124.50" y2="588.40" stroke="#888" stroke-width="0.5" />
<line x1="126.80" y1="587.00" x2="126.80" y2="588.40" stroke="#888" stroke-width="0.5" />
<line x1="129.10" y1="587.00" x2="129.10" y2="588.40" stroke="#888" stroke-width="0.5" />
<line x1="131.40" y1="587.00" x2="131.40" y2="588.40" stroke="#888" stroke-width="0.5" />
<path d="M69.3 510.5 L83.0 499.3 L98.7 500.6 L98.7 518.5 L89.7 529.0 L73.0 526.9 Z" fill="none" stroke="#333" stroke-width="0.9"/>
<rect x="34.4" y="563.2" width="2.2" height="3.2" fill="#111"/>
<rect x="56.6" y="587.2" width="3.2" height="1.8" fill="#111"/>
<text x="34.0" y="500.7" font-size="4.2" fill="#333" text-anchor="end">10⁵</text>
<text x="34.0" y="523.9" font-size="4.2" fill="#333" text-anchor="end">10⁴</text>
<text x="34.0" y="550.4" font-size="4.2" fill="#333" text-anchor="end">10³</text>
<text x="34.0" y="565.7" font-size="4.2" fill="#333" text-anchor="end">0</text>
<text x="34.0" y="581.7" font-size="4.2" fill="#333" text-anchor="end">-10³</text>
<text x="45.3" y="595.2" font-size="4.2" fill="#333" text-anchor="middle">-10²</text>
<text x="59.7" y="595.2" font-size="4.2" fill="#333" text-anchor="middle">0</text>
<text x="76.6" y="595.2" font-size="4.2" fill="#333" text-anchor="middle">10³</text>
<text x="103.0" y="595.2" font-size="4.2" fill="#333" text-anchor="middle">10⁴</text>
<text x="126.4" y="595.2" font-size="4.2" fill="#333" text-anchor="middle">10⁵</text>
<path d="M170 515 Q176 505 188 505 Q201 507 204 516 Q206 532 201 552 Q196 572 184 576 Q170 576 165 564 Q161 548 164 532 Q166 522 170 515 Z" fill="#dcdcdc" filter="url(#b1)"/>
<ellipse cx="185" cy="542" rx="13" ry="26" fill="#bdbdbd" filter="url(#b4)" transform="rotate(14 185 542)"/>
<path d="M186 510 L198 510 L195 535 L189 560 L178 560 L182 535 Z" fill="#555" filter="url(#b3)"/>
<path d="M188 512 L196 512 L193 532 L188 550 L182 550 L185 532 Z" fill="#2a2a2a" filter="url(#b2)"/>
<ellipse cx="192.5" cy="517" rx="5" ry="9" fill="#000" filter="url(#b2)"/>
<rect x="181.1" y="572.8" width="0.8" height="0.8" fill="#444" opacity="0.6"/>
<rect x="191.0" y="508.5" width="0.8" height="0.8" fill="#444" opacity="0.6"/>
<rect x="198.2" y="578.5" width="0.8" height="0.8" fill="#444" opacity="0.6"/>
<rect x="205.5" y="534.0" width="0.8" height="0.8" fill="#444" opacity="0.6"/>
<rect x="159.7" y="526.5" width="0.8" height="0.8" fill="#444" opacity="0.6"/>
<rect x="157.5" y="533.0" width="0.8" height="0.8" fill="#444" opacity="0.6"/>
<rect x="162.0" y="521.9" width="0.8" height="0.8" fill="#444" opacity="0.6"/>
<rect x="205.5" y="534.2" width="0.8" height="0.8" fill="#444" opacity="0.6"/>
<rect x="166.6" y="563.4" width="0.8" height="0.8" fill="#444" opacity="0.6"/>
<rect x="157.6" y="527.4" width="0.8" height="0.8" fill="#444" opacity="0.6"/>
<rect x="168.7" y="511.7" width="0.8" height="0.8" fill="#444" opacity="0.6"/>
<rect x="158.1" y="532.6" width="0.8" height="0.8" fill="#444" opacity="0.6"/>
<rect x="206.8" y="530.4" width="0.8" height="0.8" fill="#444" opacity="0.6"/>
<rect x="187.8" y="576.0" width="0.8" height="0.8" fill="#444" opacity="0.6"/>
<rect x="205.2" y="566.0" width="0.8" height="0.8" fill="#444" opacity="0.6"/>
<rect x="185.9" y="505.0" width="0.8" height="0.8" fill="#444" opacity="0.6"/>
<rect x="161.2" y="546.0" width="0.8" height="0.8" fill="#444" opacity="0.6"/>
<rect x="199.6" y="575.2" width="0.8" height="0.8" fill="#444" opacity="0.6"/>
<rect x="199.4" y="526.5" width="0.8" height="0.8" fill="#444" opacity="0.6"/>
<rect x="180.2" y="510.5" width="0.8" height="0.8" fill="#444" opacity="0.6"/>
<rect x="197.6" y="571.9" width="0.8" height="0.8" fill="#444" opacity="0.6"/>
<rect x="167.2" y="509.8" width="0.8" height="0.8" fill="#444" opacity="0.6"/>
<rect x="173.9" y="569.9" width="0.8" height="0.8" fill="#444" opacity="0.6"/>
<rect x="208.5" y="564.1" width="0.8" height="0.8" fill="#444" opacity="0.6"/>
<rect x="206.0" y="565.8" width="0.8" height="0.8" fill="#444" opacity="0.6"/>
<rect x="190.1" y="573.7" width="0.8" height="0.8" fill="#444" opacity="0.6"/>
<rect x="158.0" y="534.4" width="0.8" height="0.8" fill="#444" opacity="0.6"/>
<rect x="171.5" y="565.4" width="0.8" height="0.8" fill="#444" opacity="0.6"/>
<rect x="159.9" y="535.1" width="0.8" height="0.8" fill="#444" opacity="0.6"/>
<rect x="197.9" y="576.3" width="0.8" height="0.8" fill="#444" opacity="0.6"/>
<rect x="161.1" y="513.6" width="0.8" height="0.8" fill="#444" opacity="0.6"/>
<rect x="191.4" y="511.6" width="0.8" height="0.8" fill="#444" opacity="0.6"/>
<rect x="191.4" y="515.2" width="0.8" height="0.8" fill="#444" opacity="0.6"/>
<rect x="173.0" y="502.6" width="0.8" height="0.8" fill="#444" opacity="0.6"/>
<rect x="197.7" y="521.6" width="0.8" height="0.8" fill="#444" opacity="0.6"/>
<rect x="180.2" y="577.3" width="0.8" height="0.8" fill="#444" opacity="0.6"/>
<rect x="197.2" y="580.4" width="0.8" height="0.8" fill="#444" opacity="0.6"/>
<rect x="195.1" y="520.2" width="0.8" height="0.8" fill="#444" opacity="0.6"/>
<rect x="193.0" y="578.6" width="0.8" height="0.8" fill="#444" opacity="0.6"/>
<rect x="188.7" y="572.7" width="0.8" height="0.8" fill="#444" opacity="0.6"/>
<rect x="188.1" y="510.7" width="0.8" height="0.8" fill="#444" opacity="0.6"/>
<rect x="181.6" y="510.0" width="0.8" height="0.8" fill="#444" opacity="0.6"/>
<rect x="166.8" y="562.4" width="0.8" height="0.8" fill="#444" opacity="0.6"/>
<rect x="206.1" y="544.6" width="0.8" height="0.8" fill="#444" opacity="0.6"/>
<rect x="164.0" y="505.1" width="0.8" height="0.8" fill="#444" opacity="0.6"/>
<rect x="203.1" y="534.7" width="0.8" height="0.8" fill="#444" opacity="0.6"/>
<rect x="156.7" y="539.6" width="0.8" height="0.8" fill="#444" opacity="0.6"/>
<rect x="157.3" y="540.3" width="0.8" height="0.8" fill="#444" opacity="0.6"/>
<rect x="197.5" y="570.2" width="0.8" height="0.8" fill="#444" opacity="0.6"/>
<rect x="204.0" y="560.3" width="0.8" height="0.8" fill="#444" opacity="0.6"/>
<rect x="157.3" y="529.6" width="0.8" height="0.8" fill="#444" opacity="0.6"/>
<rect x="160.0" y="527.5" width="0.8" height="0.8" fill="#444" opacity="0.6"/>
<rect x="198.6" y="571.0" width="0.8" height="0.8" fill="#444" opacity="0.6"/>
<rect x="190.3" y="507.1" width="0.8" height="0.8" fill="#444" opacity="0.6"/>
<rect x="199.4" y="526.9" width="0.8" height="0.8" fill="#444" opacity="0.6"/>
<rect x="211.6" y="556.1" width="0.8" height="0.8" fill="#444" opacity="0.6"/>
<rect x="159.6" y="550.0" width="0.8" height="0.8" fill="#444" opacity="0.6"/>
<rect x="178.7" y="572.2" width="0.8" height="0.8" fill="#444" opacity="0.6"/>
<rect x="158.5" y="537.7" width="0.8" height="0.8" fill="#444" opacity="0.6"/>
<rect x="161.9" y="522.7" width="0.8" height="0.8" fill="#444" opacity="0.6"/>
<rect x="166.8" y="504.0" width="0.8" height="0.8" fill="#444" opacity="0.6"/>
<rect x="200.1" y="572.9" width="0.8" height="0.8" fill="#444" opacity="0.6"/>
<rect x="173.8" y="506.4" width="0.8" height="0.8" fill="#444" opacity="0.6"/>
<rect x="197.2" y="571.5" width="0.8" height="0.8" fill="#444" opacity="0.6"/>
<rect x="161.3" y="538.6" width="0.8" height="0.8" fill="#444" opacity="0.6"/>
<rect x="198.4" y="517.1" width="0.8" height="0.8" fill="#444" opacity="0.6"/>
<rect x="167.3" y="503.6" width="0.8" height="0.8" fill="#444" opacity="0.6"/>
<rect x="161.1" y="515.9" width="0.8" height="0.8" fill="#444" opacity="0.6"/>
<rect x="158.7" y="520.2" width="0.8" height="0.8" fill="#444" opacity="0.6"/>
<rect x="208.3" y="536.8" width="0.8" height="0.8" fill="#444" opacity="0.6"/>
<rect x="190.3" y="580.4" width="0.8" height="0.8" fill="#444" opacity="0.6"/>
<rect x="173.7" y="502.9" width="0.8" height="0.8" fill="#444" opacity="0.6"/>
<rect x="185.4" y="509.2" width="0.8" height="0.8" fill="#444" opacity="0.6"/>
<rect x="199.1" y="517.3" width="0.8" height="0.8" fill="#444" opacity="0.6"/>
<rect x="166.3" y="505.2" width="0.8" height="0.8" fill="#444" opacity="0.6"/>
<rect x="177.7" y="506.5" width="0.8" height="0.8" fill="#444" opacity="0.6"/>
<rect x="172.5" y="510.0" width="0.8" height="0.8" fill="#444" opacity="0.6"/>
<rect x="176.3" y="570.5" width="0.8" height="0.8" fill="#444" opacity="0.6"/>
<rect x="206.9" y="543.3" width="0.8" height="0.8" fill="#444" opacity="0.6"/>
<rect x="160.6" y="512.9" width="0.8" height="0.8" fill="#444" opacity="0.6"/>
<rect x="194.7" y="580.5" width="0.8" height="0.8" fill="#444" opacity="0.6"/>
<rect x="164.8" y="511.6" width="0.8" height="0.8" fill="#444" opacity="0.6"/>
<rect x="163.0" y="510.5" width="0.8" height="0.8" fill="#444" opacity="0.6"/>
<rect x="158.3" y="533.9" width="0.8" height="0.8" fill="#444" opacity="0.6"/>
<rect x="208.3" y="541.0" width="0.8" height="0.8" fill="#444" opacity="0.6"/>
<rect x="167.2" y="504.8" width="0.8" height="0.8" fill="#444" opacity="0.6"/>
<rect x="203.3" y="537.1" width="0.8" height="0.8" fill="#444" opacity="0.6"/>
<rect x="158.1" y="515.9" width="0.8" height="0.8" fill="#444" opacity="0.6"/>
<rect x="189.6" y="575.6" width="0.8" height="0.8" fill="#444" opacity="0.6"/>
<rect x="206.5" y="551.2" width="0.8" height="0.8" fill="#444" opacity="0.6"/>
<rect x="172.5" y="563.3" width="0.8" height="0.8" fill="#444" opacity="0.6"/>
<rect x="191.5" y="580.4" width="0.8" height="0.8" fill="#444" opacity="0.6"/>
<rect x="157.4" y="530.0" width="0.8" height="0.8" fill="#444" opacity="0.6"/>
<rect x="205.6" y="533.6" width="0.8" height="0.8" fill="#444" opacity="0.6"/>
<rect x="208.0" y="539.9" width="0.8" height="0.8" fill="#444" opacity="0.6"/>
<rect x="184.4" y="511.7" width="0.8" height="0.8" fill="#444" opacity="0.6"/>
<rect x="156.9" y="519.2" width="0.8" height="0.8" fill="#444" opacity="0.6"/>
<rect x="211.5" y="552.1" width="0.8" height="0.8" fill="#444" opacity="0.6"/>
<rect x="202.5" y="570.8" width="0.8" height="0.8" fill="#444" opacity="0.6"/>
<rect x="201.7" y="572.0" width="0.8" height="0.8" fill="#444" opacity="0.6"/>
<rect x="162.1" y="520.8" width="0.8" height="0.8" fill="#444" opacity="0.6"/>
<rect x="202.9" y="529.3" width="0.8" height="0.8" fill="#444" opacity="0.6"/>
<rect x="157.0" y="534.9" width="0.8" height="0.8" fill="#444" opacity="0.6"/>
<rect x="173.3" y="566.0" width="0.8" height="0.8" fill="#444" opacity="0.6"/>
<rect x="162.5" y="511.1" width="0.8" height="0.8" fill="#444" opacity="0.6"/>
<rect x="185.7" y="577.7" width="0.8" height="0.8" fill="#444" opacity="0.6"/>
<rect x="183.5" y="570.6" width="0.8" height="0.8" fill="#444" opacity="0.6"/>
<rect x="190.5" y="572.2" width="0.8" height="0.8" fill="#444" opacity="0.6"/>
<rect x="204.4" y="572.6" width="0.8" height="0.8" fill="#444" opacity="0.6"/>
<rect x="167.8" y="566.0" width="0.8" height="0.8" fill="#444" opacity="0.6"/>
<rect x="175.9" y="509.7" width="0.8" height="0.8" fill="#444" opacity="0.6"/>
<rect x="209.6" y="538.2" width="0.8" height="0.8" fill="#444" opacity="0.6"/>
<rect x="211.0" y="558.5" width="0.8" height="0.8" fill="#444" opacity="0.6"/>
<rect x="164.5" y="556.1" width="0.8" height="0.8" fill="#444" opacity="0.6"/>
<rect x="204.2" y="535.4" width="0.8" height="0.8" fill="#444" opacity="0.6"/>
<rect x="154.8" y="535.2" width="0.8" height="0.8" fill="#444" opacity="0.6"/>
<rect x="171.2" y="506.3" width="0.8" height="0.8" fill="#444" opacity="0.6"/>
<rect x="208.1" y="535.9" width="0.8" height="0.8" fill="#444" opacity="0.6"/>
<rect x="161.4" y="521.7" width="0.8" height="0.8" fill="#444" opacity="0.6"/>
<rect x="160.5" y="516.3" width="0.8" height="0.8" fill="#444" opacity="0.6"/>
<rect x="195.8" y="571.0" width="0.8" height="0.8" fill="#444" opacity="0.6"/>
<rect x="160.2" y="535.4" width="0.8" height="0.8" fill="#444" opacity="0.6"/>
<rect x="162.0" y="554.0" width="0.8" height="0.8" fill="#444" opacity="0.6"/>
<rect x="163.1" y="550.2" width="0.8" height="0.8" fill="#444" opacity="0.6"/>
<rect x="158.5" y="523.8" width="0.8" height="0.8" fill="#444" opacity="0.6"/>
<rect x="179.5" y="505.7" width="0.8" height="0.8" fill="#444" opacity="0.6"/>
<rect x="210.2" y="540.4" width="0.8" height="0.8" fill="#444" opacity="0.6"/>
<rect x="173.5" y="508.1" width="0.8" height="0.8" fill="#444" opacity="0.6"/>
<rect x="209.0" y="566.7" width="0.8" height="0.8" fill="#444" opacity="0.6"/>
<rect x="180.5" y="505.1" width="0.8" height="0.8" fill="#444" opacity="0.6"/>
<rect x="174.2" y="566.8" width="0.8" height="0.8" fill="#444" opacity="0.6"/>
<rect x="165.9" y="507.8" width="0.8" height="0.8" fill="#444" opacity="0.6"/>
<rect x="157.4" y="521.0" width="0.8" height="0.8" fill="#444" opacity="0.6"/>
<rect x="176.3" y="508.4" width="0.8" height="0.8" fill="#444" opacity="0.6"/>
<rect x="192.0" y="581.1" width="0.8" height="0.8" fill="#444" opacity="0.6"/>
<rect x="201.8" y="521.2" width="0.8" height="0.8" fill="#444" opacity="0.6"/>
<rect x="205.6" y="548.7" width="0.8" height="0.8" fill="#444" opacity="0.6"/>
<rect x="187.5" y="575.5" width="0.8" height="0.8" fill="#444" opacity="0.6"/>
<rect x="162.5" y="518.8" width="0.8" height="0.8" fill="#444" opacity="0.6"/>
<rect x="160.4" y="532.9" width="0.8" height="0.8" fill="#444" opacity="0.6"/>
<rect x="209.1" y="560.2" width="0.8" height="0.8" fill="#444" opacity="0.6"/>
<rect x="156.5" y="529.5" width="0.8" height="0.8" fill="#444" opacity="0.6"/>
<rect x="171.6" y="566.3" width="0.8" height="0.8" fill="#444" opacity="0.6"/>
<rect x="196.0" y="574.0" width="0.8" height="0.8" fill="#444" opacity="0.6"/>
<rect x="173.6" y="502.3" width="0.8" height="0.8" fill="#444" opacity="0.6"/>
<rect x="205.7" y="555.4" width="0.8" height="0.8" fill="#444" opacity="0.6"/>
<rect x="184.6" y="506.8" width="0.8" height="0.8" fill="#444" opacity="0.6"/>
<rect x="178.5" y="508.4" width="0.8" height="0.8" fill="#444" opacity="0.6"/>
<rect x="166.1" y="556.2" width="0.8" height="0.8" fill="#444" opacity="0.6"/>
<rect x="184.6" y="509.1" width="0.8" height="0.8" fill="#444" opacity="0.6"/>
<rect x="160.1" y="508.0" width="0.8" height="0.8" fill="#444" opacity="0.6"/>
<rect x="178.8" y="573.0" width="0.8" height="0.8" fill="#444" opacity="0.6"/>
<rect x="173.6" y="501.5" width="0.8" height="0.8" fill="#444" opacity="0.6"/>
<rect x="165.2" y="556.1" width="0.8" height="0.8" fill="#444" opacity="0.6"/>
<rect x="209.9" y="563.4" width="0.8" height="0.8" fill="#444" opacity="0.6"/>
<rect x="205.4" y="556.0" width="0.8" height="0.8" fill="#444" opacity="0.6"/>
<rect x="157.6" y="527.1" width="0.8" height="0.8" fill="#444" opacity="0.6"/>
<rect x="167.1" y="510.1" width="0.8" height="0.8" fill="#444" opacity="0.6"/>
<rect x="179.6" y="509.9" width="0.8" height="0.8" fill="#444" opacity="0.6"/>
<rect x="196.8" y="577.1" width="0.8" height="0.8" fill="#444" opacity="0.6"/>
<rect x="206.8" y="557.5" width="0.8" height="0.8" fill="#444" opacity="0.6"/>
<rect x="170.9" y="504.1" width="0.8" height="0.8" fill="#444" opacity="0.6"/>
<rect x="185.4" y="572.5" width="0.8" height="0.8" fill="#444" opacity="0.6"/>
<rect x="173.3" y="570.3" width="0.8" height="0.8" fill="#444" opacity="0.6"/>
<rect x="173.6" y="564.7" width="0.8" height="0.8" fill="#444" opacity="0.6"/>
<rect x="169.0" y="506.0" width="0.8" height="0.8" fill="#444" opacity="0.6"/>
<rect x="202.5" y="521.6" width="0.8" height="0.8" fill="#444" opacity="0.6"/>
<rect x="199.5" y="522.9" width="0.8" height="0.8" fill="#444" opacity="0.6"/>
<rect x="183.6" y="509.2" width="0.8" height="0.8" fill="#444" opacity="0.6"/>
<rect x="180.2" y="572.5" width="0.8" height="0.8" fill="#444" opacity="0.6"/>
<rect x="204.2" y="525.3" width="0.8" height="0.8" fill="#444" opacity="0.6"/>
<rect x="190.8" y="575.2" width="0.8" height="0.8" fill="#444" opacity="0.6"/>
<rect x="173.0" y="566.6" width="0.8" height="0.8" fill="#444" opacity="0.6"/>
<rect x="168.9" y="562.0" width="0.8" height="0.8" fill="#444" opacity="0.6"/>
<rect x="198.9" y="575.0" width="0.8" height="0.8" fill="#444" opacity="0.6"/>
<rect x="182.6" y="506.7" width="0.8" height="0.8" fill="#444" opacity="0.6"/>
<rect x="189.0" y="510.1" width="0.8" height="0.8" fill="#444" opacity="0.6"/>
<rect x="202.1" y="575.0" width="0.8" height="0.8" fill="#444" opacity="0.6"/>
<rect x="194.8" y="518.2" width="0.8" height="0.8" fill="#444" opacity="0.6"/>
<rect x="208.3" y="546.0" width="0.8" height="0.8" fill="#444" opacity="0.6"/>
<rect x="141.70" y="490.30" width="96.90" height="96.70" fill="none" stroke="#666" stroke-width="0.9"/>
<line x1="140.30" y1="493.30" x2="141.70" y2="493.30" stroke="#888" stroke-width="0.5" />
<line x1="140.30" y1="495.60" x2="141.70" y2="495.60" stroke="#888" stroke-width="0.5" />
<line x1="140.30" y1="497.90" x2="141.70" y2="497.90" stroke="#888" stroke-width="0.5" />
<line x1="140.30" y1="500.20" x2="141.70" y2="500.20" stroke="#888" stroke-width="0.5" />
<line x1="140.30" y1="502.50" x2="141.70" y2="502.50" stroke="#888" stroke-width="0.5" />
<line x1="140.30" y1="504.80" x2="141.70" y2="504.80" stroke="#888" stroke-width="0.5" />
<line x1="140.30" y1="507.10" x2="141.70" y2="507.10" stroke="#888" stroke-width="0.5" />
<line x1="140.30" y1="509.40" x2="141.70" y2="509.40" stroke="#888" stroke-width="0.5" />
<line x1="140.30" y1="511.70" x2="141.70" y2="511.70" stroke="#888" stroke-width="0.5" />
<line x1="140.30" y1="514.00" x2="141.70" y2="514.00" stroke="#888" stroke-width="0.5" />
<line x1="140.30" y1="516.30" x2="141.70" y2="516.30" stroke="#888" stroke-width="0.5" />
<line x1="140.30" y1="518.60" x2="141.70" y2="518.60" stroke="#888" stroke-width="0.5" />
<line x1="140.30" y1="520.90" x2="141.70" y2="520.90" stroke="#888" stroke-width="0.5" />
<line x1="140.30" y1="523.20" x2="141.70" y2="523.20" stroke="#888" stroke-width="0.5" />
<line x1="140.30" y1="525.50" x2="141.70" y2="525.50" stroke="#888" stroke-width="0.5" />
<line x1="140.30" y1="527.80" x2="141.70" y2="527.80" stroke="#888" stroke-width="0.5" />
<line x1="140.30" y1="530.10" x2="141.70" y2="530.10" stroke="#888" stroke-width="0.5" />
<line x1="140.30" y1="532.40" x2="141.70" y2="532.40" stroke="#888" stroke-width="0.5" />
<line x1="140.30" y1="534.70" x2="141.70" y2="534.70" stroke="#888" stroke-width="0.5" />
<line x1="140.30" y1="537.00" x2="141.70" y2="537.00" stroke="#888" stroke-width="0.5" />
<line x1="140.30" y1="539.30" x2="141.70" y2="539.30" stroke="#888" stroke-width="0.5" />
<line x1="140.30" y1="541.60" x2="141.70" y2="541.60" stroke="#888" stroke-width="0.5" />
<line x1="140.30" y1="543.90" x2="141.70" y2="543.90" stroke="#888" stroke-width="0.5" />
<line x1="140.30" y1="546.20" x2="141.70" y2="546.20" stroke="#888" stroke-width="0.5" />
<line x1="140.30" y1="548.50" x2="141.70" y2="548.50" stroke="#888" stroke-width="0.5" />
<line x1="140.30" y1="550.80" x2="141.70" y2="550.80" stroke="#888" stroke-width="0.5" />
<line x1="140.30" y1="553.10" x2="141.70" y2="553.10" stroke="#888" stroke-width="0.5" />
<line x1="140.30" y1="555.40" x2="141.70" y2="555.40" stroke="#888" stroke-width="0.5" />
<line x1="140.30" y1="557.70" x2="141.70" y2="557.70" stroke="#888" stroke-width="0.5" />
<line x1="140.30" y1="560.00" x2="141.70" y2="560.00" stroke="#888" stroke-width="0.5" />
<line x1="140.30" y1="562.30" x2="141.70" y2="562.30" stroke="#888" stroke-width="0.5" />
<line x1="140.30" y1="564.60" x2="141.70" y2="564.60" stroke="#888" stroke-width="0.5" />
<line x1="140.30" y1="566.90" x2="141.70" y2="566.90" stroke="#888" stroke-width="0.5" />
<line x1="140.30" y1="569.20" x2="141.70" y2="569.20" stroke="#888" stroke-width="0.5" />
<line x1="140.30" y1="571.50" x2="141.70" y2="571.50" stroke="#888" stroke-width="0.5" />
<line x1="140.30" y1="573.80" x2="141.70" y2="573.80" stroke="#888" stroke-width="0.5" />
<line x1="140.30" y1="576.10" x2="141.70" y2="576.10" stroke="#888" stroke-width="0.5" />
<line x1="140.30" y1="578.40" x2="141.70" y2="578.40" stroke="#888" stroke-width="0.5" />
<line x1="140.30" y1="580.70" x2="141.70" y2="580.70" stroke="#888" stroke-width="0.5" />
<line x1="140.30" y1="583.00" x2="141.70" y2="583.00" stroke="#888" stroke-width="0.5" />
<line x1="140.30" y1="585.30" x2="141.70" y2="585.30" stroke="#888" stroke-width="0.5" />
<line x1="144.70" y1="587.00" x2="144.70" y2="588.40" stroke="#888" stroke-width="0.5" />
<line x1="147.00" y1="587.00" x2="147.00" y2="588.40" stroke="#888" stroke-width="0.5" />
<line x1="149.30" y1="587.00" x2="149.30" y2="588.40" stroke="#888" stroke-width="0.5" />
<line x1="151.60" y1="587.00" x2="151.60" y2="588.40" stroke="#888" stroke-width="0.5" />
<line x1="153.90" y1="587.00" x2="153.90" y2="588.40" stroke="#888" stroke-width="0.5" />
<line x1="156.20" y1="587.00" x2="156.20" y2="588.40" stroke="#888" stroke-width="0.5" />
<line x1="158.50" y1="587.00" x2="158.50" y2="588.40" stroke="#888" stroke-width="0.5" />
<line x1="160.80" y1="587.00" x2="160.80" y2="588.40" stroke="#888" stroke-width="0.5" />
<line x1="163.10" y1="587.00" x2="163.10" y2="588.40" stroke="#888" stroke-width="0.5" />
<line x1="165.40" y1="587.00" x2="165.40" y2="588.40" stroke="#888" stroke-width="0.5" />
<line x1="167.70" y1="587.00" x2="167.70" y2="588.40" stroke="#888" stroke-width="0.5" />
<line x1="170.00" y1="587.00" x2="170.00" y2="588.40" stroke="#888" stroke-width="0.5" />
<line x1="172.30" y1="587.00" x2="172.30" y2="588.40" stroke="#888" stroke-width="0.5" />
<line x1="174.60" y1="587.00" x2="174.60" y2="588.40" stroke="#888" stroke-width="0.5" />
<line x1="176.90" y1="587.00" x2="176.90" y2="588.40" stroke="#888" stroke-width="0.5" />
<line x1="179.20" y1="587.00" x2="179.20" y2="588.40" stroke="#888" stroke-width="0.5" />
<line x1="181.50" y1="587.00" x2="181.50" y2="588.40" stroke="#888" stroke-width="0.5" />
<line x1="183.80" y1="587.00" x2="183.80" y2="588.40" stroke="#888" stroke-width="0.5" />
<line x1="186.10" y1="587.00" x2="186.10" y2="588.40" stroke="#888" stroke-width="0.5" />
<line x1="188.40" y1="587.00" x2="188.40" y2="588.40" stroke="#888" stroke-width="0.5" />
<line x1="190.70" y1="587.00" x2="190.70" y2="588.40" stroke="#888" stroke-width="0.5" />
<line x1="193.00" y1="587.00" x2="193.00" y2="588.40" stroke="#888" stroke-width="0.5" />
<line x1="195.30" y1="587.00" x2="195.30" y2="588.40" stroke="#888" stroke-width="0.5" />
<line x1="197.60" y1="587.00" x2="197.60" y2="588.40" stroke="#888" stroke-width="0.5" />
<line x1="199.90" y1="587.00" x2="199.90" y2="588.40" stroke="#888" stroke-width="0.5" />
<line x1="202.20" y1="587.00" x2="202.20" y2="588.40" stroke="#888" stroke-width="0.5" />
<line x1="204.50" y1="587.00" x2="204.50" y2="588.40" stroke="#888" stroke-width="0.5" />
<line x1="206.80" y1="587.00" x2="206.80" y2="588.40" stroke="#888" stroke-width="0.5" />
<line x1="209.10" y1="587.00" x2="209.10" y2="588.40" stroke="#888" stroke-width="0.5" />
<line x1="211.40" y1="587.00" x2="211.40" y2="588.40" stroke="#888" stroke-width="0.5" />
<line x1="213.70" y1="587.00" x2="213.70" y2="588.40" stroke="#888" stroke-width="0.5" />
<line x1="216.00" y1="587.00" x2="216.00" y2="588.40" stroke="#888" stroke-width="0.5" />
<line x1="218.30" y1="587.00" x2="218.30" y2="588.40" stroke="#888" stroke-width="0.5" />
<line x1="220.60" y1="587.00" x2="220.60" y2="588.40" stroke="#888" stroke-width="0.5" />
<line x1="222.90" y1="587.00" x2="222.90" y2="588.40" stroke="#888" stroke-width="0.5" />
<line x1="225.20" y1="587.00" x2="225.20" y2="588.40" stroke="#888" stroke-width="0.5" />
<line x1="227.50" y1="587.00" x2="227.50" y2="588.40" stroke="#888" stroke-width="0.5" />
<line x1="229.80" y1="587.00" x2="229.80" y2="588.40" stroke="#888" stroke-width="0.5" />
<line x1="232.10" y1="587.00" x2="232.10" y2="588.40" stroke="#888" stroke-width="0.5" />
<line x1="234.40" y1="587.00" x2="234.40" y2="588.40" stroke="#888" stroke-width="0.5" />
<line x1="236.70" y1="587.00" x2="236.70" y2="588.40" stroke="#888" stroke-width="0.5" />
<path d="M175.1 510.7 L188.8 499.5 L203.7 500.6 L204.5 518.7 L194.7 528.7 L178.7 527.6 Z" fill="none" stroke="#333" stroke-width="0.9"/>
<rect x="139.8" y="563.2" width="1.9" height="3.2" fill="#111"/>
<rect x="162.2" y="587.2" width="3.0" height="1.8" fill="#111"/>
<path d="M17.5 496 L21.6 503.6 L13.4 503.6 Z" fill="#000"/>
<line x1="17.50" y1="503.00" x2="17.50" y2="541.70" stroke="#000" stroke-width="1.1" />
<text transform="translate(21.4,569.7) rotate(-90)" font-size="9.3" font-weight="bold" stroke="#111" stroke-width="0.3" text-anchor="middle" textLength="41.6" lengthAdjust="spacingAndGlyphs">CD9 - APC</text>
<text x="32.40" y="607.00" font-size="9.0" font-weight="bold" text-anchor="start" fill="#000" textLength="82.5" lengthAdjust="spacingAndGlyphs" stroke="#111" stroke-width="0.3">CD63 – PerCP Cy5.5</text>
<line x1="116.30" y1="603.50" x2="233.50" y2="603.50" stroke="#333" stroke-width="1.1" />
<path d="M239 603.5 L231.4 599.5 L231.4 607.5 Z" fill="#000"/>
<text transform="translate(280.62,464.41) scale(0.634,1)" font-size="19.34" font-weight="bold" fill="#000" stroke="#000" stroke-width="0.5">J</text>
<text x="418.10" y="468.00" font-size="10.4" font-weight="bold" text-anchor="middle" fill="#111" textLength="203" lengthAdjust="spacingAndGlyphs" stroke="#111" stroke-width="0.3">(Non-)Perivascular macrophages ((N)PVM)</text>
<text x="379.80" y="485.50" font-size="10.2" font-weight="bold" text-anchor="middle" fill="#111" textLength="15.2" lengthAdjust="spacingAndGlyphs" stroke="#111" stroke-width="0.3">WT</text>
<text x="465.8" y="485.6" font-size="10.2" font-weight="bold" stroke="#111" stroke-width="0.3" fill="#111"><tspan textLength="22.2" lengthAdjust="spacingAndGlyphs">Atg7</tspan><tspan font-size="6.3" dy="-4">Ad</tspan></text>
<path d="M354.5 530 Q356 523 364 523.5 L372 524 Q380 520 398 521 Q405 524 405.5 535 Q406 560 403 574 Q400 578 392 578 L376 578 Q371 576 369.5 566 Q364 564 358 562 Q354 555 354 545 Z" fill="#e2e2e2" filter="url(#b1)"/>
<ellipse cx="388" cy="555" rx="15" ry="18" fill="#bcbcbc" filter="url(#b4)"/>
<ellipse cx="362" cy="540" rx="7.5" ry="10" fill="#b4b4b4" filter="url(#b3)"/>
<ellipse cx="385" cy="540.5" rx="17" ry="9" fill="#8a8a8a" filter="url(#b3)"/>
<ellipse cx="387.5" cy="540.4" rx="13" ry="7.5" fill="#333" filter="url(#b2)"/>
<ellipse cx="390" cy="540" rx="7" ry="4.5" fill="#000" filter="url(#b1)"/>
<rect x="351.9" y="540.6" width="0.8" height="0.8" fill="#444" opacity="0.6"/>
<rect x="409.1" y="542.2" width="0.8" height="0.8" fill="#444" opacity="0.6"/>
<rect x="388.6" y="525.6" width="0.8" height="0.8" fill="#444" opacity="0.6"/>
<rect x="350.6" y="539.7" width="0.8" height="0.8" fill="#444" opacity="0.6"/>
<rect x="402.3" y="560.1" width="0.8" height="0.8" fill="#444" opacity="0.6"/>
<rect x="377.4" y="518.9" width="0.8" height="0.8" fill="#444" opacity="0.6"/>
<rect x="405.5" y="562.0" width="0.8" height="0.8" fill="#444" opacity="0.6"/>
<rect x="398.8" y="570.2" width="0.8" height="0.8" fill="#444" opacity="0.6"/>
<rect x="364.0" y="527.9" width="0.8" height="0.8" fill="#444" opacity="0.6"/>
<rect x="385.6" y="575.9" width="0.8" height="0.8" fill="#444" opacity="0.6"/>
<rect x="349.7" y="544.2" width="0.8" height="0.8" fill="#444" opacity="0.6"/>
<rect x="358.3" y="563.8" width="0.8" height="0.8" fill="#444" opacity="0.6"/>
<rect x="409.3" y="542.5" width="0.8" height="0.8" fill="#444" opacity="0.6"/>
<rect x="351.1" y="549.1" width="0.8" height="0.8" fill="#444" opacity="0.6"/>
<rect x="374.5" y="520.5" width="0.8" height="0.8" fill="#444" opacity="0.6"/>
<rect x="404.2" y="534.7" width="0.8" height="0.8" fill="#444" opacity="0.6"/>
<rect x="393.8" y="523.4" width="0.8" height="0.8" fill="#444" opacity="0.6"/>
<rect x="398.7" y="525.2" width="0.8" height="0.8" fill="#444" opacity="0.6"/>
<rect x="395.8" y="522.8" width="0.8" height="0.8" fill="#444" opacity="0.6"/>
<rect x="408.6" y="540.8" width="0.8" height="0.8" fill="#444" opacity="0.6"/>
<rect x="350.2" y="543.8" width="0.8" height="0.8" fill="#444" opacity="0.6"/>
<rect x="389.1" y="523.3" width="0.8" height="0.8" fill="#444" opacity="0.6"/>
<rect x="357.0" y="559.7" width="0.8" height="0.8" fill="#444" opacity="0.6"/>
<rect x="378.2" y="518.2" width="0.8" height="0.8" fill="#444" opacity="0.6"/>
<rect x="361.3" y="565.3" width="0.8" height="0.8" fill="#444" opacity="0.6"/>
<rect x="388.0" y="573.1" width="0.8" height="0.8" fill="#444" opacity="0.6"/>
<rect x="371.7" y="576.7" width="0.8" height="0.8" fill="#444" opacity="0.6"/>
<rect x="405.5" y="557.2" width="0.8" height="0.8" fill="#444" opacity="0.6"/>
<rect x="402.3" y="566.2" width="0.8" height="0.8" fill="#444" opacity="0.6"/>
<rect x="384.3" y="523.8" width="0.8" height="0.8" fill="#444" opacity="0.6"/>
<rect x="406.3" y="558.1" width="0.8" height="0.8" fill="#444" opacity="0.6"/>
<rect x="352.7" y="533.2" width="0.8" height="0.8" fill="#444" opacity="0.6"/>
<rect x="405.3" y="553.5" width="0.8" height="0.8" fill="#444" opacity="0.6"/>
<rect x="390.7" y="570.7" width="0.8" height="0.8" fill="#444" opacity="0.6"/>
<rect x="382.8" y="575.9" width="0.8" height="0.8" fill="#444" opacity="0.6"/>
<rect x="357.8" y="534.1" width="0.8" height="0.8" fill="#444" opacity="0.6"/>
<rect x="390.8" y="571.2" width="0.8" height="0.8" fill="#444" opacity="0.6"/>
<rect x="394.3" y="573.0" width="0.8" height="0.8" fill="#444" opacity="0.6"/>
<rect x="369.0" y="573.0" width="0.8" height="0.8" fill="#444" opacity="0.6"/>
<rect x="391.7" y="523.8" width="0.8" height="0.8" fill="#444" opacity="0.6"/>
<rect x="377.9" y="577.1" width="0.8" height="0.8" fill="#444" opacity="0.6"/>
<rect x="403.7" y="534.9" width="0.8" height="0.8" fill="#444" opacity="0.6"/>
<rect x="349.5" y="539.3" width="0.8" height="0.8" fill="#444" opacity="0.6"/>
<rect x="353.4" y="550.7" width="0.8" height="0.8" fill="#444" opacity="0.6"/>
<rect x="410.3" y="557.1" width="0.8" height="0.8" fill="#444" opacity="0.6"/>
<rect x="388.9" y="523.4" width="0.8" height="0.8" fill="#444" opacity="0.6"/>
<rect x="351.6" y="543.4" width="0.8" height="0.8" fill="#444" opacity="0.6"/>
<rect x="375.1" y="577.5" width="0.8" height="0.8" fill="#444" opacity="0.6"/>
<rect x="365.3" y="527.1" width="0.8" height="0.8" fill="#444" opacity="0.6"/>
<rect x="408.4" y="549.8" width="0.8" height="0.8" fill="#444" opacity="0.6"/>
<rect x="358.7" y="568.6" width="0.8" height="0.8" fill="#444" opacity="0.6"/>
<rect x="373.3" y="521.4" width="0.8" height="0.8" fill="#444" opacity="0.6"/>
<rect x="394.5" y="568.4" width="0.8" height="0.8" fill="#444" opacity="0.6"/>
<rect x="368.2" y="570.6" width="0.8" height="0.8" fill="#444" opacity="0.6"/>
<rect x="399.6" y="528.4" width="0.8" height="0.8" fill="#444" opacity="0.6"/>
<rect x="359.0" y="525.4" width="0.8" height="0.8" fill="#444" opacity="0.6"/>
<rect x="377.0" y="574.7" width="0.8" height="0.8" fill="#444" opacity="0.6"/>
<rect x="397.9" y="571.1" width="0.8" height="0.8" fill="#444" opacity="0.6"/>
<rect x="410.9" y="548.2" width="0.8" height="0.8" fill="#444" opacity="0.6"/>
<rect x="397.6" y="524.3" width="0.8" height="0.8" fill="#444" opacity="0.6"/>
<rect x="403.5" y="560.5" width="0.8" height="0.8" fill="#444" opacity="0.6"/>
<rect x="374.6" y="524.5" width="0.8" height="0.8" fill="#444" opacity="0.6"/>
<rect x="351.7" y="551.3" width="0.8" height="0.8" fill="#444" opacity="0.6"/>
<rect x="408.2" y="540.5" width="0.8" height="0.8" fill="#444" opacity="0.6"/>
<rect x="397.1" y="528.2" width="0.8" height="0.8" fill="#444" opacity="0.6"/>
<rect x="386.9" y="522.7" width="0.8" height="0.8" fill="#444" opacity="0.6"/>
<rect x="402.4" y="536.0" width="0.8" height="0.8" fill="#444" opacity="0.6"/>
<rect x="392.3" y="526.0" width="0.8" height="0.8" fill="#444" opacity="0.6"/>
<rect x="352.2" y="540.8" width="0.8" height="0.8" fill="#444" opacity="0.6"/>
<rect x="397.0" y="572.1" width="0.8" height="0.8" fill="#444" opacity="0.6"/>
<rect x="369.7" y="571.6" width="0.8" height="0.8" fill="#444" opacity="0.6"/>
<rect x="404.3" y="559.7" width="0.8" height="0.8" fill="#444" opacity="0.6"/>
<rect x="350.4" y="553.7" width="0.8" height="0.8" fill="#444" opacity="0.6"/>
<rect x="360.9" y="569.5" width="0.8" height="0.8" fill="#444" opacity="0.6"/>
<rect x="402.0" y="564.0" width="0.8" height="0.8" fill="#444" opacity="0.6"/>
<rect x="349.0" y="555.1" width="0.8" height="0.8" fill="#444" opacity="0.6"/>
<rect x="394.3" y="523.7" width="0.8" height="0.8" fill="#444" opacity="0.6"/>
<rect x="407.8" y="550.0" width="0.8" height="0.8" fill="#444" opacity="0.6"/>
<rect x="373.3" y="523.8" width="0.8" height="0.8" fill="#444" opacity="0.6"/>
<rect x="353.9" y="537.7" width="0.8" height="0.8" fill="#444" opacity="0.6"/>
<rect x="333.80" y="491.10" width="92.40" height="91.50" fill="none" stroke="#666" stroke-width="0.9"/>
<line x1="332.40" y1="494.10" x2="333.80" y2="494.10" stroke="#888" stroke-width="0.5" />
<line x1="332.40" y1="496.40" x2="333.80" y2="496.40" stroke="#888" stroke-width="0.5" />
<line x1="332.40" y1="498.70" x2="333.80" y2="498.70" stroke="#888" stroke-width="0.5" />
<line x1="332.40" y1="501.00" x2="333.80" y2="501.00" stroke="#888" stroke-width="0.5" />
<line x1="332.40" y1="503.30" x2="333.80" y2="503.30" stroke="#888" stroke-width="0.5" />
<line x1="332.40" y1="505.60" x2="333.80" y2="505.60" stroke="#888" stroke-width="0.5" />
<line x1="332.40" y1="507.90" x2="333.80" y2="507.90" stroke="#888" stroke-width="0.5" />
<line x1="332.40" y1="510.20" x2="333.80" y2="510.20" stroke="#888" stroke-width="0.5" />
<line x1="332.40" y1="512.50" x2="333.80" y2="512.50" stroke="#888" stroke-width="0.5" />
<line x1="332.40" y1="514.80" x2="333.80" y2="514.80" stroke="#888" stroke-width="0.5" />
<line x1="332.40" y1="517.10" x2="333.80" y2="517.10" stroke="#888" stroke-width="0.5" />
<line x1="332.40" y1="519.40" x2="333.80" y2="519.40" stroke="#888" stroke-width="0.5" />
<line x1="332.40" y1="521.70" x2="333.80" y2="521.70" stroke="#888" stroke-width="0.5" />
<line x1="332.40" y1="524.00" x2="333.80" y2="524.00" stroke="#888" stroke-width="0.5" />
<line x1="332.40" y1="526.30" x2="333.80" y2="526.30" stroke="#888" stroke-width="0.5" />
<line x1="332.40" y1="528.60" x2="333.80" y2="528.60" stroke="#888" stroke-width="0.5" />
<line x1="332.40" y1="530.90" x2="333.80" y2="530.90" stroke="#888" stroke-width="0.5" />
<line x1="332.40" y1="533.20" x2="333.80" y2="533.20" stroke="#888" stroke-width="0.5" />
<line x1="332.40" y1="535.50" x2="333.80" y2="535.50" stroke="#888" stroke-width="0.5" />
<line x1="332.40" y1="537.80" x2="333.80" y2="537.80" stroke="#888" stroke-width="0.5" />
<line x1="332.40" y1="540.10" x2="333.80" y2="540.10" stroke="#888" stroke-width="0.5" />
<line x1="332.40" y1="542.40" x2="333.80" y2="542.40" stroke="#888" stroke-width="0.5" />
<line x1="332.40" y1="544.70" x2="333.80" y2="544.70" stroke="#888" stroke-width="0.5" />
<line x1="332.40" y1="547.00" x2="333.80" y2="547.00" stroke="#888" stroke-width="0.5" />
<line x1="332.40" y1="549.30" x2="333.80" y2="549.30" stroke="#888" stroke-width="0.5" />
<line x1="332.40" y1="551.60" x2="333.80" y2="551.60" stroke="#888" stroke-width="0.5" />
<line x1="332.40" y1="553.90" x2="333.80" y2="553.90" stroke="#888" stroke-width="0.5" />
<line x1="332.40" y1="556.20" x2="333.80" y2="556.20" stroke="#888" stroke-width="0.5" />
<line x1="332.40" y1="558.50" x2="333.80" y2="558.50" stroke="#888" stroke-width="0.5" />
<line x1="332.40" y1="560.80" x2="333.80" y2="560.80" stroke="#888" stroke-width="0.5" />
<line x1="332.40" y1="563.10" x2="333.80" y2="563.10" stroke="#888" stroke-width="0.5" />
<line x1="332.40" y1="565.40" x2="333.80" y2="565.40" stroke="#888" stroke-width="0.5" />
<line x1="332.40" y1="567.70" x2="333.80" y2="567.70" stroke="#888" stroke-width="0.5" />
<line x1="332.40" y1="570.00" x2="333.80" y2="570.00" stroke="#888" stroke-width="0.5" />
<line x1="332.40" y1="572.30" x2="333.80" y2="572.30" stroke="#888" stroke-width="0.5" />
<line x1="332.40" y1="574.60" x2="333.80" y2="574.60" stroke="#888" stroke-width="0.5" />
<line x1="332.40" y1="576.90" x2="333.80" y2="576.90" stroke="#888" stroke-width="0.5" />
<line x1="332.40" y1="579.20" x2="333.80" y2="579.20" stroke="#888" stroke-width="0.5" />
<line x1="332.40" y1="581.50" x2="333.80" y2="581.50" stroke="#888" stroke-width="0.5" />
<line x1="336.80" y1="582.60" x2="336.80" y2="584.00" stroke="#888" stroke-width="0.5" />
<line x1="339.10" y1="582.60" x2="339.10" y2="584.00" stroke="#888" stroke-width="0.5" />
<line x1="341.40" y1="582.60" x2="341.40" y2="584.00" stroke="#888" stroke-width="0.5" />
<line x1="343.70" y1="582.60" x2="343.70" y2="584.00" stroke="#888" stroke-width="0.5" />
<line x1="346.00" y1="582.60" x2="346.00" y2="584.00" stroke="#888" stroke-width="0.5" />
<line x1="348.30" y1="582.60" x2="348.30" y2="584.00" stroke="#888" stroke-width="0.5" />
<line x1="350.60" y1="582.60" x2="350.60" y2="584.00" stroke="#888" stroke-width="0.5" />
<line x1="352.90" y1="582.60" x2="352.90" y2="584.00" stroke="#888" stroke-width="0.5" />
<line x1="355.20" y1="582.60" x2="355.20" y2="584.00" stroke="#888" stroke-width="0.5" />
<line x1="357.50" y1="582.60" x2="357.50" y2="584.00" stroke="#888" stroke-width="0.5" />
<line x1="359.80" y1="582.60" x2="359.80" y2="584.00" stroke="#888" stroke-width="0.5" />
<line x1="362.10" y1="582.60" x2="362.10" y2="584.00" stroke="#888" stroke-width="0.5" />
<line x1="364.40" y1="582.60" x2="364.40" y2="584.00" stroke="#888" stroke-width="0.5" />
<line x1="366.70" y1="582.60" x2="366.70" y2="584.00" stroke="#888" stroke-width="0.5" />
<line x1="369.00" y1="582.60" x2="369.00" y2="584.00" stroke="#888" stroke-width="0.5" />
<line x1="371.30" y1="582.60" x2="371.30" y2="584.00" stroke="#888" stroke-width="0.5" />
<line x1="373.60" y1="582.60" x2="373.60" y2="584.00" stroke="#888" stroke-width="0.5" />
<line x1="375.90" y1="582.60" x2="375.90" y2="584.00" stroke="#888" stroke-width="0.5" />
<line x1="378.20" y1="582.60" x2="378.20" y2="584.00" stroke="#888" stroke-width="0.5" />
<line x1="380.50" y1="582.60" x2="380.50" y2="584.00" stroke="#888" stroke-width="0.5" />
<line x1="382.80" y1="582.60" x2="382.80" y2="584.00" stroke="#888" stroke-width="0.5" />
<line x1="385.10" y1="582.60" x2="385.10" y2="584.00" stroke="#888" stroke-width="0.5" />
<line x1="387.40" y1="582.60" x2="387.40" y2="584.00" stroke="#888" stroke-width="0.5" />
<line x1="389.70" y1="582.60" x2="389.70" y2="584.00" stroke="#888" stroke-width="0.5" />
<line x1="392.00" y1="582.60" x2="392.00" y2="584.00" stroke="#888" stroke-width="0.5" />
<line x1="394.30" y1="582.60" x2="394.30" y2="584.00" stroke="#888" stroke-width="0.5" />
<line x1="396.60" y1="582.60" x2="396.60" y2="584.00" stroke="#888" stroke-width="0.5" />
<line x1="398.90" y1="582.60" x2="398.90" y2="584.00" stroke="#888" stroke-width="0.5" />
<line x1="401.20" y1="582.60" x2="401.20" y2="584.00" stroke="#888" stroke-width="0.5" />
<line x1="403.50" y1="582.60" x2="403.50" y2="584.00" stroke="#888" stroke-width="0.5" />
<line x1="405.80" y1="582.60" x2="405.80" y2="584.00" stroke="#888" stroke-width="0.5" />
<line x1="408.10" y1="582.60" x2="408.10" y2="584.00" stroke="#888" stroke-width="0.5" />
<line x1="410.40" y1="582.60" x2="410.40" y2="584.00" stroke="#888" stroke-width="0.5" />
<line x1="412.70" y1="582.60" x2="412.70" y2="584.00" stroke="#888" stroke-width="0.5" />
<line x1="415.00" y1="582.60" x2="415.00" y2="584.00" stroke="#888" stroke-width="0.5" />
<line x1="417.30" y1="582.60" x2="417.30" y2="584.00" stroke="#888" stroke-width="0.5" />
<line x1="419.60" y1="582.60" x2="419.60" y2="584.00" stroke="#888" stroke-width="0.5" />
<line x1="421.90" y1="582.60" x2="421.90" y2="584.00" stroke="#888" stroke-width="0.5" />
<line x1="424.20" y1="582.60" x2="424.20" y2="584.00" stroke="#888" stroke-width="0.5" />
<rect x="346.7" y="501.1" width="22.8" height="42" fill="none" stroke="#333" stroke-width="0.9"/>
<rect x="371.3" y="543.1" width="38.3" height="35.4" fill="none" stroke="#333" stroke-width="0.9"/>
<text x="372.70" y="510.20" font-size="9.7" font-weight="bold" text-anchor="start" fill="#111" textLength="20.3" lengthAdjust="spacingAndGlyphs" stroke="#111" stroke-width="0.3">PVM</text>
<text x="343.30" y="579.20" font-size="9.7" font-weight="bold" text-anchor="start" fill="#111" textLength="26.8" lengthAdjust="spacingAndGlyphs" stroke="#111" stroke-width="0.3">NPVM</text>
<rect x="331.8" y="559" width="2" height="4" fill="#111"/>
<text x="331.5" y="512.7" font-size="4.2" fill="#333" text-anchor="end">10⁴</text>
<text x="331.5" y="537.7" font-size="4.2" fill="#333" text-anchor="end">10³</text>
<text x="331.5" y="560.7" font-size="4.2" fill="#333" text-anchor="end">0</text>
<text x="341.3" y="590.5" font-size="4.2" fill="#333" text-anchor="middle">-10²</text>
<text x="356.6" y="590.5" font-size="4.2" fill="#333" text-anchor="middle">0</text>
<text x="372.0" y="590.5" font-size="4.2" fill="#333" text-anchor="middle">10³</text>
<text x="396.4" y="590.5" font-size="4.2" fill="#333" text-anchor="middle">10⁴</text>
<text x="419.2" y="590.5" font-size="4.2" fill="#333" text-anchor="middle">10⁵</text>
<path d="M452 534 Q455 528 465 528.5 L492 530 Q503 531 503.5 536 Q504 543 498 547 Q482 553 470 557 Q462 561 456 562 Q451 558 451 546 Z" fill="#dcdcdc" filter="url(#b1)"/>
<path d="M462 542 L500 538 L498 545 L470 552 L462 553 Z" fill="#cfcfcf" filter="url(#b2)"/>
<path d="M462 531.5 Q480 531 500 533.5 Q502 538 498 540.5 Q480 542.5 462 542.5 Z" fill="#959595" filter="url(#b2)"/>
<ellipse cx="458.5" cy="544" rx="4" ry="10" fill="#6a6a6a" filter="url(#b2)"/>
<ellipse cx="459" cy="538" rx="5" ry="8" fill="#111" filter="url(#b1)"/>
<ellipse cx="459" cy="537" rx="2.5" ry="4" fill="#000" filter="url(#b1)"/>
<rect x="511.2" y="541.5" width="0.8" height="0.8" fill="#444" opacity="0.6"/>
<rect x="483.8" y="522.5" width="0.8" height="0.8" fill="#444" opacity="0.6"/>
<rect x="453.0" y="527.4" width="0.8" height="0.8" fill="#444" opacity="0.6"/>
<rect x="452.3" y="554.4" width="0.8" height="0.8" fill="#444" opacity="0.6"/>
<rect x="466.1" y="558.4" width="0.8" height="0.8" fill="#444" opacity="0.6"/>
<rect x="449.2" y="553.3" width="0.8" height="0.8" fill="#444" opacity="0.6"/>
<rect x="473.8" y="558.3" width="0.8" height="0.8" fill="#444" opacity="0.6"/>
<rect x="471.5" y="521.0" width="0.8" height="0.8" fill="#444" opacity="0.6"/>
<rect x="505.2" y="533.0" width="0.8" height="0.8" fill="#444" opacity="0.6"/>
<rect x="470.1" y="521.1" width="0.8" height="0.8" fill="#444" opacity="0.6"/>
<rect x="487.8" y="524.3" width="0.8" height="0.8" fill="#444" opacity="0.6"/>
<rect x="492.4" y="553.7" width="0.8" height="0.8" fill="#444" opacity="0.6"/>
<rect x="460.3" y="520.6" width="0.8" height="0.8" fill="#444" opacity="0.6"/>
<rect x="488.0" y="557.8" width="0.8" height="0.8" fill="#444" opacity="0.6"/>
<rect x="491.8" y="522.2" width="0.8" height="0.8" fill="#444" opacity="0.6"/>
<rect x="499.3" y="549.9" width="0.8" height="0.8" fill="#444" opacity="0.6"/>
<rect x="490.3" y="554.9" width="0.8" height="0.8" fill="#444" opacity="0.6"/>
<rect x="452.2" y="549.7" width="0.8" height="0.8" fill="#444" opacity="0.6"/>
<rect x="502.0" y="530.5" width="0.8" height="0.8" fill="#444" opacity="0.6"/>
<rect x="442.1" y="538.5" width="0.8" height="0.8" fill="#444" opacity="0.6"/>
<rect x="478.7" y="517.9" width="0.8" height="0.8" fill="#444" opacity="0.6"/>
<rect x="452.5" y="552.6" width="0.8" height="0.8" fill="#444" opacity="0.6"/>
<rect x="452.2" y="549.0" width="0.8" height="0.8" fill="#444" opacity="0.6"/>
<rect x="447.8" y="552.6" width="0.8" height="0.8" fill="#444" opacity="0.6"/>
<rect x="509.1" y="537.5" width="0.8" height="0.8" fill="#444" opacity="0.6"/>
<rect x="457.6" y="522.3" width="0.8" height="0.8" fill="#444" opacity="0.6"/>
<rect x="504.6" y="542.2" width="0.8" height="0.8" fill="#444" opacity="0.6"/>
<rect x="456.9" y="557.7" width="0.8" height="0.8" fill="#444" opacity="0.6"/>
<rect x="498.8" y="552.1" width="0.8" height="0.8" fill="#444" opacity="0.6"/>
<rect x="440.7" y="538.7" width="0.8" height="0.8" fill="#444" opacity="0.6"/>
<rect x="489.8" y="521.3" width="0.8" height="0.8" fill="#444" opacity="0.6"/>
<rect x="493.6" y="558.4" width="0.8" height="0.8" fill="#444" opacity="0.6"/>
<rect x="501.2" y="528.2" width="0.8" height="0.8" fill="#444" opacity="0.6"/>
<rect x="456.1" y="556.2" width="0.8" height="0.8" fill="#444" opacity="0.6"/>
<rect x="496.1" y="556.8" width="0.8" height="0.8" fill="#444" opacity="0.6"/>
<rect x="506.5" y="538.3" width="0.8" height="0.8" fill="#444" opacity="0.6"/>
<rect x="467.5" y="518.2" width="0.8" height="0.8" fill="#444" opacity="0.6"/>
<rect x="486.7" y="561.8" width="0.8" height="0.8" fill="#444" opacity="0.6"/>
<rect x="455.1" y="526.9" width="0.8" height="0.8" fill="#444" opacity="0.6"/>
<rect x="500.1" y="549.3" width="0.8" height="0.8" fill="#444" opacity="0.6"/>
<rect x="445.4" y="530.1" width="0.8" height="0.8" fill="#444" opacity="0.6"/>
<rect x="458.0" y="560.2" width="0.8" height="0.8" fill="#444" opacity="0.6"/>
<rect x="455.0" y="555.3" width="0.8" height="0.8" fill="#444" opacity="0.6"/>
<rect x="500.7" y="556.3" width="0.8" height="0.8" fill="#444" opacity="0.6"/>
<rect x="498.3" y="557.2" width="0.8" height="0.8" fill="#444" opacity="0.6"/>
<rect x="444.1" y="534.4" width="0.8" height="0.8" fill="#444" opacity="0.6"/>
<rect x="447.9" y="533.1" width="0.8" height="0.8" fill="#444" opacity="0.6"/>
<rect x="505.6" y="527.4" width="0.8" height="0.8" fill="#444" opacity="0.6"/>
<rect x="488.4" y="521.0" width="0.8" height="0.8" fill="#444" opacity="0.6"/>
<rect x="499.9" y="555.5" width="0.8" height="0.8" fill="#444" opacity="0.6"/>
<rect x="466.5" y="562.1" width="0.8" height="0.8" fill="#444" opacity="0.6"/>
<rect x="476.8" y="560.7" width="0.8" height="0.8" fill="#444" opacity="0.6"/>
<rect x="488.8" y="524.0" width="0.8" height="0.8" fill="#444" opacity="0.6"/>
<rect x="448.9" y="534.8" width="0.8" height="0.8" fill="#444" opacity="0.6"/>
<rect x="502.8" y="543.6" width="0.8" height="0.8" fill="#444" opacity="0.6"/>
<rect x="510.7" y="538.1" width="0.8" height="0.8" fill="#444" opacity="0.6"/>
<rect x="458.9" y="524.0" width="0.8" height="0.8" fill="#444" opacity="0.6"/>
<rect x="458.9" y="520.9" width="0.8" height="0.8" fill="#444" opacity="0.6"/>
<rect x="451.2" y="554.1" width="0.8" height="0.8" fill="#444" opacity="0.6"/>
<rect x="483.9" y="523.8" width="0.8" height="0.8" fill="#444" opacity="0.6"/>
<path d="M526.00 491.10 H434.40 V582.60 H526.00" fill="none" stroke="#666" stroke-width="0.9"/>
<line x1="433.00" y1="494.10" x2="434.40" y2="494.10" stroke="#888" stroke-width="0.5" />
<line x1="433.00" y1="496.40" x2="434.40" y2="496.40" stroke="#888" stroke-width="0.5" />
<line x1="433.00" y1="498.70" x2="434.40" y2="498.70" stroke="#888" stroke-width="0.5" />
<line x1="433.00" y1="501.00" x2="434.40" y2="501.00" stroke="#888" stroke-width="0.5" />
<line x1="433.00" y1="503.30" x2="434.40" y2="503.30" stroke="#888" stroke-width="0.5" />
<line x1="433.00" y1="505.60" x2="434.40" y2="505.60" stroke="#888" stroke-width="0.5" />
<line x1="433.00" y1="507.90" x2="434.40" y2="507.90" stroke="#888" stroke-width="0.5" />
<line x1="433.00" y1="510.20" x2="434.40" y2="510.20" stroke="#888" stroke-width="0.5" />
<line x1="433.00" y1="512.50" x2="434.40" y2="512.50" stroke="#888" stroke-width="0.5" />
<line x1="433.00" y1="514.80" x2="434.40" y2="514.80" stroke="#888" stroke-width="0.5" />
<line x1="433.00" y1="517.10" x2="434.40" y2="517.10" stroke="#888" stroke-width="0.5" />
<line x1="433.00" y1="519.40" x2="434.40" y2="519.40" stroke="#888" stroke-width="0.5" />
<line x1="433.00" y1="521.70" x2="434.40" y2="521.70" stroke="#888" stroke-width="0.5" />
<line x1="433.00" y1="524.00" x2="434.40" y2="524.00" stroke="#888" stroke-width="0.5" />
<line x1="433.00" y1="526.30" x2="434.40" y2="526.30" stroke="#888" stroke-width="0.5" />
<line x1="433.00" y1="528.60" x2="434.40" y2="528.60" stroke="#888" stroke-width="0.5" />
<line x1="433.00" y1="530.90" x2="434.40" y2="530.90" stroke="#888" stroke-width="0.5" />
<line x1="433.00" y1="533.20" x2="434.40" y2="533.20" stroke="#888" stroke-width="0.5" />
<line x1="433.00" y1="535.50" x2="434.40" y2="535.50" stroke="#888" stroke-width="0.5" />
<line x1="433.00" y1="537.80" x2="434.40" y2="537.80" stroke="#888" stroke-width="0.5" />
<line x1="433.00" y1="540.10" x2="434.40" y2="540.10" stroke="#888" stroke-width="0.5" />
<line x1="433.00" y1="542.40" x2="434.40" y2="542.40" stroke="#888" stroke-width="0.5" />
<line x1="433.00" y1="544.70" x2="434.40" y2="544.70" stroke="#888" stroke-width="0.5" />
<line x1="433.00" y1="547.00" x2="434.40" y2="547.00" stroke="#888" stroke-width="0.5" />
<line x1="433.00" y1="549.30" x2="434.40" y2="549.30" stroke="#888" stroke-width="0.5" />
<line x1="433.00" y1="551.60" x2="434.40" y2="551.60" stroke="#888" stroke-width="0.5" />
<line x1="433.00" y1="553.90" x2="434.40" y2="553.90" stroke="#888" stroke-width="0.5" />
<line x1="433.00" y1="556.20" x2="434.40" y2="556.20" stroke="#888" stroke-width="0.5" />
<line x1="433.00" y1="558.50" x2="434.40" y2="558.50" stroke="#888" stroke-width="0.5" />
<line x1="433.00" y1="560.80" x2="434.40" y2="560.80" stroke="#888" stroke-width="0.5" />
<line x1="433.00" y1="563.10" x2="434.40" y2="563.10" stroke="#888" stroke-width="0.5" />
<line x1="433.00" y1="565.40" x2="434.40" y2="565.40" stroke="#888" stroke-width="0.5" />
<line x1="433.00" y1="567.70" x2="434.40" y2="567.70" stroke="#888" stroke-width="0.5" />
<line x1="433.00" y1="570.00" x2="434.40" y2="570.00" stroke="#888" stroke-width="0.5" />
<line x1="433.00" y1="572.30" x2="434.40" y2="572.30" stroke="#888" stroke-width="0.5" />
<line x1="433.00" y1="574.60" x2="434.40" y2="574.60" stroke="#888" stroke-width="0.5" />
<line x1="433.00" y1="576.90" x2="434.40" y2="576.90" stroke="#888" stroke-width="0.5" />
<line x1="433.00" y1="579.20" x2="434.40" y2="579.20" stroke="#888" stroke-width="0.5" />
<line x1="433.00" y1="581.50" x2="434.40" y2="581.50" stroke="#888" stroke-width="0.5" />
<line x1="437.40" y1="582.60" x2="437.40" y2="584.00" stroke="#888" stroke-width="0.5" />
<line x1="439.70" y1="582.60" x2="439.70" y2="584.00" stroke="#888" stroke-width="0.5" />
<line x1="442.00" y1="582.60" x2="442.00" y2="584.00" stroke="#888" stroke-width="0.5" />
<line x1="444.30" y1="582.60" x2="444.30" y2="584.00" stroke="#888" stroke-width="0.5" />
<line x1="446.60" y1="582.60" x2="446.60" y2="584.00" stroke="#888" stroke-width="0.5" />
<line x1="448.90" y1="582.60" x2="448.90" y2="584.00" stroke="#888" stroke-width="0.5" />
<line x1="451.20" y1="582.60" x2="451.20" y2="584.00" stroke="#888" stroke-width="0.5" />
<line x1="453.50" y1="582.60" x2="453.50" y2="584.00" stroke="#888" stroke-width="0.5" />
<line x1="455.80" y1="582.60" x2="455.80" y2="584.00" stroke="#888" stroke-width="0.5" />
<line x1="458.10" y1="582.60" x2="458.10" y2="584.00" stroke="#888" stroke-width="0.5" />
<line x1="460.40" y1="582.60" x2="460.40" y2="584.00" stroke="#888" stroke-width="0.5" />
<line x1="462.70" y1="582.60" x2="462.70" y2="584.00" stroke="#888" stroke-width="0.5" />
<line x1="465.00" y1="582.60" x2="465.00" y2="584.00" stroke="#888" stroke-width="0.5" />
<line x1="467.30" y1="582.60" x2="467.30" y2="584.00" stroke="#888" stroke-width="0.5" />
<line x1="469.60" y1="582.60" x2="469.60" y2="584.00" stroke="#888" stroke-width="0.5" />
<line x1="471.90" y1="582.60" x2="471.90" y2="584.00" stroke="#888" stroke-width="0.5" />
<line x1="474.20" y1="582.60" x2="474.20" y2="584.00" stroke="#888" stroke-width="0.5" />
<line x1="476.50" y1="582.60" x2="476.50" y2="584.00" stroke="#888" stroke-width="0.5" />
<line x1="478.80" y1="582.60" x2="478.80" y2="584.00" stroke="#888" stroke-width="0.5" />
<line x1="481.10" y1="582.60" x2="481.10" y2="584.00" stroke="#888" stroke-width="0.5" />
<line x1="483.40" y1="582.60" x2="483.40" y2="584.00" stroke="#888" stroke-width="0.5" />
<line x1="485.70" y1="582.60" x2="485.70" y2="584.00" stroke="#888" stroke-width="0.5" />
<line x1="488.00" y1="582.60" x2="488.00" y2="584.00" stroke="#888" stroke-width="0.5" />
<line x1="490.30" y1="582.60" x2="490.30" y2="584.00" stroke="#888" stroke-width="0.5" />
<line x1="492.60" y1="582.60" x2="492.60" y2="584.00" stroke="#888" stroke-width="0.5" />
<line x1="494.90" y1="582.60" x2="494.90" y2="584.00" stroke="#888" stroke-width="0.5" />
<line x1="497.20" y1="582.60" x2="497.20" y2="584.00" stroke="#888" stroke-width="0.5" />
<line x1="499.50" y1="582.60" x2="499.50" y2="584.00" stroke="#888" stroke-width="0.5" />
<line x1="501.80" y1="582.60" x2="501.80" y2="584.00" stroke="#888" stroke-width="0.5" />
<line x1="504.10" y1="582.60" x2="504.10" y2="584.00" stroke="#888" stroke-width="0.5" />
<line x1="506.40" y1="582.60" x2="506.40" y2="584.00" stroke="#888" stroke-width="0.5" />
<line x1="508.70" y1="582.60" x2="508.70" y2="584.00" stroke="#888" stroke-width="0.5" />
<line x1="511.00" y1="582.60" x2="511.00" y2="584.00" stroke="#888" stroke-width="0.5" />
<line x1="513.30" y1="582.60" x2="513.30" y2="584.00" stroke="#888" stroke-width="0.5" />
<line x1="515.60" y1="582.60" x2="515.60" y2="584.00" stroke="#888" stroke-width="0.5" />
<line x1="517.90" y1="582.60" x2="517.90" y2="584.00" stroke="#888" stroke-width="0.5" />
<line x1="520.20" y1="582.60" x2="520.20" y2="584.00" stroke="#888" stroke-width="0.5" />
<line x1="522.50" y1="582.60" x2="522.50" y2="584.00" stroke="#888" stroke-width="0.5" />
<line x1="524.80" y1="582.60" x2="524.80" y2="584.00" stroke="#888" stroke-width="0.5" />
<rect x="446.5" y="501.1" width="23.3" height="42" fill="none" stroke="#333" stroke-width="0.9"/>
<rect x="470.6" y="543.1" width="38" height="35.4" fill="none" stroke="#333" stroke-width="0.9"/>
<rect x="432.4" y="559" width="2" height="4" fill="#111"/>
<path d="M311.1 497 L315.1 504.4 L307.1 504.4 Z" fill="#000"/>
<line x1="311.10" y1="504.00" x2="311.10" y2="518.50" stroke="#000" stroke-width="1.1" />
<text transform="translate(314.6,558.9) rotate(-90)" font-size="9.3" font-weight="bold" stroke="#111" stroke-width="0.3" text-anchor="middle" textLength="77" lengthAdjust="spacingAndGlyphs">Lyve1 – eFluor 450</text>
<text x="322.30" y="607.50" font-size="9.0" font-weight="bold" text-anchor="start" fill="#000" textLength="86.4" lengthAdjust="spacingAndGlyphs" stroke="#111" stroke-width="0.3">MHCII – PerCP Cy5.5</text>
<line x1="409.40" y1="603.60" x2="525.50" y2="603.60" stroke="#333" stroke-width="1.1" />
<path d="M531.5 603.6 L523.9 599.6 L523.9 607.6 Z" fill="#000"/>
<text transform="translate(0.18,644.80) scale(0.763,1)" font-size="19.91" font-weight="bold" fill="#000" stroke="#000" stroke-width="0.5">K</text>
<rect x="64.20" y="690.00" width="14.80" height="62.70" fill="#bfbfbf" />
<rect x="86.90" y="699.60" width="14.70" height="53.10" fill="#bfbfbf" />
<line x1="57.50" y1="651.30" x2="57.50" y2="753.10" stroke="#111" stroke-width="1.2" />
<line x1="56.90" y1="752.50" x2="109.30" y2="752.50" stroke="#111" stroke-width="1.2" />
<line x1="53.00" y1="651.50" x2="57.50" y2="651.50" stroke="#111" stroke-width="1.0" />
<text x="51.50" y="653.95" font-size="7.3" font-weight="bold" text-anchor="end" fill="#000" >100</text>
<line x1="53.00" y1="671.50" x2="57.50" y2="671.50" stroke="#111" stroke-width="1.0" />
<text x="51.50" y="673.95" font-size="7.3" font-weight="bold" text-anchor="end" fill="#000" >80</text>
<line x1="53.00" y1="692.50" x2="57.50" y2="692.50" stroke="#111" stroke-width="1.0" />
<text x="51.50" y="694.95" font-size="7.3" font-weight="bold" text-anchor="end" fill="#000" >60</text>
<line x1="53.00" y1="712.50" x2="57.50" y2="712.50" stroke="#111" stroke-width="1.0" />
<text x="51.50" y="714.95" font-size="7.3" font-weight="bold" text-anchor="end" fill="#000" >40</text>
<line x1="53.00" y1="732.50" x2="57.50" y2="732.50" stroke="#111" stroke-width="1.0" />
<text x="51.50" y="734.95" font-size="7.3" font-weight="bold" text-anchor="end" fill="#000" >20</text>
<line x1="53.00" y1="752.50" x2="57.50" y2="752.50" stroke="#111" stroke-width="1.0" />
<text x="51.50" y="754.95" font-size="7.3" font-weight="bold" text-anchor="end" fill="#000" >0</text>
<line x1="71.50" y1="752.50" x2="71.50" y2="756.80" stroke="#111" stroke-width="1.1" />
<line x1="94.50" y1="752.50" x2="94.50" y2="756.80" stroke="#111" stroke-width="1.1" />
<line x1="71.50" y1="676.50" x2="71.50" y2="702.50" stroke="#1f9acb" stroke-width="1.2" />
<line x1="67.70" y1="676.50" x2="75.30" y2="676.50" stroke="#1f9acb" stroke-width="1.2" />
<line x1="67.70" y1="702.50" x2="75.30" y2="702.50" stroke="#1f9acb" stroke-width="1.2" />
<line x1="94.50" y1="686.50" x2="94.50" y2="712.50" stroke="#a3197e" stroke-width="1.2" />
<line x1="90.75" y1="686.50" x2="98.25" y2="686.50" stroke="#a3197e" stroke-width="1.2" />
<line x1="90.75" y1="712.50" x2="98.25" y2="712.50" stroke="#a3197e" stroke-width="1.2" />
<circle cx="66.45" cy="678.50" r="2.2" fill="#1f9acb"/>
<circle cx="77.10" cy="674.70" r="2.2" fill="#1f9acb"/>
<circle cx="66.45" cy="684.40" r="2.2" fill="#1f9acb"/>
<circle cx="66.45" cy="688.50" r="2.2" fill="#1f9acb"/>
<circle cx="77.10" cy="687.90" r="2.2" fill="#1f9acb"/>
<circle cx="71.90" cy="700.70" r="2.2" fill="#1f9acb"/>
<circle cx="71.90" cy="712.30" r="2.2" fill="#1f9acb"/>
<circle cx="94.05" cy="676.80" r="2.2" fill="#a3197e"/>
<circle cx="94.05" cy="685.30" r="2.2" fill="#a3197e"/>
<circle cx="94.05" cy="690.40" r="2.2" fill="#a3197e"/>
<circle cx="88.70" cy="700.50" r="2.2" fill="#a3197e"/>
<circle cx="99.50" cy="701.20" r="2.2" fill="#a3197e"/>
<circle cx="94.05" cy="703.60" r="2.2" fill="#a3197e"/>
<circle cx="90.90" cy="709.00" r="2.2" fill="#a3197e"/>
<circle cx="97.00" cy="709.00" r="2.2" fill="#a3197e"/>
<circle cx="94.05" cy="716.80" r="2.2" fill="#a3197e"/>
<path d="M71.50 668.80 V662.50 H94.50 V670.60" fill="none" stroke="#222" stroke-width="1"/>
<text x="82.50" y="657.90" font-size="8.3" text-anchor="middle" fill="#111" >0.1550</text>
<text transform="translate(30.60,702.40) rotate(-90)" x="0" y="0" font-size="8.4" font-weight="bold" text-anchor="middle" dominant-baseline="central" textLength="82.5" lengthAdjust="spacingAndGlyphs">% of CD9<tspan font-size="5.5" dy="-3">+</tspan><tspan dy="3"> CD63</tspan><tspan font-size="5.5" dy="-3">+</tspan><tspan dy="3"> MΦ</tspan></text>
<text x="71.50" y="765.20" font-size="8.2" font-weight="bold" text-anchor="middle" fill="#000" textLength="12.6" lengthAdjust="spacingAndGlyphs">WT</text>
<text x="82.00" y="765.20" font-size="8.2" font-weight="bold" text-anchor="start" fill="#000"><tspan textLength="16.2" lengthAdjust="spacingAndGlyphs">Atg7</tspan><tspan font-size="5.90" font-weight="normal" dy="-3.44">Ad</tspan></text>
<text transform="translate(136.67,645.00) scale(0.705,1)" font-size="19.62" font-weight="bold" fill="#000" stroke="#000" stroke-width="0.5">L</text>
<rect x="202.70" y="745.60" width="14.70" height="6.70" fill="#bfbfbf" />
<rect x="225.10" y="706.30" width="14.90" height="46.00" fill="#bfbfbf" />
<line x1="195.50" y1="650.70" x2="195.50" y2="753.10" stroke="#111" stroke-width="1.2" />
<line x1="194.90" y1="752.50" x2="247.70" y2="752.50" stroke="#111" stroke-width="1.2" />
<line x1="191.00" y1="650.50" x2="195.50" y2="650.50" stroke="#111" stroke-width="1.0" />
<text x="189.50" y="652.95" font-size="7.3" font-weight="bold" text-anchor="end" fill="#000" >80</text>
<line x1="191.00" y1="676.50" x2="195.50" y2="676.50" stroke="#111" stroke-width="1.0" />
<text x="189.50" y="678.95" font-size="7.3" font-weight="bold" text-anchor="end" fill="#000" >60</text>
<line x1="191.00" y1="701.50" x2="195.50" y2="701.50" stroke="#111" stroke-width="1.0" />
<text x="189.50" y="703.95" font-size="7.3" font-weight="bold" text-anchor="end" fill="#000" >40</text>
<line x1="191.00" y1="726.50" x2="195.50" y2="726.50" stroke="#111" stroke-width="1.0" />
<text x="189.50" y="728.95" font-size="7.3" font-weight="bold" text-anchor="end" fill="#000" >20</text>
<line x1="191.00" y1="752.50" x2="195.50" y2="752.50" stroke="#111" stroke-width="1.0" />
<text x="189.50" y="754.95" font-size="7.3" font-weight="bold" text-anchor="end" fill="#000" >0</text>
<line x1="210.50" y1="752.50" x2="210.50" y2="756.80" stroke="#111" stroke-width="1.1" />
<line x1="232.50" y1="752.50" x2="232.50" y2="756.80" stroke="#111" stroke-width="1.1" />
<line x1="210.50" y1="741.50" x2="210.50" y2="745.50" stroke="#1f9acb" stroke-width="1.2" />
<line x1="207.50" y1="741.50" x2="213.50" y2="741.50" stroke="#1f9acb" stroke-width="1.2" />
<line x1="207.50" y1="745.50" x2="213.50" y2="745.50" stroke="#1f9acb" stroke-width="1.2" />
<line x1="232.50" y1="684.50" x2="232.50" y2="727.50" stroke="#a3197e" stroke-width="1.2" />
<line x1="228.75" y1="684.50" x2="236.25" y2="684.50" stroke="#a3197e" stroke-width="1.2" />
<line x1="228.75" y1="727.50" x2="236.25" y2="727.50" stroke="#a3197e" stroke-width="1.2" />
<circle cx="206.00" cy="739.50" r="2.2" fill="#1f9acb"/>
<circle cx="214.50" cy="739.00" r="2.2" fill="#1f9acb"/>
<circle cx="207.50" cy="743.50" r="2.2" fill="#1f9acb"/>
<circle cx="212.50" cy="743.50" r="2.2" fill="#1f9acb"/>
<circle cx="206.00" cy="747.00" r="2.2" fill="#1f9acb"/>
<circle cx="214.50" cy="747.00" r="2.2" fill="#1f9acb"/>
<circle cx="210.00" cy="745.00" r="2.2" fill="#1f9acb"/>
<circle cx="232.40" cy="679.40" r="2.2" fill="#a3197e"/>
<circle cx="232.40" cy="688.60" r="2.2" fill="#a3197e"/>
<circle cx="227.00" cy="715.90" r="2.2" fill="#a3197e"/>
<circle cx="237.80" cy="717.20" r="2.2" fill="#a3197e"/>
<circle cx="232.40" cy="729.30" r="2.2" fill="#a3197e"/>
<path d="M210.50 736.00 V667.50 H232.50 V672.70" fill="none" stroke="#222" stroke-width="1"/>
<text x="220.90" y="662.70" font-size="8.3" text-anchor="middle" fill="#111" >0.0008</text>
<text transform="translate(173.20,702.00) rotate(-90)" x="0" y="0" font-size="8.4" font-weight="bold" text-anchor="middle" dominant-baseline="central" textLength="96.8" lengthAdjust="spacingAndGlyphs">% of MHCII<tspan font-size="5.5" dy="-3">lo</tspan><tspan dy="3"> Lyve1</tspan><tspan font-size="5.5" dy="-3">hi</tspan><tspan dy="3"> MΦ</tspan></text>
<text x="210.00" y="764.50" font-size="8.2" font-weight="bold" text-anchor="middle" fill="#000" textLength="12.6" lengthAdjust="spacingAndGlyphs">WT</text>
<text x="221.00" y="764.50" font-size="8.2" font-weight="bold" text-anchor="start" fill="#000"><tspan textLength="16.2" lengthAdjust="spacingAndGlyphs">Atg7</tspan><tspan font-size="5.90" font-weight="normal" dy="-3.44">Ad</tspan></text>
<text transform="translate(272.95,644.60) scale(1.181,1)" font-size="19.62" font-weight="bold" fill="#000" stroke="#000" stroke-width="0.5">M</text>
<rect x="345.30" y="679.40" width="14.80" height="72.20" fill="#bfbfbf" />
<rect x="367.80" y="723.00" width="14.90" height="28.60" fill="#bfbfbf" />
<line x1="338.50" y1="650.10" x2="338.50" y2="752.10" stroke="#111" stroke-width="1.2" />
<line x1="337.90" y1="751.50" x2="390.00" y2="751.50" stroke="#111" stroke-width="1.2" />
<line x1="334.00" y1="650.50" x2="338.50" y2="650.50" stroke="#111" stroke-width="1.0" />
<text x="332.50" y="652.95" font-size="7.3" font-weight="bold" text-anchor="end" fill="#000" >80</text>
<line x1="334.00" y1="675.50" x2="338.50" y2="675.50" stroke="#111" stroke-width="1.0" />
<text x="332.50" y="677.95" font-size="7.3" font-weight="bold" text-anchor="end" fill="#000" >60</text>
<line x1="334.00" y1="700.50" x2="338.50" y2="700.50" stroke="#111" stroke-width="1.0" />
<text x="332.50" y="702.95" font-size="7.3" font-weight="bold" text-anchor="end" fill="#000" >40</text>
<line x1="334.00" y1="726.50" x2="338.50" y2="726.50" stroke="#111" stroke-width="1.0" />
<text x="332.50" y="728.95" font-size="7.3" font-weight="bold" text-anchor="end" fill="#000" >20</text>
<line x1="334.00" y1="751.50" x2="338.50" y2="751.50" stroke="#111" stroke-width="1.0" />
<text x="332.50" y="753.95" font-size="7.3" font-weight="bold" text-anchor="end" fill="#000" >0</text>
<line x1="352.50" y1="751.50" x2="352.50" y2="755.80" stroke="#111" stroke-width="1.1" />
<line x1="374.50" y1="751.50" x2="374.50" y2="755.80" stroke="#111" stroke-width="1.1" />
<line x1="352.50" y1="665.50" x2="352.50" y2="694.50" stroke="#1f9acb" stroke-width="1.2" />
<line x1="348.75" y1="665.50" x2="356.25" y2="665.50" stroke="#1f9acb" stroke-width="1.2" />
<line x1="348.75" y1="694.50" x2="356.25" y2="694.50" stroke="#1f9acb" stroke-width="1.2" />
<line x1="375.50" y1="706.50" x2="375.50" y2="739.50" stroke="#a3197e" stroke-width="1.2" />
<line x1="371.75" y1="706.50" x2="379.25" y2="706.50" stroke="#a3197e" stroke-width="1.2" />
<line x1="371.75" y1="739.50" x2="379.25" y2="739.50" stroke="#a3197e" stroke-width="1.2" />
<circle cx="358.20" cy="662.20" r="2.2" fill="#1f9acb"/>
<circle cx="352.60" cy="666.00" r="2.2" fill="#1f9acb"/>
<circle cx="347.20" cy="672.20" r="2.2" fill="#1f9acb"/>
<circle cx="358.20" cy="674.10" r="2.2" fill="#1f9acb"/>
<circle cx="352.60" cy="674.60" r="2.2" fill="#1f9acb"/>
<circle cx="352.60" cy="683.30" r="2.2" fill="#1f9acb"/>
<circle cx="352.60" cy="695.70" r="2.2" fill="#1f9acb"/>
<circle cx="352.60" cy="705.90" r="2.2" fill="#1f9acb"/>
<circle cx="369.70" cy="698.60" r="2.2" fill="#a3197e"/>
<circle cx="380.40" cy="701.50" r="2.2" fill="#a3197e"/>
<circle cx="375.10" cy="721.20" r="2.2" fill="#a3197e"/>
<circle cx="369.70" cy="732.20" r="2.2" fill="#a3197e"/>
<circle cx="380.40" cy="730.80" r="2.2" fill="#a3197e"/>
<circle cx="380.40" cy="735.40" r="2.2" fill="#a3197e"/>
<circle cx="369.70" cy="739.80" r="2.2" fill="#a3197e"/>
<path d="M352.50 656.40 V650.50 H375.50 V692.90" fill="none" stroke="#222" stroke-width="1"/>
<text x="363.50" y="646.00" font-size="8.3" text-anchor="middle" fill="#111" >0.0001</text>
<text transform="translate(315.50,701.50) rotate(-90)" x="0" y="0" font-size="8.4" font-weight="bold" text-anchor="middle" dominant-baseline="central" textLength="95.8" lengthAdjust="spacingAndGlyphs">% of MHCII<tspan font-size="5.5" dy="-3">hi</tspan><tspan dy="3"> Lyve1</tspan><tspan font-size="5.5" dy="-3">lo</tspan><tspan dy="3"> MΦ</tspan></text>
<text x="352.70" y="764.20" font-size="8.2" font-weight="bold" text-anchor="middle" fill="#000" textLength="12.6" lengthAdjust="spacingAndGlyphs">WT</text>
<text x="362.90" y="764.20" font-size="8.2" font-weight="bold" text-anchor="start" fill="#000"><tspan textLength="16.2" lengthAdjust="spacingAndGlyphs">Atg7</tspan><tspan font-size="5.90" font-weight="normal" dy="-3.44">Ad</tspan></text>
</svg></body></html>
